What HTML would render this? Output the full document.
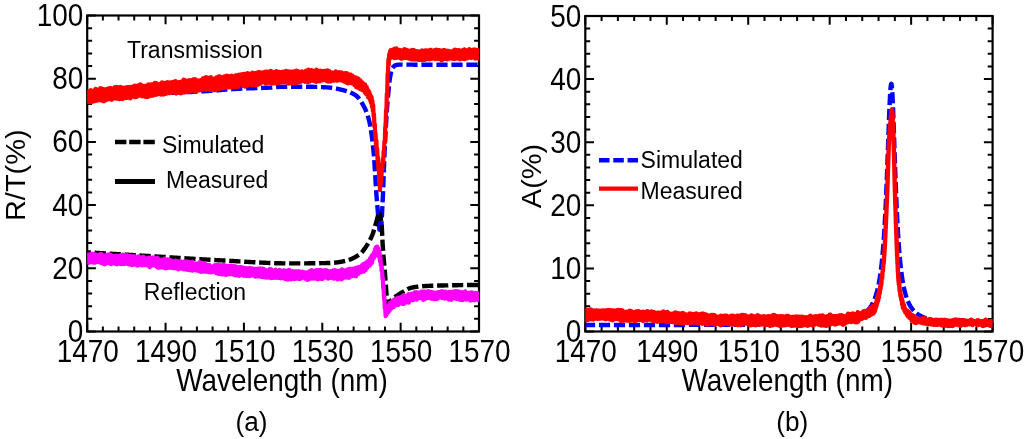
<!DOCTYPE html>
<html><head><meta charset="utf-8"><style>
html,body{margin:0;padding:0;background:#fff;}
svg{display:block;}
text{font-family:"Liberation Sans", sans-serif;fill:#000;}
</style></head><body>
<svg width="1024" height="439" viewBox="0 0 1024 439">
<rect width="1024" height="439" fill="#fff"/>
<defs><clipPath id="ca"><rect x="87.2" y="15.5" width="391.80" height="316.00"/></clipPath>
<clipPath id="cb"><rect x="585.3" y="16.0" width="407.30" height="315.50"/></clipPath></defs>
<g fill="none" stroke="#000" stroke-width="2">
<path d="M87.20,331.50v-8.7M87.20,15.50v8.7M102.87,331.50v-4.9M102.87,15.50v4.9M118.54,331.50v-4.9M118.54,15.50v4.9M134.22,331.50v-4.9M134.22,15.50v4.9M149.89,331.50v-4.9M149.89,15.50v4.9M165.56,331.50v-8.7M165.56,15.50v8.7M181.23,331.50v-4.9M181.23,15.50v4.9M196.90,331.50v-4.9M196.90,15.50v4.9M212.58,331.50v-4.9M212.58,15.50v4.9M228.25,331.50v-4.9M228.25,15.50v4.9M243.92,331.50v-8.7M243.92,15.50v8.7M259.59,331.50v-4.9M259.59,15.50v4.9M275.26,331.50v-4.9M275.26,15.50v4.9M290.94,331.50v-4.9M290.94,15.50v4.9M306.61,331.50v-4.9M306.61,15.50v4.9M322.28,331.50v-8.7M322.28,15.50v8.7M337.95,331.50v-4.9M337.95,15.50v4.9M353.62,331.50v-4.9M353.62,15.50v4.9M369.30,331.50v-4.9M369.30,15.50v4.9M384.97,331.50v-4.9M384.97,15.50v4.9M400.64,331.50v-8.7M400.64,15.50v8.7M416.31,331.50v-4.9M416.31,15.50v4.9M431.98,331.50v-4.9M431.98,15.50v4.9M447.66,331.50v-4.9M447.66,15.50v4.9M463.33,331.50v-4.9M463.33,15.50v4.9M479.00,331.50v-8.7M479.00,15.50v8.7M87.20,331.50h8.7M479.00,331.50h-8.7M87.20,318.86h4.9M479.00,318.86h-4.9M87.20,306.22h4.9M479.00,306.22h-4.9M87.20,293.58h4.9M479.00,293.58h-4.9M87.20,280.94h4.9M479.00,280.94h-4.9M87.20,268.30h8.7M479.00,268.30h-8.7M87.20,255.66h4.9M479.00,255.66h-4.9M87.20,243.02h4.9M479.00,243.02h-4.9M87.20,230.38h4.9M479.00,230.38h-4.9M87.20,217.74h4.9M479.00,217.74h-4.9M87.20,205.10h8.7M479.00,205.10h-8.7M87.20,192.46h4.9M479.00,192.46h-4.9M87.20,179.82h4.9M479.00,179.82h-4.9M87.20,167.18h4.9M479.00,167.18h-4.9M87.20,154.54h4.9M479.00,154.54h-4.9M87.20,141.90h8.7M479.00,141.90h-8.7M87.20,129.26h4.9M479.00,129.26h-4.9M87.20,116.62h4.9M479.00,116.62h-4.9M87.20,103.98h4.9M479.00,103.98h-4.9M87.20,91.34h4.9M479.00,91.34h-4.9M87.20,78.70h8.7M479.00,78.70h-8.7M87.20,66.06h4.9M479.00,66.06h-4.9M87.20,53.42h4.9M479.00,53.42h-4.9M87.20,40.78h4.9M479.00,40.78h-4.9M87.20,28.14h4.9M479.00,28.14h-4.9M87.20,15.50h8.7M479.00,15.50h-8.7"/>
<path d="M585.30,331.50v-8.7M585.30,16.00v8.7M601.59,331.50v-4.9M601.59,16.00v4.9M617.88,331.50v-4.9M617.88,16.00v4.9M634.18,331.50v-4.9M634.18,16.00v4.9M650.47,331.50v-4.9M650.47,16.00v4.9M666.76,331.50v-8.7M666.76,16.00v8.7M683.05,331.50v-4.9M683.05,16.00v4.9M699.34,331.50v-4.9M699.34,16.00v4.9M715.64,331.50v-4.9M715.64,16.00v4.9M731.93,331.50v-4.9M731.93,16.00v4.9M748.22,331.50v-8.7M748.22,16.00v8.7M764.51,331.50v-4.9M764.51,16.00v4.9M780.80,331.50v-4.9M780.80,16.00v4.9M797.10,331.50v-4.9M797.10,16.00v4.9M813.39,331.50v-4.9M813.39,16.00v4.9M829.68,331.50v-8.7M829.68,16.00v8.7M845.97,331.50v-4.9M845.97,16.00v4.9M862.26,331.50v-4.9M862.26,16.00v4.9M878.56,331.50v-4.9M878.56,16.00v4.9M894.85,331.50v-4.9M894.85,16.00v4.9M911.14,331.50v-8.7M911.14,16.00v8.7M927.43,331.50v-4.9M927.43,16.00v4.9M943.72,331.50v-4.9M943.72,16.00v4.9M960.02,331.50v-4.9M960.02,16.00v4.9M976.31,331.50v-4.9M976.31,16.00v4.9M992.60,331.50v-8.7M992.60,16.00v8.7M585.30,331.50h8.7M992.60,331.50h-8.7M585.30,318.88h4.9M992.60,318.88h-4.9M585.30,306.26h4.9M992.60,306.26h-4.9M585.30,293.64h4.9M992.60,293.64h-4.9M585.30,281.02h4.9M992.60,281.02h-4.9M585.30,268.40h8.7M992.60,268.40h-8.7M585.30,255.78h4.9M992.60,255.78h-4.9M585.30,243.16h4.9M992.60,243.16h-4.9M585.30,230.54h4.9M992.60,230.54h-4.9M585.30,217.92h4.9M992.60,217.92h-4.9M585.30,205.30h8.7M992.60,205.30h-8.7M585.30,192.68h4.9M992.60,192.68h-4.9M585.30,180.06h4.9M992.60,180.06h-4.9M585.30,167.44h4.9M992.60,167.44h-4.9M585.30,154.82h4.9M992.60,154.82h-4.9M585.30,142.20h8.7M992.60,142.20h-8.7M585.30,129.58h4.9M992.60,129.58h-4.9M585.30,116.96h4.9M992.60,116.96h-4.9M585.30,104.34h4.9M992.60,104.34h-4.9M585.30,91.72h4.9M992.60,91.72h-4.9M585.30,79.10h8.7M992.60,79.10h-8.7M585.30,66.48h4.9M992.60,66.48h-4.9M585.30,53.86h4.9M992.60,53.86h-4.9M585.30,41.24h4.9M992.60,41.24h-4.9M585.30,28.62h4.9M992.60,28.62h-4.9M585.30,16.00h8.7M992.60,16.00h-8.7"/>
</g>
<g fill="none" stroke="#000" stroke-width="2.2">
<rect x="87.2" y="15.5" width="391.80" height="316.00"/>
<rect x="585.3" y="16.0" width="407.30" height="315.50"/>
</g>
<g fill="none" stroke-linejoin="round" stroke-linecap="butt" clip-path="url(#ca)">
<polyline points="87.20,96.50 87.30,96.50 87.40,96.49 87.50,96.49 87.60,96.48 87.70,96.48 87.80,96.47 87.90,96.47 88.00,96.47 88.10,96.46 88.20,96.46 88.30,96.45 88.40,96.45 88.50,96.45 88.60,96.44 88.70,96.44 88.80,96.43 88.90,96.43 89.00,96.42 89.10,96.42 89.20,96.42 89.30,96.41 89.40,96.41 89.50,96.40 89.60,96.40 89.70,96.39 89.80,96.39 89.90,96.39 90.00,96.38 90.10,96.38 90.20,96.37 90.30,96.37 90.40,96.36 90.50,96.36 90.60,96.36 90.70,96.35 90.80,96.35 90.90,96.34 91.00,96.34 91.10,96.34 91.20,96.33 91.30,96.33 91.40,96.32 91.50,96.32 91.60,96.31 91.70,96.31 91.80,96.31 91.90,96.30 92.00,96.30 92.10,96.29 92.20,96.29 92.30,96.28 92.40,96.28 92.50,96.28 92.60,96.27 92.70,96.27 92.80,96.26 92.90,96.26 93.00,96.25 93.10,96.25 93.20,96.25 93.30,96.24 93.40,96.24 93.50,96.23 93.60,96.23 93.70,96.23 93.80,96.22 93.90,96.22 94.00,96.21 94.10,96.21 94.20,96.20 94.30,96.20 94.40,96.20 94.50,96.19 94.60,96.19 94.70,96.18 94.80,96.18 94.90,96.17 95.00,96.17 95.10,96.17 95.20,96.16 95.30,96.16 95.40,96.15 95.50,96.15 95.60,96.14 95.70,96.14 95.80,96.14 95.90,96.13 96.00,96.13 96.10,96.12 96.20,96.12 96.30,96.11 96.40,96.11 96.50,96.11 96.60,96.10 96.70,96.10 96.80,96.09 96.90,96.09 97.00,96.09 97.10,96.08 97.20,96.08 97.30,96.07 97.40,96.07 97.50,96.06 97.60,96.06 97.70,96.06 97.80,96.05 97.90,96.05 98.00,96.04 98.10,96.04 98.20,96.03 98.30,96.03 98.40,96.03 98.50,96.02 98.60,96.02 98.70,96.01 98.80,96.01 98.90,96.00 99.00,96.00 99.10,96.00 99.20,95.99 99.30,95.99 99.40,95.98 99.50,95.98 99.60,95.97 99.70,95.97 99.80,95.97 99.90,95.96 100.00,95.96 100.10,95.95 100.20,95.95 100.30,95.94 100.40,95.94 100.50,95.94 100.60,95.93 100.70,95.93 100.80,95.92 100.90,95.92 101.00,95.91 101.10,95.91 101.20,95.91 101.30,95.90 101.40,95.90 101.50,95.89 101.60,95.89 101.70,95.88 101.80,95.88 101.90,95.88 102.00,95.87 102.10,95.87 102.20,95.86 102.30,95.86 102.40,95.86 102.50,95.85 102.60,95.85 102.70,95.84 102.80,95.84 102.90,95.83 103.00,95.83 103.10,95.83 103.20,95.82 103.30,95.82 103.40,95.81 103.50,95.81 103.60,95.80 103.70,95.80 103.80,95.80 103.90,95.79 104.00,95.79 104.10,95.78 104.20,95.78 104.30,95.77 104.40,95.77 104.50,95.77 104.60,95.76 104.70,95.76 104.80,95.75 104.90,95.75 105.00,95.74 105.10,95.74 105.20,95.74 105.30,95.73 105.40,95.73 105.50,95.72 105.60,95.72 105.70,95.71 105.80,95.71 105.90,95.71 106.00,95.70 106.10,95.70 106.20,95.69 106.30,95.69 106.40,95.68 106.50,95.68 106.60,95.68 106.70,95.67 106.80,95.67 106.90,95.66 107.00,95.66 107.10,95.65 107.20,95.65 107.30,95.65 107.40,95.64 107.50,95.64 107.60,95.63 107.70,95.63 107.80,95.62 107.90,95.62 108.00,95.62 108.10,95.61 108.20,95.61 108.30,95.60 108.40,95.60 108.50,95.59 108.60,95.59 108.70,95.59 108.80,95.58 108.90,95.58 109.00,95.57 109.10,95.57 109.20,95.56 109.30,95.56 109.40,95.55 109.50,95.55 109.60,95.55 109.70,95.54 109.80,95.54 109.90,95.53 110.00,95.53 110.10,95.52 110.20,95.52 110.30,95.52 110.40,95.51 110.50,95.51 110.60,95.50 110.70,95.50 110.80,95.49 110.90,95.49 111.00,95.49 111.10,95.48 111.20,95.48 111.30,95.47 111.40,95.47 111.50,95.46 111.60,95.46 111.70,95.46 111.80,95.45 111.90,95.45 112.00,95.44 112.10,95.44 112.20,95.43 112.30,95.43 112.40,95.43 112.50,95.42 112.60,95.42 112.70,95.41 112.80,95.41 112.90,95.40 113.00,95.40 113.10,95.40 113.20,95.39 113.30,95.39 113.40,95.38 113.50,95.38 113.60,95.37 113.70,95.37 113.80,95.37 113.90,95.36 114.00,95.36 114.10,95.35 114.20,95.35 114.30,95.34 114.40,95.34 114.50,95.34 114.60,95.33 114.70,95.33 114.80,95.32 114.90,95.32 115.00,95.31 115.10,95.31 115.20,95.30 115.30,95.30 115.40,95.30 115.50,95.29 115.60,95.29 115.70,95.28 115.80,95.28 115.90,95.27 116.00,95.27 116.10,95.27 116.20,95.26 116.30,95.26 116.40,95.25 116.50,95.25 116.60,95.24 116.70,95.24 116.80,95.24 116.90,95.23 117.00,95.23 117.10,95.22 117.20,95.22 117.30,95.21 117.40,95.21 117.50,95.21 117.60,95.20 117.70,95.20 117.80,95.19 117.90,95.19 118.00,95.18 118.10,95.18 118.20,95.18 118.30,95.17 118.40,95.17 118.50,95.16 118.60,95.16 118.70,95.15 118.80,95.15 118.90,95.14 119.00,95.14 119.10,95.14 119.20,95.13 119.30,95.13 119.40,95.12 119.50,95.12 119.60,95.11 119.70,95.11 119.80,95.11 119.90,95.10 120.00,95.10 120.10,95.09 120.20,95.09 120.30,95.08 120.40,95.08 120.50,95.08 120.60,95.07 120.70,95.07 120.80,95.06 120.90,95.06 121.00,95.05 121.10,95.05 121.20,95.04 121.30,95.04 121.40,95.04 121.50,95.03 121.60,95.03 121.70,95.02 121.80,95.02 121.90,95.01 122.00,95.01 122.10,95.01 122.20,95.00 122.30,95.00 122.40,94.99 122.50,94.99 122.60,94.98 122.70,94.98 122.80,94.98 122.90,94.97 123.00,94.97 123.10,94.96 123.20,94.96 123.30,94.95 123.40,94.95 123.50,94.94 123.60,94.94 123.70,94.94 123.80,94.93 123.90,94.93 124.00,94.92 124.10,94.92 124.20,94.91 124.30,94.91 124.40,94.91 124.50,94.90 124.60,94.90 124.70,94.89 124.80,94.89 124.90,94.88 125.00,94.88 125.10,94.88 125.20,94.87 125.30,94.87 125.40,94.86 125.50,94.86 125.60,94.85 125.70,94.85 125.80,94.84 125.90,94.84 126.00,94.84 126.10,94.83 126.20,94.83 126.30,94.82 126.40,94.82 126.50,94.81 126.60,94.81 126.70,94.81 126.80,94.80 126.90,94.80 127.00,94.79 127.10,94.79 127.20,94.78 127.30,94.78 127.40,94.77 127.50,94.77 127.60,94.77 127.70,94.76 127.80,94.76 127.90,94.75 128.00,94.75 128.10,94.74 128.20,94.74 128.30,94.74 128.40,94.73 128.50,94.73 128.60,94.72 128.70,94.72 128.80,94.71 128.90,94.71 129.00,94.70 129.10,94.70 129.20,94.70 129.30,94.69 129.40,94.69 129.50,94.68 129.60,94.68 129.70,94.67 129.80,94.67 129.90,94.67 130.00,94.66 130.10,94.66 130.20,94.65 130.30,94.65 130.40,94.64 130.50,94.64 130.60,94.63 130.70,94.63 130.80,94.63 130.90,94.62 131.00,94.62 131.10,94.61 131.20,94.61 131.30,94.60 131.40,94.60 131.50,94.60 131.60,94.59 131.70,94.59 131.80,94.58 131.90,94.58 132.00,94.57 132.10,94.57 132.20,94.56 132.30,94.56 132.40,94.56 132.50,94.55 132.60,94.55 132.70,94.54 132.80,94.54 132.90,94.53 133.00,94.53 133.10,94.53 133.20,94.52 133.30,94.52 133.40,94.51 133.50,94.51 133.60,94.50 133.70,94.50 133.80,94.49 133.90,94.49 134.00,94.49 134.10,94.48 134.20,94.48 134.30,94.47 134.40,94.47 134.50,94.46 134.60,94.46 134.70,94.45 134.80,94.45 134.90,94.45 135.00,94.44 135.10,94.44 135.20,94.43 135.30,94.43 135.40,94.42 135.50,94.42 135.60,94.42 135.70,94.41 135.80,94.41 135.90,94.40 136.00,94.40 136.10,94.39 136.20,94.39 136.30,94.38 136.40,94.38 136.50,94.38 136.60,94.37 136.70,94.37 136.80,94.36 136.90,94.36 137.00,94.35 137.10,94.35 137.20,94.34 137.30,94.34 137.40,94.34 137.50,94.33 137.60,94.33 137.70,94.32 137.80,94.32 137.90,94.31 138.00,94.31 138.10,94.31 138.20,94.30 138.30,94.30 138.40,94.29 138.50,94.29 138.60,94.28 138.70,94.28 138.80,94.27 138.90,94.27 139.00,94.27 139.10,94.26 139.20,94.26 139.30,94.25 139.40,94.25 139.50,94.24 139.60,94.24 139.70,94.23 139.80,94.23 139.90,94.23 140.00,94.22 140.10,94.22 140.20,94.21 140.30,94.21 140.40,94.20 140.50,94.20 140.60,94.19 140.70,94.19 140.80,94.19 140.90,94.18 141.00,94.18 141.10,94.17 141.20,94.17 141.30,94.16 141.40,94.16 141.50,94.15 141.60,94.15 141.70,94.15 141.80,94.14 141.90,94.14 142.00,94.13 142.10,94.13 142.20,94.12 142.30,94.12 142.40,94.12 142.50,94.11 142.60,94.11 142.70,94.10 142.80,94.10 142.90,94.09 143.00,94.09 143.10,94.08 143.20,94.08 143.30,94.08 143.40,94.07 143.50,94.07 143.60,94.06 143.70,94.06 143.80,94.05 143.90,94.05 144.00,94.04 144.10,94.04 144.20,94.04 144.30,94.03 144.40,94.03 144.50,94.02 144.60,94.02 144.70,94.01 144.80,94.01 144.90,94.00 145.00,94.00 145.10,94.00 145.20,93.99 145.30,93.99 145.40,93.98 145.50,93.98 145.60,93.97 145.70,93.97 145.80,93.96 145.90,93.96 146.00,93.96 146.10,93.95 146.20,93.95 146.30,93.94 146.40,93.94 146.50,93.93 146.60,93.93 146.70,93.93 146.80,93.92 146.90,93.92 147.00,93.91 147.10,93.91 147.20,93.90 147.30,93.90 147.40,93.89 147.50,93.89 147.60,93.89 147.70,93.88 147.80,93.88 147.90,93.87 148.00,93.87 148.10,93.86 148.20,93.86 148.30,93.86 148.40,93.85 148.50,93.85 148.60,93.84 148.70,93.84 148.80,93.83 148.90,93.83 149.00,93.82 149.10,93.82 149.20,93.82 149.30,93.81 149.40,93.81 149.50,93.80 149.60,93.80 149.70,93.79 149.80,93.79 149.90,93.79 150.00,93.78 150.10,93.78 150.20,93.77 150.30,93.77 150.40,93.76 150.50,93.76 150.60,93.76 150.70,93.75 150.80,93.75 150.90,93.74 151.00,93.74 151.10,93.73 151.20,93.73 151.30,93.73 151.40,93.72 151.50,93.72 151.60,93.71 151.70,93.71 151.80,93.70 151.90,93.70 152.00,93.70 152.10,93.69 152.20,93.69 152.30,93.68 152.40,93.68 152.50,93.67 152.60,93.67 152.70,93.67 152.80,93.66 152.90,93.66 153.00,93.65 153.10,93.65 153.20,93.64 153.30,93.64 153.40,93.64 153.50,93.63 153.60,93.63 153.70,93.62 153.80,93.62 153.90,93.61 154.00,93.61 154.10,93.61 154.20,93.60 154.30,93.60 154.40,93.59 154.50,93.59 154.60,93.59 154.70,93.58 154.80,93.58 154.90,93.57 155.00,93.57 155.10,93.56 155.20,93.56 155.30,93.56 155.40,93.55 155.50,93.55 155.60,93.54 155.70,93.54 155.80,93.53 155.90,93.53 156.00,93.53 156.10,93.52 156.20,93.52 156.30,93.51 156.40,93.51 156.50,93.50 156.60,93.50 156.70,93.50 156.80,93.49 156.90,93.49 157.00,93.48 157.10,93.48 157.20,93.48 157.30,93.47 157.40,93.47 157.50,93.46 157.60,93.46 157.70,93.45 157.80,93.45 157.90,93.45 158.00,93.44 158.10,93.44 158.20,93.43 158.30,93.43 158.40,93.42 158.50,93.42 158.60,93.42 158.70,93.41 158.80,93.41 158.90,93.40 159.00,93.40 159.10,93.40 159.20,93.39 159.30,93.39 159.40,93.38 159.50,93.38 159.60,93.37 159.70,93.37 159.80,93.37 159.90,93.36 160.00,93.36 160.10,93.35 160.20,93.35 160.30,93.35 160.40,93.34 160.50,93.34 160.60,93.33 160.70,93.33 160.80,93.32 160.90,93.32 161.00,93.32 161.10,93.31 161.20,93.31 161.30,93.30 161.40,93.30 161.50,93.29 161.60,93.29 161.70,93.29 161.80,93.28 161.90,93.28 162.00,93.27 162.10,93.27 162.20,93.27 162.30,93.26 162.40,93.26 162.50,93.25 162.60,93.25 162.70,93.24 162.80,93.24 162.90,93.24 163.00,93.23 163.10,93.23 163.20,93.22 163.30,93.22 163.40,93.21 163.50,93.21 163.60,93.21 163.70,93.20 163.80,93.20 163.90,93.19 164.00,93.19 164.10,93.19 164.20,93.18 164.30,93.18 164.40,93.17 164.50,93.17 164.60,93.16 164.70,93.16 164.80,93.16 164.90,93.15 165.00,93.15 165.10,93.14 165.20,93.14 165.30,93.13 165.40,93.13 165.50,93.13 165.60,93.12 165.70,93.12 165.80,93.11 165.90,93.11 166.00,93.11 166.10,93.10 166.20,93.10 166.30,93.09 166.40,93.09 166.50,93.08 166.60,93.08 166.70,93.08 166.80,93.07 166.90,93.07 167.00,93.06 167.10,93.06 167.20,93.05 167.30,93.05 167.40,93.05 167.50,93.04 167.60,93.04 167.70,93.03 167.80,93.03 167.90,93.03 168.00,93.02 168.10,93.02 168.20,93.01 168.30,93.01 168.40,93.00 168.50,93.00 168.60,93.00 168.70,92.99 168.80,92.99 168.90,92.98 169.00,92.98 169.10,92.97 169.20,92.97 169.30,92.97 169.40,92.96 169.50,92.96 169.60,92.95 169.70,92.95 169.80,92.94 169.90,92.94 170.00,92.94 170.10,92.93 170.20,92.93 170.30,92.92 170.40,92.92 170.50,92.91 170.60,92.91 170.70,92.91 170.80,92.90 170.90,92.90 171.00,92.89 171.10,92.89 171.20,92.88 171.30,92.88 171.40,92.88 171.50,92.87 171.60,92.87 171.70,92.86 171.80,92.86 171.90,92.85 172.00,92.85 172.10,92.85 172.20,92.84 172.30,92.84 172.40,92.83 172.50,92.83 172.60,92.82 172.70,92.82 172.80,92.82 172.90,92.81 173.00,92.81 173.10,92.80 173.20,92.80 173.30,92.79 173.40,92.79 173.50,92.79 173.60,92.78 173.70,92.78 173.80,92.77 173.90,92.77 174.00,92.76 174.10,92.76 174.20,92.75 174.30,92.75 174.40,92.75 174.50,92.74 174.60,92.74 174.70,92.73 174.80,92.73 174.90,92.72 175.00,92.72 175.10,92.72 175.20,92.71 175.30,92.71 175.40,92.70 175.50,92.70 175.60,92.69 175.70,92.69 175.80,92.68 175.90,92.68 176.00,92.68 176.10,92.67 176.20,92.67 176.30,92.66 176.40,92.66 176.50,92.65 176.60,92.65 176.70,92.65 176.80,92.64 176.90,92.64 177.00,92.63 177.10,92.63 177.20,92.62 177.30,92.62 177.40,92.61 177.50,92.61 177.60,92.61 177.70,92.60 177.80,92.60 177.90,92.59 178.00,92.59 178.10,92.58 178.20,92.58 178.30,92.57 178.40,92.57 178.50,92.57 178.60,92.56 178.70,92.56 178.80,92.55 178.90,92.55 179.00,92.54 179.10,92.54 179.20,92.53 179.30,92.53 179.40,92.52 179.50,92.52 179.60,92.52 179.70,92.51 179.80,92.51 179.90,92.50 180.00,92.50 180.10,92.49 180.20,92.49 180.30,92.48 180.40,92.48 180.50,92.47 180.60,92.47 180.70,92.47 180.80,92.46 180.90,92.46 181.00,92.45 181.10,92.45 181.20,92.44 181.30,92.44 181.40,92.43 181.50,92.43 181.60,92.42 181.70,92.42 181.80,92.42 181.90,92.41 182.00,92.41 182.10,92.40 182.20,92.40 182.30,92.39 182.40,92.39 182.50,92.38 182.60,92.38 182.70,92.37 182.80,92.37 182.90,92.36 183.00,92.36 183.10,92.36 183.20,92.35 183.30,92.35 183.40,92.34 183.50,92.34 183.60,92.33 183.70,92.33 183.80,92.32 183.90,92.32 184.00,92.31 184.10,92.31 184.20,92.30 184.30,92.30 184.40,92.29 184.50,92.29 184.60,92.29 184.70,92.28 184.80,92.28 184.90,92.27 185.00,92.27 185.10,92.26 185.20,92.26 185.30,92.25 185.40,92.25 185.50,92.24 185.60,92.24 185.70,92.23 185.80,92.23 185.90,92.22 186.00,92.22 186.10,92.21 186.20,92.21 186.30,92.21 186.40,92.20 186.50,92.20 186.60,92.19 186.70,92.19 186.80,92.18 186.90,92.18 187.00,92.17 187.10,92.17 187.20,92.16 187.30,92.16 187.40,92.15 187.50,92.15 187.60,92.14 187.70,92.14 187.80,92.13 187.90,92.13 188.00,92.12 188.10,92.12 188.20,92.11 188.30,92.11 188.40,92.10 188.50,92.10 188.60,92.09 188.70,92.09 188.80,92.08 188.90,92.08 189.00,92.07 189.10,92.07 189.20,92.06 189.30,92.06 189.40,92.05 189.50,92.05 189.60,92.04 189.70,92.04 189.80,92.03 189.90,92.03 190.00,92.03 190.10,92.02 190.20,92.02 190.30,92.01 190.40,92.01 190.50,92.00 190.60,92.00 190.70,91.99 190.80,91.99 190.90,91.98 191.00,91.98 191.10,91.97 191.20,91.97 191.30,91.96 191.40,91.96 191.50,91.95 191.60,91.95 191.70,91.94 191.80,91.93 191.90,91.93 192.00,91.92 192.10,91.92 192.20,91.91 192.30,91.91 192.40,91.90 192.50,91.90 192.60,91.89 192.70,91.89 192.80,91.88 192.90,91.88 193.00,91.87 193.10,91.87 193.20,91.86 193.30,91.86 193.40,91.85 193.50,91.85 193.60,91.84 193.70,91.84 193.80,91.83 193.90,91.83 194.00,91.82 194.10,91.82 194.20,91.81 194.30,91.81 194.40,91.80 194.50,91.80 194.60,91.79 194.70,91.79 194.80,91.78 194.90,91.78 195.00,91.77 195.10,91.76 195.20,91.76 195.30,91.75 195.40,91.75 195.50,91.74 195.60,91.74 195.70,91.73 195.80,91.73 195.90,91.72 196.00,91.72 196.10,91.71 196.20,91.71 196.30,91.70 196.40,91.70 196.50,91.69 196.60,91.69 196.70,91.68 196.80,91.67 196.90,91.67 197.00,91.66 197.10,91.66 197.20,91.65 197.30,91.65 197.40,91.64 197.50,91.64 197.60,91.63 197.70,91.63 197.80,91.62 197.90,91.62 198.00,91.61 198.10,91.60 198.20,91.60 198.30,91.59 198.40,91.59 198.50,91.58 198.60,91.58 198.70,91.57 198.80,91.57 198.90,91.56 199.00,91.56 199.10,91.55 199.20,91.54 199.30,91.54 199.40,91.53 199.50,91.53 199.60,91.52 199.70,91.52 199.80,91.51 199.90,91.51 200.00,91.50 200.10,91.49 200.20,91.49 200.30,91.48 200.40,91.48 200.50,91.47 200.60,91.47 200.70,91.46 200.80,91.45 200.90,91.45 201.00,91.44 201.10,91.44 201.20,91.43 201.30,91.43 201.40,91.42 201.50,91.41 201.60,91.41 201.70,91.40 201.80,91.40 201.90,91.39 202.00,91.38 202.10,91.38 202.20,91.37 202.30,91.37 202.40,91.36 202.50,91.35 202.60,91.35 202.70,91.34 202.80,91.33 202.90,91.33 203.00,91.32 203.10,91.32 203.20,91.31 203.30,91.30 203.40,91.30 203.50,91.29 203.60,91.28 203.70,91.28 203.80,91.27 203.90,91.26 204.00,91.26 204.10,91.25 204.20,91.25 204.30,91.24 204.40,91.23 204.50,91.23 204.60,91.22 204.70,91.21 204.80,91.21 204.90,91.20 205.00,91.19 205.10,91.19 205.20,91.18 205.30,91.17 205.40,91.17 205.50,91.16 205.60,91.15 205.70,91.15 205.80,91.14 205.90,91.13 206.00,91.12 206.10,91.12 206.20,91.11 206.30,91.10 206.40,91.10 206.50,91.09 206.60,91.08 206.70,91.08 206.80,91.07 206.90,91.06 207.00,91.06 207.10,91.05 207.20,91.04 207.30,91.03 207.40,91.03 207.50,91.02 207.60,91.01 207.70,91.01 207.80,91.00 207.90,90.99 208.00,90.98 208.10,90.98 208.20,90.97 208.30,90.96 208.40,90.96 208.50,90.95 208.60,90.94 208.70,90.93 208.80,90.93 208.90,90.92 209.00,90.91 209.10,90.90 209.20,90.90 209.30,90.89 209.40,90.88 209.50,90.87 209.60,90.87 209.70,90.86 209.80,90.85 209.90,90.85 210.00,90.84 210.10,90.83 210.20,90.82 210.30,90.82 210.40,90.81 210.50,90.80 210.60,90.79 210.70,90.79 210.80,90.78 210.90,90.77 211.00,90.76 211.10,90.76 211.20,90.75 211.30,90.74 211.40,90.73 211.50,90.73 211.60,90.72 211.70,90.71 211.80,90.70 211.90,90.69 212.00,90.69 212.10,90.68 212.20,90.67 212.30,90.66 212.40,90.66 212.50,90.65 212.60,90.64 212.70,90.63 212.80,90.63 212.90,90.62 213.00,90.61 213.10,90.60 213.20,90.59 213.30,90.59 213.40,90.58 213.50,90.57 213.60,90.56 213.70,90.56 213.80,90.55 213.90,90.54 214.00,90.53 214.10,90.52 214.20,90.52 214.30,90.51 214.40,90.50 214.50,90.49 214.60,90.49 214.70,90.48 214.80,90.47 214.90,90.46 215.00,90.45 215.10,90.45 215.20,90.44 215.30,90.43 215.40,90.42 215.50,90.41 215.60,90.41 215.70,90.40 215.80,90.39 215.90,90.38 216.00,90.38 216.10,90.37 216.20,90.36 216.30,90.35 216.40,90.34 216.50,90.34 216.60,90.33 216.70,90.32 216.80,90.31 216.90,90.30 217.00,90.30 217.10,90.29 217.20,90.28 217.30,90.27 217.40,90.26 217.50,90.26 217.60,90.25 217.70,90.24 217.80,90.23 217.90,90.22 218.00,90.22 218.10,90.21 218.20,90.20 218.30,90.19 218.40,90.19 218.50,90.18 218.60,90.17 218.70,90.16 218.80,90.15 218.90,90.15 219.00,90.14 219.10,90.13 219.20,90.12 219.30,90.11 219.40,90.11 219.50,90.10 219.60,90.09 219.70,90.08 219.80,90.07 219.90,90.07 220.00,90.06 220.10,90.05 220.20,90.04 220.30,90.03 220.40,90.03 220.50,90.02 220.60,90.01 220.70,90.00 220.80,90.00 220.90,89.99 221.00,89.98 221.10,89.97 221.20,89.96 221.30,89.96 221.40,89.95 221.50,89.94 221.60,89.93 221.70,89.92 221.80,89.92 221.90,89.91 222.00,89.90 222.10,89.89 222.20,89.88 222.30,89.88 222.40,89.87 222.50,89.86 222.60,89.85 222.70,89.85 222.80,89.84 222.90,89.83 223.00,89.82 223.10,89.81 223.20,89.81 223.30,89.80 223.40,89.79 223.50,89.78 223.60,89.78 223.70,89.77 223.80,89.76 223.90,89.75 224.00,89.74 224.10,89.74 224.20,89.73 224.30,89.72 224.40,89.71 224.50,89.71 224.60,89.70 224.70,89.69 224.80,89.68 224.90,89.68 225.00,89.67 225.10,89.66 225.20,89.65 225.30,89.64 225.40,89.64 225.50,89.63 225.60,89.62 225.70,89.61 225.80,89.61 225.90,89.60 226.00,89.59 226.10,89.58 226.20,89.58 226.30,89.57 226.40,89.56 226.50,89.55 226.60,89.55 226.70,89.54 226.80,89.53 226.90,89.52 227.00,89.52 227.10,89.51 227.20,89.50 227.30,89.49 227.40,89.49 227.50,89.48 227.60,89.47 227.70,89.47 227.80,89.46 227.90,89.45 228.00,89.44 228.10,89.44 228.20,89.43 228.30,89.42 228.40,89.41 228.50,89.41 228.60,89.40 228.70,89.39 228.80,89.39 228.90,89.38 229.00,89.37 229.10,89.36 229.20,89.36 229.30,89.35 229.40,89.34 229.50,89.34 229.60,89.33 229.70,89.32 229.80,89.31 229.90,89.31 230.00,89.30 230.10,89.29 230.20,89.29 230.30,89.28 230.40,89.27 230.50,89.26 230.60,89.26 230.70,89.25 230.80,89.24 230.90,89.24 231.00,89.23 231.10,89.22 231.20,89.22 231.30,89.21 231.40,89.20 231.50,89.20 231.60,89.19 231.70,89.18 231.80,89.18 231.90,89.17 232.00,89.16 232.10,89.16 232.20,89.15 232.30,89.14 232.40,89.14 232.50,89.13 232.60,89.12 232.70,89.12 232.80,89.11 232.90,89.10 233.00,89.10 233.10,89.09 233.20,89.08 233.30,89.08 233.40,89.07 233.50,89.06 233.60,89.06 233.70,89.05 233.80,89.05 233.90,89.04 234.00,89.03 234.10,89.03 234.20,89.02 234.30,89.01 234.40,89.01 234.50,89.00 234.60,89.00 234.70,88.99 234.80,88.98 234.90,88.98 235.00,88.97 235.10,88.97 235.20,88.96 235.30,88.95 235.40,88.95 235.50,88.94 235.60,88.94 235.70,88.93 235.80,88.92 235.90,88.92 236.00,88.91 236.10,88.91 236.20,88.90 236.30,88.89 236.40,88.89 236.50,88.88 236.60,88.88 236.70,88.87 236.80,88.87 236.90,88.86 237.00,88.86 237.10,88.85 237.20,88.84 237.30,88.84 237.40,88.83 237.50,88.83 237.60,88.82 237.70,88.82 237.80,88.81 237.90,88.81 238.00,88.80 238.10,88.80 238.20,88.79 238.30,88.78 238.40,88.78 238.50,88.77 238.60,88.77 238.70,88.76 238.80,88.76 238.90,88.75 239.00,88.75 239.10,88.74 239.20,88.74 239.30,88.73 239.40,88.73 239.50,88.72 239.60,88.72 239.70,88.71 239.80,88.71 239.90,88.70 240.00,88.70 240.10,88.70 240.20,88.69 240.30,88.69 240.40,88.68 240.50,88.68 240.60,88.67 240.70,88.67 240.80,88.66 240.90,88.66 241.00,88.65 241.10,88.65 241.20,88.64 241.30,88.64 241.40,88.64 241.50,88.63 241.60,88.63 241.70,88.62 241.80,88.62 241.90,88.61 242.00,88.61 242.10,88.61 242.20,88.60 242.30,88.60 242.40,88.59 242.50,88.59 242.60,88.58 242.70,88.58 242.80,88.58 242.90,88.57 243.00,88.57 243.10,88.56 243.20,88.56 243.30,88.55 243.40,88.55 243.50,88.55 243.60,88.54 243.70,88.54 243.80,88.53 243.90,88.53 244.00,88.53 244.10,88.52 244.20,88.52 244.30,88.52 244.40,88.51 244.50,88.51 244.60,88.50 244.70,88.50 244.80,88.50 244.90,88.49 245.00,88.49 245.10,88.48 245.20,88.48 245.30,88.48 245.40,88.47 245.50,88.47 245.60,88.47 245.70,88.46 245.80,88.46 245.90,88.45 246.00,88.45 246.10,88.45 246.20,88.44 246.30,88.44 246.40,88.44 246.50,88.43 246.60,88.43 246.70,88.43 246.80,88.42 246.90,88.42 247.00,88.41 247.10,88.41 247.20,88.41 247.30,88.40 247.40,88.40 247.50,88.40 247.60,88.39 247.70,88.39 247.80,88.39 247.90,88.38 248.00,88.38 248.10,88.38 248.20,88.37 248.30,88.37 248.40,88.37 248.50,88.36 248.60,88.36 248.70,88.36 248.80,88.35 248.90,88.35 249.00,88.35 249.10,88.34 249.20,88.34 249.30,88.34 249.40,88.33 249.50,88.33 249.60,88.33 249.70,88.32 249.80,88.32 249.90,88.32 250.00,88.31 250.10,88.31 250.20,88.31 250.30,88.30 250.40,88.30 250.50,88.30 250.60,88.29 250.70,88.29 250.80,88.29 250.90,88.28 251.00,88.28 251.10,88.28 251.20,88.28 251.30,88.27 251.40,88.27 251.50,88.27 251.60,88.26 251.70,88.26 251.80,88.26 251.90,88.25 252.00,88.25 252.10,88.25 252.20,88.24 252.30,88.24 252.40,88.24 252.50,88.23 252.60,88.23 252.70,88.23 252.80,88.23 252.90,88.22 253.00,88.22 253.10,88.22 253.20,88.21 253.30,88.21 253.40,88.21 253.50,88.20 253.60,88.20 253.70,88.20 253.80,88.19 253.90,88.19 254.00,88.19 254.10,88.18 254.20,88.18 254.30,88.18 254.40,88.18 254.50,88.17 254.60,88.17 254.70,88.17 254.80,88.16 254.90,88.16 255.00,88.16 255.10,88.15 255.20,88.15 255.30,88.15 255.40,88.14 255.50,88.14 255.60,88.14 255.70,88.14 255.80,88.13 255.90,88.13 256.00,88.13 256.10,88.12 256.20,88.12 256.30,88.12 256.40,88.11 256.50,88.11 256.60,88.11 256.70,88.10 256.80,88.10 256.90,88.10 257.00,88.10 257.10,88.09 257.20,88.09 257.30,88.09 257.40,88.08 257.50,88.08 257.60,88.08 257.70,88.07 257.80,88.07 257.90,88.07 258.00,88.06 258.10,88.06 258.20,88.06 258.30,88.05 258.40,88.05 258.50,88.05 258.60,88.04 258.70,88.04 258.80,88.04 258.90,88.04 259.00,88.03 259.10,88.03 259.20,88.03 259.30,88.02 259.40,88.02 259.50,88.02 259.60,88.01 259.70,88.01 259.80,88.01 259.90,88.00 260.00,88.00 260.10,88.00 260.20,87.99 260.30,87.99 260.40,87.99 260.50,87.98 260.60,87.98 260.70,87.98 260.80,87.97 260.90,87.97 261.00,87.97 261.10,87.96 261.20,87.96 261.30,87.96 261.40,87.95 261.50,87.95 261.60,87.95 261.70,87.94 261.80,87.94 261.90,87.93 262.00,87.93 262.10,87.93 262.20,87.92 262.30,87.92 262.40,87.92 262.50,87.91 262.60,87.91 262.70,87.91 262.80,87.90 262.90,87.90 263.00,87.90 263.10,87.89 263.20,87.89 263.30,87.88 263.40,87.88 263.50,87.88 263.60,87.87 263.70,87.87 263.80,87.87 263.90,87.86 264.00,87.86 264.10,87.85 264.20,87.85 264.30,87.85 264.40,87.84 264.50,87.84 264.60,87.84 264.70,87.83 264.80,87.83 264.90,87.82 265.00,87.82 265.10,87.82 265.20,87.81 265.30,87.81 265.40,87.80 265.50,87.80 265.60,87.80 265.70,87.79 265.80,87.79 265.90,87.78 266.00,87.78 266.10,87.78 266.20,87.77 266.30,87.77 266.40,87.76 266.50,87.76 266.60,87.75 266.70,87.75 266.80,87.75 266.90,87.74 267.00,87.74 267.10,87.73 267.20,87.73 267.30,87.73 267.40,87.72 267.50,87.72 267.60,87.71 267.70,87.71 267.80,87.70 267.90,87.70 268.00,87.69 268.10,87.69 268.20,87.69 268.30,87.68 268.40,87.68 268.50,87.67 268.60,87.67 268.70,87.66 268.80,87.66 268.90,87.65 269.00,87.65 269.10,87.64 269.20,87.64 269.30,87.63 269.40,87.63 269.50,87.62 269.60,87.62 269.70,87.61 269.80,87.61 269.90,87.60 270.00,87.60 270.10,87.59 270.20,87.59 270.30,87.58 270.40,87.58 270.50,87.57 270.60,87.57 270.70,87.56 270.80,87.56 270.90,87.55 271.00,87.54 271.10,87.54 271.20,87.53 271.30,87.52 271.40,87.52 271.50,87.51 271.60,87.50 271.70,87.49 271.80,87.49 271.90,87.48 272.00,87.47 272.10,87.46 272.20,87.46 272.30,87.45 272.40,87.44 272.50,87.43 272.60,87.42 272.70,87.42 272.80,87.41 272.90,87.40 273.00,87.39 273.10,87.38 273.20,87.37 273.30,87.37 273.40,87.36 273.50,87.35 273.60,87.34 273.70,87.33 273.80,87.32 273.90,87.31 274.00,87.30 274.10,87.30 274.20,87.29 274.30,87.28 274.40,87.27 274.50,87.26 274.60,87.25 274.70,87.24 274.80,87.23 274.90,87.22 275.00,87.22 275.10,87.21 275.20,87.20 275.30,87.19 275.40,87.18 275.50,87.17 275.60,87.16 275.70,87.15 275.80,87.14 275.90,87.13 276.00,87.13 276.10,87.12 276.20,87.11 276.30,87.10 276.40,87.09 276.50,87.08 276.60,87.07 276.70,87.07 276.80,87.06 276.90,87.05 277.00,87.04 277.10,87.03 277.20,87.02 277.30,87.02 277.40,87.01 277.50,87.00 277.60,86.99 277.70,86.99 277.80,86.98 277.90,86.97 278.00,86.96 278.10,86.96 278.20,86.95 278.30,86.94 278.40,86.94 278.50,86.93 278.60,86.92 278.70,86.92 278.80,86.91 278.90,86.90 279.00,86.90 279.10,86.89 279.20,86.89 279.30,86.88 279.40,86.87 279.50,86.87 279.60,86.86 279.70,86.86 279.80,86.85 279.90,86.85 280.00,86.85 280.10,86.84 280.20,86.84 280.30,86.83 280.40,86.83 280.50,86.83 280.60,86.82 280.70,86.82 280.80,86.82 280.90,86.81 281.00,86.81 281.10,86.81 281.20,86.81 281.30,86.81 281.40,86.80 281.50,86.80 281.60,86.80 281.70,86.80 281.80,86.80 281.90,86.80 282.00,86.80 282.10,86.80 282.20,86.80 282.30,86.80 282.40,86.80 282.50,86.80 282.60,86.80 282.70,86.80 282.80,86.80 282.90,86.80 283.00,86.80 283.10,86.80 283.20,86.80 283.30,86.80 283.40,86.80 283.50,86.80 283.60,86.80 283.70,86.80 283.80,86.80 283.90,86.80 284.00,86.80 284.10,86.80 284.20,86.80 284.30,86.80 284.40,86.80 284.50,86.80 284.60,86.80 284.70,86.80 284.80,86.80 284.90,86.80 285.00,86.80 285.10,86.80 285.20,86.80 285.30,86.80 285.40,86.80 285.50,86.80 285.60,86.80 285.70,86.80 285.80,86.80 285.90,86.80 286.00,86.80 286.10,86.80 286.20,86.80 286.30,86.80 286.40,86.80 286.50,86.80 286.60,86.80 286.70,86.80 286.80,86.80 286.90,86.80 287.00,86.80 287.10,86.80 287.20,86.80 287.30,86.80 287.40,86.80 287.50,86.80 287.60,86.80 287.70,86.80 287.80,86.80 287.90,86.80 288.00,86.80 288.10,86.80 288.20,86.80 288.30,86.80 288.40,86.80 288.50,86.80 288.60,86.80 288.70,86.80 288.80,86.80 288.90,86.80 289.00,86.80 289.10,86.80 289.20,86.80 289.30,86.80 289.40,86.80 289.50,86.80 289.60,86.80 289.70,86.80 289.80,86.80 289.90,86.80 290.00,86.80 290.10,86.80 290.20,86.80 290.30,86.80 290.40,86.80 290.50,86.80 290.60,86.80 290.70,86.80 290.80,86.80 290.90,86.80 291.00,86.80 291.10,86.80 291.20,86.80 291.30,86.80 291.40,86.80 291.50,86.80 291.60,86.80 291.70,86.80 291.80,86.80 291.90,86.80 292.00,86.80 292.10,86.80 292.20,86.80 292.30,86.80 292.40,86.80 292.50,86.80 292.60,86.80 292.70,86.80 292.80,86.80 292.90,86.80 293.00,86.80 293.10,86.80 293.20,86.80 293.30,86.80 293.40,86.80 293.50,86.80 293.60,86.80 293.70,86.80 293.80,86.80 293.90,86.80 294.00,86.80 294.10,86.80 294.20,86.80 294.30,86.80 294.40,86.80 294.50,86.80 294.60,86.80 294.70,86.80 294.80,86.80 294.90,86.80 295.00,86.80 295.10,86.80 295.20,86.80 295.30,86.80 295.40,86.80 295.50,86.80 295.60,86.80 295.70,86.80 295.80,86.80 295.90,86.80 296.00,86.80 296.10,86.80 296.20,86.80 296.30,86.80 296.40,86.80 296.50,86.80 296.60,86.80 296.70,86.80 296.80,86.80 296.90,86.80 297.00,86.80 297.10,86.80 297.20,86.80 297.30,86.80 297.40,86.80 297.50,86.80 297.60,86.80 297.70,86.80 297.80,86.80 297.90,86.80 298.00,86.80 298.10,86.80 298.20,86.80 298.30,86.80 298.40,86.80 298.50,86.80 298.60,86.80 298.70,86.80 298.80,86.80 298.90,86.80 299.00,86.80 299.10,86.80 299.20,86.80 299.30,86.80 299.40,86.80 299.50,86.80 299.60,86.80 299.70,86.80 299.80,86.80 299.90,86.80 300.00,86.80 300.10,86.80 300.20,86.80 300.30,86.80 300.40,86.80 300.50,86.80 300.60,86.80 300.70,86.80 300.80,86.80 300.90,86.80 301.00,86.80 301.10,86.80 301.20,86.80 301.30,86.80 301.40,86.80 301.50,86.80 301.60,86.80 301.70,86.80 301.80,86.80 301.90,86.80 302.00,86.80 302.10,86.80 302.20,86.80 302.30,86.80 302.40,86.80 302.50,86.80 302.60,86.80 302.70,86.80 302.80,86.80 302.90,86.80 303.00,86.80 303.10,86.80 303.20,86.80 303.30,86.80 303.40,86.80 303.50,86.80 303.60,86.80 303.70,86.80 303.80,86.80 303.90,86.80 304.00,86.80 304.10,86.80 304.20,86.80 304.30,86.80 304.40,86.80 304.50,86.80 304.60,86.80 304.70,86.80 304.80,86.80 304.90,86.80 305.00,86.80 305.10,86.80 305.20,86.80 305.30,86.80 305.40,86.80 305.50,86.80 305.60,86.80 305.70,86.80 305.80,86.80 305.90,86.80 306.00,86.80 306.10,86.80 306.20,86.80 306.30,86.80 306.40,86.80 306.50,86.80 306.60,86.80 306.70,86.80 306.80,86.80 306.90,86.80 307.00,86.80 307.10,86.80 307.20,86.80 307.30,86.80 307.40,86.80 307.50,86.80 307.60,86.80 307.70,86.80 307.80,86.80 307.90,86.80 308.00,86.80 308.10,86.80 308.20,86.80 308.30,86.80 308.40,86.80 308.50,86.80 308.60,86.80 308.70,86.80 308.80,86.80 308.90,86.80 309.00,86.80 309.10,86.80 309.20,86.80 309.30,86.80 309.40,86.80 309.50,86.80 309.60,86.80 309.70,86.80 309.80,86.80 309.90,86.80 310.00,86.80 310.10,86.80 310.20,86.80 310.30,86.80 310.40,86.80 310.50,86.80 310.60,86.80 310.70,86.80 310.80,86.80 310.90,86.80 311.00,86.80 311.10,86.80 311.20,86.80 311.30,86.80 311.40,86.80 311.50,86.81 311.60,86.81 311.70,86.81 311.80,86.81 311.90,86.81 312.00,86.81 312.10,86.81 312.20,86.81 312.30,86.81 312.40,86.81 312.50,86.82 312.60,86.82 312.70,86.82 312.80,86.82 312.90,86.82 313.00,86.82 313.10,86.82 313.20,86.82 313.30,86.83 313.40,86.83 313.50,86.83 313.60,86.83 313.70,86.83 313.80,86.83 313.90,86.84 314.00,86.84 314.10,86.84 314.20,86.84 314.30,86.84 314.40,86.85 314.50,86.85 314.60,86.85 314.70,86.85 314.80,86.85 314.90,86.86 315.00,86.86 315.10,86.86 315.20,86.86 315.30,86.87 315.40,86.87 315.50,86.87 315.60,86.87 315.70,86.88 315.80,86.88 315.90,86.88 316.00,86.88 316.10,86.89 316.20,86.89 316.30,86.89 316.40,86.90 316.50,86.90 316.60,86.90 316.70,86.90 316.80,86.91 316.90,86.91 317.00,86.91 317.10,86.92 317.20,86.92 317.30,86.92 317.40,86.93 317.50,86.93 317.60,86.93 317.70,86.94 317.80,86.94 317.90,86.94 318.00,86.95 318.10,86.95 318.20,86.95 318.30,86.96 318.40,86.96 318.50,86.96 318.60,86.97 318.70,86.97 318.80,86.98 318.90,86.98 319.00,86.98 319.10,86.99 319.20,86.99 319.30,87.00 319.40,87.00 319.50,87.00 319.60,87.01 319.70,87.01 319.80,87.02 319.90,87.02 320.00,87.02 320.10,87.03 320.20,87.03 320.30,87.04 320.40,87.04 320.50,87.05 320.60,87.05 320.70,87.05 320.80,87.06 320.90,87.06 321.00,87.07 321.10,87.07 321.20,87.08 321.30,87.08 321.40,87.09 321.50,87.09 321.60,87.10 321.70,87.10 321.80,87.11 321.90,87.11 322.00,87.12 322.10,87.12 322.20,87.13 322.30,87.13 322.40,87.14 322.50,87.14 322.60,87.15 322.70,87.15 322.80,87.16 322.90,87.16 323.00,87.17 323.10,87.17 323.20,87.18 323.30,87.18 323.40,87.19 323.50,87.19 323.60,87.20 323.70,87.20 323.80,87.21 323.90,87.21 324.00,87.22 324.10,87.23 324.20,87.23 324.30,87.24 324.40,87.24 324.50,87.25 324.60,87.25 324.70,87.26 324.80,87.27 324.90,87.27 325.00,87.28 325.10,87.28 325.20,87.29 325.30,87.29 325.40,87.30 325.50,87.31 325.60,87.31 325.70,87.32 325.80,87.32 325.90,87.33 326.00,87.34 326.10,87.34 326.20,87.35 326.30,87.35 326.40,87.36 326.50,87.37 326.60,87.37 326.70,87.38 326.80,87.39 326.90,87.39 327.00,87.40 327.10,87.41 327.20,87.41 327.30,87.42 327.40,87.42 327.50,87.43 327.60,87.44 327.70,87.44 327.80,87.45 327.90,87.46 328.00,87.46 328.10,87.47 328.20,87.48 328.30,87.48 328.40,87.49 328.50,87.50 328.60,87.50 328.70,87.51 328.80,87.52 328.90,87.52 329.00,87.53 329.10,87.54 329.20,87.54 329.30,87.55 329.40,87.56 329.50,87.57 329.60,87.57 329.70,87.58 329.80,87.59 329.90,87.59 330.00,87.60 330.10,87.61 330.20,87.61 330.30,87.62 330.40,87.63 330.50,87.64 330.60,87.65 330.70,87.66 330.80,87.67 330.90,87.68 331.00,87.69 331.10,87.70 331.20,87.71 331.30,87.72 331.40,87.73 331.50,87.74 331.60,87.75 331.70,87.76 331.80,87.78 331.90,87.79 332.00,87.80 332.10,87.82 332.20,87.83 332.30,87.84 332.40,87.86 332.50,87.87 332.60,87.88 332.70,87.90 332.80,87.91 332.90,87.93 333.00,87.94 333.10,87.96 333.20,87.98 333.30,87.99 333.40,88.01 333.50,88.02 333.60,88.04 333.70,88.06 333.80,88.07 333.90,88.09 334.00,88.11 334.10,88.13 334.20,88.15 334.30,88.16 334.40,88.18 334.50,88.20 334.60,88.22 334.70,88.24 334.80,88.26 334.90,88.28 335.00,88.29 335.10,88.31 335.20,88.33 335.30,88.35 335.40,88.37 335.50,88.39 335.60,88.41 335.70,88.43 335.80,88.45 335.90,88.48 336.00,88.50 336.10,88.52 336.20,88.54 336.30,88.56 336.40,88.58 336.50,88.60 336.60,88.62 336.70,88.64 336.80,88.67 336.90,88.69 337.00,88.71 337.10,88.73 337.20,88.75 337.30,88.78 337.40,88.80 337.50,88.82 337.60,88.84 337.70,88.87 337.80,88.89 337.90,88.91 338.00,88.93 338.10,88.96 338.20,88.98 338.30,89.00 338.40,89.03 338.50,89.05 338.60,89.07 338.70,89.10 338.80,89.12 338.90,89.14 339.00,89.17 339.10,89.19 339.20,89.21 339.30,89.24 339.40,89.26 339.50,89.28 339.60,89.31 339.70,89.33 339.80,89.35 339.90,89.38 340.00,89.40 340.10,89.42 340.20,89.45 340.30,89.47 340.40,89.49 340.50,89.52 340.60,89.54 340.70,89.57 340.80,89.59 340.90,89.61 341.00,89.64 341.10,89.66 341.20,89.68 341.30,89.71 341.40,89.73 341.50,89.76 341.60,89.78 341.70,89.80 341.80,89.83 341.90,89.85 342.00,89.88 342.10,89.90 342.20,89.93 342.30,89.95 342.40,89.98 342.50,90.00 342.60,90.03 342.70,90.05 342.80,90.08 342.90,90.10 343.00,90.13 343.10,90.15 343.20,90.18 343.30,90.20 343.40,90.23 343.50,90.26 343.60,90.28 343.70,90.31 343.80,90.33 343.90,90.36 344.00,90.39 344.10,90.41 344.20,90.44 344.30,90.47 344.40,90.50 344.50,90.52 344.60,90.55 344.70,90.58 344.80,90.61 344.90,90.63 345.00,90.66 345.10,90.69 345.20,90.72 345.30,90.75 345.40,90.78 345.50,90.81 345.60,90.83 345.70,90.86 345.80,90.89 345.90,90.92 346.00,90.95 346.10,90.98 346.20,91.01 346.30,91.04 346.40,91.08 346.50,91.11 346.60,91.14 346.70,91.17 346.80,91.20 346.90,91.23 347.00,91.26 347.10,91.30 347.20,91.33 347.30,91.36 347.40,91.39 347.50,91.43 347.60,91.46 347.70,91.49 347.80,91.53 347.90,91.56 348.00,91.60 348.10,91.63 348.20,91.67 348.30,91.70 348.40,91.74 348.50,91.77 348.60,91.81 348.70,91.85 348.80,91.88 348.90,91.92 349.00,91.96 349.10,91.99 349.20,92.03 349.30,92.07 349.40,92.11 349.50,92.15 349.60,92.18 349.70,92.22 349.80,92.26 349.90,92.30 350.00,92.34 350.10,92.38 350.20,92.42 350.30,92.46 350.40,92.51 350.50,92.55 350.60,92.59 350.70,92.63 350.80,92.67 350.90,92.72 351.00,92.76 351.10,92.80 351.20,92.85 351.30,92.89 351.40,92.94 351.50,92.98 351.60,93.03 351.70,93.07 351.80,93.12 351.90,93.16 352.00,93.21 352.10,93.26 352.20,93.31 352.30,93.35 352.40,93.40 352.50,93.45 352.60,93.50 352.70,93.55 352.80,93.60 352.90,93.65 353.00,93.70 353.10,93.75 353.20,93.80 353.30,93.85 353.40,93.91 353.50,93.96 353.60,94.01 353.70,94.07 353.80,94.12 353.90,94.17 354.00,94.23 354.10,94.28 354.20,94.34 354.30,94.40 354.40,94.45 354.50,94.51 354.60,94.57 354.70,94.62 354.80,94.68 354.90,94.74 355.00,94.80 355.10,94.86 355.20,94.92 355.30,94.99 355.40,95.05 355.50,95.12 355.60,95.19 355.70,95.26 355.80,95.34 355.90,95.41 356.00,95.49 356.10,95.57 356.20,95.65 356.30,95.74 356.40,95.82 356.50,95.91 356.60,96.00 356.70,96.09 356.80,96.18 356.90,96.27 357.00,96.37 357.10,96.47 357.20,96.57 357.30,96.67 357.40,96.77 357.50,96.88 357.60,96.98 357.70,97.09 357.80,97.20 357.90,97.31 358.00,97.42 358.10,97.54 358.20,97.65 358.30,97.77 358.40,97.89 358.50,98.01 358.60,98.13 358.70,98.25 358.80,98.38 358.90,98.51 359.00,98.63 359.10,98.76 359.20,98.89 359.30,99.03 359.40,99.16 359.50,99.30 359.60,99.43 359.70,99.57 359.80,99.71 359.90,99.85 360.00,99.99 360.10,100.14 360.20,100.28 360.30,100.43 360.40,100.58 360.50,100.72 360.60,100.87 360.70,101.02 360.80,101.18 360.90,101.33 361.00,101.49 361.10,101.64 361.20,101.80 361.30,101.96 361.40,102.12 361.50,102.28 361.60,102.44 361.70,102.60 361.80,102.77 361.90,102.93 362.00,103.10 362.10,103.27 362.20,103.43 362.30,103.60 362.40,103.77 362.50,103.94 362.60,104.12 362.70,104.29 362.80,104.46 362.90,104.64 363.00,104.82 363.10,104.99 363.20,105.17 363.30,105.35 363.40,105.53 363.50,105.71 363.60,105.89 363.70,106.08 363.80,106.26 363.90,106.44 364.00,106.63 364.10,106.81 364.20,107.00 364.30,107.19 364.40,107.38 364.50,107.57 364.60,107.77 364.70,107.97 364.80,108.17 364.90,108.37 365.00,108.58 365.10,108.79 365.20,109.01 365.30,109.23 365.40,109.45 365.50,109.67 365.60,109.90 365.70,110.13 365.80,110.36 365.90,110.60 366.00,110.85 366.10,111.09 366.20,111.34 366.30,111.60 366.40,111.85 366.50,112.12 366.60,112.38 366.70,112.65 366.80,112.93 366.90,113.21 367.00,113.49 367.10,113.78 367.20,114.07 367.30,114.37 367.40,114.67 367.50,114.98 367.60,115.29 367.70,115.60 367.80,115.93 367.90,116.25 368.00,116.59 368.10,116.92 368.20,117.26 368.30,117.61 368.40,117.97 368.50,118.32 368.60,118.69 368.70,119.06 368.80,119.43 368.90,119.82 369.00,120.20 369.10,120.60 369.20,120.99 369.30,121.40 369.40,121.82 369.50,122.25 369.60,122.70 369.70,123.16 369.80,123.64 369.90,124.13 370.00,124.64 370.10,125.17 370.20,125.71 370.30,126.26 370.40,126.83 370.50,127.41 370.60,128.01 370.70,128.63 370.80,129.25 370.90,129.89 371.00,130.55 371.10,131.21 371.20,131.89 371.30,132.59 371.40,133.30 371.50,134.02 371.60,134.75 371.70,135.50 371.80,136.26 371.90,137.03 372.00,137.81 372.10,138.61 372.20,139.41 372.30,140.23 372.40,141.07 372.50,141.91 372.60,142.76 372.70,143.63 372.80,144.51 372.90,145.40 373.00,146.30 373.10,147.21 373.20,148.13 373.30,149.06 373.40,150.00 373.50,150.98 373.60,152.03 373.70,153.15 373.80,154.33 373.90,155.57 374.00,156.86 374.10,158.20 374.20,159.58 374.30,161.01 374.40,162.48 374.50,163.98 374.60,165.52 374.70,167.08 374.80,168.66 374.90,170.27 375.00,171.89 375.10,173.52 375.20,175.16 375.30,176.81 375.40,178.46 375.50,180.10 375.60,181.74 375.70,183.36 375.80,184.97 375.90,186.57 376.00,188.14 376.10,189.68 376.20,191.20 376.30,192.68 376.40,194.12 376.50,195.53 376.60,196.89 376.70,198.20 376.80,199.46 376.90,200.66 377.00,201.80 377.10,202.92 377.20,204.07 377.30,205.24 377.40,206.43 377.50,207.64 377.60,208.85 377.70,210.07 377.80,211.30 377.90,212.53 378.00,213.75 378.10,214.97 378.20,216.18 378.30,217.38 378.40,218.56 378.50,219.72 378.60,220.85 378.70,221.96 378.80,223.04 378.90,224.09 379.00,225.10 379.10,226.07 379.20,227.00 379.30,227.88 379.40,228.71 379.50,229.48 379.60,230.20 379.70,230.86 379.80,231.45 379.90,231.97 380.00,232.42 380.10,232.80 380.20,233.10 380.30,233.32 380.40,233.45 380.50,233.50" stroke="#0000ff" stroke-width="4.4" stroke-dasharray="11.2 3.8" stroke-dashoffset="5.68"/>
<polyline points="380.50,233.50 380.60,233.38 380.70,233.03 380.80,232.47 380.90,231.71 381.00,230.76 381.10,229.65 381.20,228.37 381.30,226.95 381.40,225.40 381.50,223.74 381.60,221.97 381.70,220.13 381.80,218.20 381.90,216.22 382.00,214.20 382.10,212.15 382.20,210.08 382.30,208.01 382.40,205.95 382.50,203.92 382.60,201.93 382.70,200.00 382.80,198.02 382.90,195.89 383.00,193.62 383.10,191.23 383.20,188.74 383.30,186.17 383.40,183.52 383.50,180.82 383.60,178.08 383.70,175.32 383.80,172.55 383.90,169.79 384.00,167.06 384.10,164.37 384.20,161.73 384.30,159.17 384.40,156.70 384.50,154.34 384.60,152.10 384.70,150.00 384.80,147.98 384.90,145.98 385.00,143.99 385.10,142.02 385.20,140.06 385.30,138.13 385.40,136.21 385.50,134.32 385.60,132.45 385.70,130.60 385.80,128.78 385.90,126.98 386.00,125.21 386.10,123.46 386.20,121.74 386.30,120.06 386.40,118.40 386.50,116.77 386.60,115.17 386.70,113.61 386.80,112.08 386.90,110.58 387.00,109.13 387.10,107.70 387.20,106.32 387.30,104.97 387.40,103.67 387.50,102.40 387.60,101.18 387.70,100.00 387.80,98.85 387.90,97.70 388.00,96.57 388.10,95.45 388.20,94.34 388.30,93.25 388.40,92.18 388.50,91.12 388.60,90.07 388.70,89.05 388.80,88.05 388.90,87.06 389.00,86.10 389.10,85.16 389.20,84.25 389.30,83.36 389.40,82.49 389.50,81.66 389.60,80.85 389.70,80.07 389.80,79.32 389.90,78.60 390.00,77.91 390.10,77.26 390.20,76.64 390.30,76.06 390.40,75.51 390.50,75.00 390.60,74.51 390.70,74.03 390.80,73.57 390.90,73.11 391.00,72.66 391.10,72.23 391.20,71.81 391.30,71.40 391.40,71.01 391.50,70.63 391.60,70.28 391.70,69.94 391.80,69.62 391.90,69.32 392.00,69.04 392.10,68.78 392.20,68.55 392.30,68.34 392.40,68.16 392.50,68.00 392.60,67.86 392.70,67.72 392.80,67.58 392.90,67.45 393.00,67.32 393.10,67.19 393.20,67.07 393.30,66.95 393.40,66.83 393.50,66.72 393.60,66.61 393.70,66.50 393.80,66.40 393.90,66.30 394.00,66.21 394.10,66.12 394.20,66.03 394.30,65.94 394.40,65.86 394.50,65.79 394.60,65.71 394.70,65.64 394.80,65.58 394.90,65.51 395.00,65.45 395.10,65.40 395.20,65.35 395.30,65.30 395.40,65.26 395.50,65.22 395.60,65.18 395.70,65.15 395.80,65.12 395.90,65.10 396.00,65.08 396.10,65.06 396.20,65.04 396.30,65.02 396.40,65.00 396.50,64.98 396.60,64.96 396.70,64.94 396.80,64.92 396.90,64.90 397.00,64.88 397.10,64.87 397.20,64.85 397.30,64.83 397.40,64.82 397.50,64.80 397.60,64.79 397.70,64.77 397.80,64.76 397.90,64.74 398.00,64.73 398.10,64.72 398.20,64.71 398.30,64.70 398.40,64.69 398.50,64.68 398.60,64.67 398.70,64.66 398.80,64.65 398.90,64.64 399.00,64.63 399.10,64.63 399.20,64.62 399.30,64.62 399.40,64.61 399.50,64.61 399.60,64.61 399.70,64.60 399.80,64.60 399.90,64.60 400.00,64.60 400.10,64.60 400.20,64.60 400.30,64.60 400.40,64.60 400.50,64.60 400.60,64.60 400.70,64.60 400.80,64.60 400.90,64.60 401.00,64.60 401.10,64.60 401.20,64.60 401.30,64.60 401.40,64.60 401.50,64.60 401.60,64.60 401.70,64.60 401.80,64.60 401.90,64.60 402.00,64.60 402.10,64.60 402.20,64.60 402.30,64.60 402.40,64.60 402.50,64.60 402.60,64.60 402.70,64.60 402.80,64.61 402.90,64.61 403.00,64.61 403.10,64.61 403.20,64.61 403.30,64.61 403.40,64.61 403.50,64.61 403.60,64.61 403.70,64.61 403.80,64.61 403.90,64.61 404.00,64.61 404.10,64.61 404.20,64.61 404.30,64.61 404.40,64.61 404.50,64.61 404.60,64.61 404.70,64.61 404.80,64.61 404.90,64.62 405.00,64.62 405.10,64.62 405.20,64.62 405.30,64.62 405.40,64.62 405.50,64.62 405.60,64.62 405.70,64.62 405.80,64.62 405.90,64.62 406.00,64.62 406.10,64.62 406.20,64.62 406.30,64.62 406.40,64.62 406.50,64.62 406.60,64.63 406.70,64.63 406.80,64.63 406.90,64.63 407.00,64.63 407.10,64.63 407.20,64.63 407.30,64.63 407.40,64.63 407.50,64.63 407.60,64.63 407.70,64.63 407.80,64.63 407.90,64.63 408.00,64.64 408.10,64.64 408.20,64.64 408.30,64.64 408.40,64.64 408.50,64.64 408.60,64.64 408.70,64.64 408.80,64.64 408.90,64.64 409.00,64.64 409.10,64.64 409.20,64.64 409.30,64.64 409.40,64.65 409.50,64.65 409.60,64.65 409.70,64.65 409.80,64.65 409.90,64.65 410.00,64.65 410.10,64.65 410.20,64.65 410.30,64.65 410.40,64.65 410.50,64.65 410.60,64.65 410.70,64.66 410.80,64.66 410.90,64.66 411.00,64.66 411.10,64.66 411.20,64.66 411.30,64.66 411.40,64.66 411.50,64.66 411.60,64.66 411.70,64.66 411.80,64.66 411.90,64.66 412.00,64.66 412.10,64.67 412.20,64.67 412.30,64.67 412.40,64.67 412.50,64.67 412.60,64.67 412.70,64.67 412.80,64.67 412.90,64.67 413.00,64.67 413.10,64.67 413.20,64.67 413.30,64.67 413.40,64.67 413.50,64.68 413.60,64.68 413.70,64.68 413.80,64.68 413.90,64.68 414.00,64.68 414.10,64.68 414.20,64.68 414.30,64.68 414.40,64.68 414.50,64.68 414.60,64.68 414.70,64.68 414.80,64.68 414.90,64.68 415.00,64.68 415.10,64.68 415.20,64.69 415.30,64.69 415.40,64.69 415.50,64.69 415.60,64.69 415.70,64.69 415.80,64.69 415.90,64.69 416.00,64.69 416.10,64.69 416.20,64.69 416.30,64.69 416.40,64.69 416.50,64.69 416.60,64.69 416.70,64.69 416.80,64.69 416.90,64.69 417.00,64.69 417.10,64.69 417.20,64.69 417.30,64.70 417.40,64.70 417.50,64.70 417.60,64.70 417.70,64.70 417.80,64.70 417.90,64.70 418.00,64.70 418.10,64.70 418.20,64.70 418.30,64.70 418.40,64.70 418.50,64.70 418.60,64.70 418.70,64.70 418.80,64.70 418.90,64.70 419.00,64.70 419.10,64.70 419.20,64.70 419.30,64.70 419.40,64.70 419.50,64.70 419.60,64.70 419.70,64.70 419.80,64.70 419.90,64.70 420.00,64.70 420.10,64.70 420.20,64.70 420.30,64.70 420.40,64.70 420.50,64.70 420.60,64.70 420.70,64.70 420.80,64.70 420.90,64.70 421.00,64.70 421.10,64.70 421.20,64.70 421.30,64.70 421.40,64.70 421.50,64.70 421.60,64.70 421.70,64.70 421.80,64.70 421.90,64.70 422.00,64.70 422.10,64.70 422.20,64.70 422.30,64.70 422.40,64.70 422.50,64.70 422.60,64.70 422.70,64.70 422.80,64.70 422.90,64.70 423.00,64.70 423.10,64.70 423.20,64.70 423.30,64.70 423.40,64.70 423.50,64.70 423.60,64.70 423.70,64.70 423.80,64.70 423.90,64.70 424.00,64.70 424.10,64.70 424.20,64.70 424.30,64.70 424.40,64.70 424.50,64.70 424.60,64.70 424.70,64.70 424.80,64.70 424.90,64.70 425.00,64.70 425.10,64.70 425.20,64.70 425.30,64.70 425.40,64.70 425.50,64.70 425.60,64.70 425.70,64.70 425.80,64.70 425.90,64.70 426.00,64.70 426.10,64.70 426.20,64.70 426.30,64.70 426.40,64.70 426.50,64.70 426.60,64.70 426.70,64.70 426.80,64.70 426.90,64.70 427.00,64.70 427.10,64.70 427.20,64.70 427.30,64.70 427.40,64.70 427.50,64.70 427.60,64.70 427.70,64.70 427.80,64.70 427.90,64.70 428.00,64.70 428.10,64.70 428.20,64.70 428.30,64.70 428.40,64.70 428.50,64.70 428.60,64.70 428.70,64.70 428.80,64.70 428.90,64.70 429.00,64.70 429.10,64.70 429.20,64.70 429.30,64.70 429.40,64.70 429.50,64.70 429.60,64.70 429.70,64.70 429.80,64.70 429.90,64.70 430.00,64.70 430.10,64.70 430.20,64.70 430.30,64.70 430.40,64.70 430.50,64.70 430.60,64.70 430.70,64.70 430.80,64.70 430.90,64.70 431.00,64.70 431.10,64.70 431.20,64.70 431.30,64.70 431.40,64.70 431.50,64.70 431.60,64.70 431.70,64.70 431.80,64.70 431.90,64.70 432.00,64.70 432.10,64.70 432.20,64.70 432.30,64.70 432.40,64.70 432.50,64.70 432.60,64.70 432.70,64.70 432.80,64.70 432.90,64.70 433.00,64.70 433.10,64.70 433.20,64.70 433.30,64.70 433.40,64.70 433.50,64.70 433.60,64.70 433.70,64.70 433.80,64.70 433.90,64.70 434.00,64.70 434.10,64.70 434.20,64.70 434.30,64.70 434.40,64.70 434.50,64.70 434.60,64.70 434.70,64.70 434.80,64.70 434.90,64.70 435.00,64.70 435.10,64.70 435.20,64.70 435.30,64.70 435.40,64.70 435.50,64.70 435.60,64.70 435.70,64.70 435.80,64.70 435.90,64.70 436.00,64.70 436.10,64.70 436.20,64.70 436.30,64.70 436.40,64.70 436.50,64.70 436.60,64.70 436.70,64.70 436.80,64.70 436.90,64.70 437.00,64.70 437.10,64.70 437.20,64.70 437.30,64.70 437.40,64.70 437.50,64.70 437.60,64.70 437.70,64.70 437.80,64.70 437.90,64.70 438.00,64.70 438.10,64.70 438.20,64.70 438.30,64.70 438.40,64.70 438.50,64.70 438.60,64.70 438.70,64.70 438.80,64.70 438.90,64.70 439.00,64.70 439.10,64.70 439.20,64.70 439.30,64.70 439.40,64.70 439.50,64.70 439.60,64.70 439.70,64.70 439.80,64.70 439.90,64.70 440.00,64.70 440.10,64.70 440.20,64.70 440.30,64.70 440.40,64.70 440.50,64.70 440.60,64.70 440.70,64.70 440.80,64.70 440.90,64.70 441.00,64.70 441.10,64.70 441.20,64.70 441.30,64.70 441.40,64.70 441.50,64.70 441.60,64.70 441.70,64.70 441.80,64.70 441.90,64.70 442.00,64.70 442.10,64.70 442.20,64.70 442.30,64.70 442.40,64.70 442.50,64.70 442.60,64.70 442.70,64.70 442.80,64.70 442.90,64.70 443.00,64.70 443.10,64.70 443.20,64.70 443.30,64.70 443.40,64.70 443.50,64.70 443.60,64.70 443.70,64.70 443.80,64.70 443.90,64.70 444.00,64.70 444.10,64.70 444.20,64.70 444.30,64.70 444.40,64.70 444.50,64.70 444.60,64.70 444.70,64.70 444.80,64.70 444.90,64.70 445.00,64.70 445.10,64.70 445.20,64.70 445.30,64.70 445.40,64.70 445.50,64.70 445.60,64.70 445.70,64.70 445.80,64.70 445.90,64.70 446.00,64.70 446.10,64.70 446.20,64.70 446.30,64.70 446.40,64.70 446.50,64.70 446.60,64.70 446.70,64.70 446.80,64.70 446.90,64.70 447.00,64.70 447.10,64.70 447.20,64.70 447.30,64.70 447.40,64.70 447.50,64.70 447.60,64.70 447.70,64.70 447.80,64.70 447.90,64.70 448.00,64.70 448.10,64.70 448.20,64.70 448.30,64.70 448.40,64.70 448.50,64.70 448.60,64.70 448.70,64.70 448.80,64.70 448.90,64.70 449.00,64.70 449.10,64.70 449.20,64.70 449.30,64.70 449.40,64.70 449.50,64.70 449.60,64.70 449.70,64.70 449.80,64.70 449.90,64.70 450.00,64.70 450.10,64.70 450.20,64.70 450.30,64.70 450.40,64.70 450.50,64.70 450.60,64.70 450.70,64.70 450.80,64.70 450.90,64.70 451.00,64.70 451.10,64.70 451.20,64.70 451.30,64.70 451.40,64.70 451.50,64.70 451.60,64.70 451.70,64.70 451.80,64.70 451.90,64.70 452.00,64.70 452.10,64.70 452.20,64.70 452.30,64.70 452.40,64.70 452.50,64.70 452.60,64.70 452.70,64.70 452.80,64.70 452.90,64.70 453.00,64.70 453.10,64.70 453.20,64.70 453.30,64.70 453.40,64.70 453.50,64.70 453.60,64.70 453.70,64.70 453.80,64.70 453.90,64.70 454.00,64.70 454.10,64.70 454.20,64.70 454.30,64.70 454.40,64.70 454.50,64.70 454.60,64.70 454.70,64.70 454.80,64.70 454.90,64.70 455.00,64.70 455.10,64.70 455.20,64.70 455.30,64.70 455.40,64.70 455.50,64.70 455.60,64.70 455.70,64.70 455.80,64.70 455.90,64.70 456.00,64.70 456.10,64.70 456.20,64.70 456.30,64.70 456.40,64.70 456.50,64.70 456.60,64.70 456.70,64.70 456.80,64.70 456.90,64.70 457.00,64.70 457.10,64.70 457.20,64.70 457.30,64.70 457.40,64.70 457.50,64.70 457.60,64.70 457.70,64.70 457.80,64.70 457.90,64.70 458.00,64.70 458.10,64.70 458.20,64.70 458.30,64.70 458.40,64.70 458.50,64.70 458.60,64.70 458.70,64.70 458.80,64.70 458.90,64.70 459.00,64.70 459.10,64.70 459.20,64.70 459.30,64.70 459.40,64.70 459.50,64.70 459.60,64.70 459.70,64.70 459.80,64.70 459.90,64.70 460.00,64.70 460.10,64.70 460.20,64.70 460.30,64.70 460.40,64.70 460.50,64.70 460.60,64.70 460.70,64.70 460.80,64.70 460.90,64.70 461.00,64.70 461.10,64.70 461.20,64.70 461.30,64.70 461.40,64.70 461.50,64.70 461.60,64.70 461.70,64.70 461.80,64.70 461.90,64.70 462.00,64.70 462.10,64.70 462.20,64.70 462.30,64.70 462.40,64.70 462.50,64.70 462.60,64.70 462.70,64.70 462.80,64.70 462.90,64.70 463.00,64.70 463.10,64.70 463.20,64.70 463.30,64.70 463.40,64.70 463.50,64.70 463.60,64.70 463.70,64.70 463.80,64.70 463.90,64.70 464.00,64.70 464.10,64.70 464.20,64.70 464.30,64.70 464.40,64.70 464.50,64.70 464.60,64.70 464.70,64.70 464.80,64.70 464.90,64.70 465.00,64.70 465.10,64.70 465.20,64.70 465.30,64.70 465.40,64.70 465.50,64.70 465.60,64.70 465.70,64.70 465.80,64.70 465.90,64.70 466.00,64.70 466.10,64.70 466.20,64.70 466.30,64.70 466.40,64.70 466.50,64.70 466.60,64.70 466.70,64.70 466.80,64.70 466.90,64.70 467.00,64.70 467.10,64.70 467.20,64.70 467.30,64.70 467.40,64.70 467.50,64.70 467.60,64.70 467.70,64.70 467.80,64.70 467.90,64.70 468.00,64.70 468.10,64.70 468.20,64.70 468.30,64.70 468.40,64.70 468.50,64.70 468.60,64.70 468.70,64.70 468.80,64.70 468.90,64.70 469.00,64.70 469.10,64.70 469.20,64.70 469.30,64.70 469.40,64.70 469.50,64.70 469.60,64.70 469.70,64.70 469.80,64.70 469.90,64.70 470.00,64.70 470.10,64.70 470.20,64.70 470.30,64.70 470.40,64.70 470.50,64.70 470.60,64.70 470.70,64.70 470.80,64.70 470.90,64.70 471.00,64.70 471.10,64.70 471.20,64.70 471.30,64.70 471.40,64.70 471.50,64.70 471.60,64.70 471.70,64.70 471.80,64.70 471.90,64.70 472.00,64.70 472.10,64.70 472.20,64.70 472.30,64.70 472.40,64.70 472.50,64.70 472.60,64.70 472.70,64.70 472.80,64.70 472.90,64.70 473.00,64.70 473.10,64.70 473.20,64.70 473.30,64.70 473.40,64.70 473.50,64.70 473.60,64.70 473.70,64.70 473.80,64.70 473.90,64.70 474.00,64.70 474.10,64.70 474.20,64.70 474.30,64.70 474.40,64.70 474.50,64.70 474.60,64.70 474.70,64.70 474.80,64.70 474.90,64.70 475.00,64.70 475.10,64.70 475.20,64.70 475.30,64.70 475.40,64.70 475.50,64.70 475.60,64.70 475.70,64.70 475.80,64.70 475.90,64.70 476.00,64.70 476.10,64.70 476.20,64.70 476.30,64.70 476.40,64.70 476.50,64.70 476.60,64.70 476.70,64.70 476.80,64.70 476.90,64.70 477.00,64.70 477.10,64.70 477.20,64.70 477.30,64.70 477.40,64.70 477.50,64.70 477.60,64.70 477.70,64.70 477.80,64.70 477.90,64.70 478.00,64.70 478.10,64.70 478.20,64.70 478.30,64.70 478.40,64.70 478.50,64.70 478.60,64.70 478.70,64.70 478.80,64.70 478.90,64.70 479.00,64.70" stroke="#0000ff" stroke-width="4.4" stroke-dasharray="11.2 3.8" stroke-dashoffset="13.67"/>
<polyline points="87.20,102.10 87.60,91.57 88.00,101.45 88.40,91.59 88.80,102.07 89.20,92.12 89.60,101.05 90.00,90.54 90.40,102.52 90.80,90.09 91.20,100.51 91.60,91.60 92.00,101.87 92.40,91.85 92.80,101.49 93.20,91.01 93.60,100.41 94.00,91.88 94.40,101.29 94.80,89.92 95.20,100.04 95.60,88.73 96.00,100.81 96.40,89.24 96.80,99.69 97.20,89.80 97.60,100.11 98.00,89.72 98.40,100.44 98.80,89.83 99.20,99.86 99.60,89.50 100.00,100.05 100.40,88.16 100.80,98.96 101.20,88.24 101.60,99.06 102.00,89.26 102.40,100.81 102.80,90.04 103.20,101.24 103.60,89.04 104.00,101.29 104.40,89.95 104.80,100.14 105.20,89.49 105.60,100.49 106.00,89.37 106.40,99.27 106.80,88.91 107.20,98.47 107.60,88.55 108.00,99.46 108.40,89.29 108.80,98.35 109.20,88.67 109.60,98.58 110.00,87.97 110.40,98.75 110.80,88.78 111.20,99.72 111.60,88.44 112.00,99.74 112.40,89.23 112.80,98.65 113.20,88.31 113.60,98.01 114.00,88.52 114.40,98.03 114.80,87.20 115.20,98.45 115.60,87.89 116.00,97.66 116.40,86.85 116.80,98.68 117.20,88.41 117.60,98.43 118.00,87.44 118.40,98.29 118.80,87.26 119.20,99.12 119.60,88.19 120.00,99.07 120.40,86.91 120.80,98.00 121.20,87.57 121.60,98.65 122.00,87.90 122.40,99.05 122.80,87.71 123.20,98.06 123.60,88.17 124.00,98.24 124.40,87.91 124.80,98.22 125.20,87.71 125.60,97.62 126.00,87.34 126.40,98.04 126.80,87.82 127.20,97.95 127.60,87.00 128.00,97.40 128.40,87.19 128.80,97.52 129.20,88.11 129.60,98.00 130.00,87.77 130.40,98.32 130.80,86.88 131.20,95.92 131.60,87.15 132.00,96.47 132.40,87.23 132.80,96.09 133.20,86.94 133.60,96.62 134.00,85.76 134.40,97.12 134.80,85.65 135.20,97.04 135.60,86.85 136.00,97.09 136.40,85.80 136.80,96.60 137.20,86.27 137.60,94.88 138.00,86.97 138.40,95.96 138.80,85.17 139.20,94.75 139.60,85.23 140.00,95.11 140.40,84.30 140.80,94.94 141.20,85.25 141.60,95.99 142.00,85.41 142.40,96.30 142.80,86.92 143.20,95.30 143.60,86.16 144.00,95.32 144.40,86.15 144.80,96.23 145.20,86.19 145.60,96.83 146.00,85.53 146.40,95.93 146.80,86.27 147.20,97.21 147.60,85.57 148.00,95.27 148.40,84.33 148.80,96.66 149.20,84.60 149.60,96.10 150.00,84.62 150.40,95.65 150.80,84.71 151.20,95.77 151.60,84.31 152.00,95.09 152.40,84.55 152.80,95.70 153.20,85.18 153.60,95.34 154.00,83.52 154.40,95.16 154.80,82.77 155.20,94.55 155.60,84.22 156.00,93.68 156.40,83.20 156.80,94.70 157.20,83.73 157.60,93.07 158.00,84.23 158.40,92.76 158.80,84.63 159.20,93.46 159.60,84.90 160.00,93.26 160.40,83.67 160.80,94.58 161.20,83.47 161.60,94.31 162.00,82.41 162.40,94.34 162.80,83.78 163.20,94.60 163.60,82.95 164.00,94.11 164.40,83.44 164.80,92.29 165.20,82.74 165.60,94.02 166.00,82.92 166.40,93.41 166.80,82.26 167.20,93.12 167.60,82.06 168.00,93.21 168.40,82.92 168.80,93.26 169.20,82.64 169.60,93.23 170.00,82.53 170.40,92.78 170.80,82.30 171.20,92.50 171.60,83.90 172.00,92.54 172.40,82.03 172.80,92.02 173.20,83.09 173.60,91.63 174.00,81.71 174.40,91.22 174.80,82.65 175.20,93.05 175.60,81.20 176.00,93.55 176.40,82.49 176.80,91.92 177.20,83.00 177.60,92.74 178.00,82.29 178.40,92.26 178.80,82.04 179.20,91.33 179.60,82.07 180.00,92.59 180.40,81.76 180.80,93.42 181.20,82.12 181.60,92.07 182.00,81.26 182.40,91.59 182.80,81.57 183.20,92.50 183.60,79.66 184.00,92.73 184.40,79.82 184.80,92.33 185.20,80.69 185.60,90.94 186.00,80.60 186.40,90.86 186.80,81.47 187.20,90.45 187.60,80.76 188.00,91.81 188.40,81.49 188.80,91.13 189.20,80.12 189.60,90.12 190.00,81.35 190.40,91.62 190.80,80.43 191.20,89.99 191.60,80.34 192.00,90.41 192.40,79.93 192.80,90.05 193.20,79.66 193.60,90.87 194.00,79.08 194.40,90.95 194.80,80.47 195.20,91.98 195.60,79.24 196.00,90.07 196.40,80.15 196.80,90.65 197.20,80.37 197.60,90.16 198.00,80.90 198.40,90.59 198.80,80.68 199.20,89.91 199.60,80.64 200.00,90.17 200.40,80.54 200.80,89.04 201.20,79.73 201.60,90.08 202.00,80.69 202.40,88.71 202.80,78.46 203.20,88.80 203.60,78.06 204.00,89.45 204.40,79.08 204.80,89.38 205.20,77.65 205.60,89.57 206.00,77.02 206.40,89.60 206.80,77.78 207.20,89.51 207.60,77.66 208.00,88.68 208.40,78.16 208.80,88.30 209.20,79.36 209.60,89.68 210.00,78.23 210.40,89.53 210.80,77.04 211.20,90.01 211.60,78.98 212.00,88.88 212.40,78.96 212.80,89.58 213.20,78.67 213.60,88.14 214.00,79.45 214.40,90.35 214.80,78.87 215.20,89.55 215.60,78.96 216.00,89.87 216.40,77.43 216.80,87.92 217.20,77.51 217.60,88.58 218.00,78.46 218.40,88.81 218.80,76.27 219.20,88.58 219.60,76.47 220.00,89.21 220.40,77.45 220.80,87.24 221.20,77.54 221.60,87.86 222.00,77.04 222.40,87.98 222.80,78.04 223.20,87.89 223.60,78.21 224.00,87.74 224.40,76.45 224.80,87.25 225.20,76.66 225.60,87.75 226.00,76.64 226.40,86.29 226.80,75.68 227.20,87.00 227.60,77.11 228.00,87.43 228.40,76.03 228.80,87.28 229.20,76.39 229.60,86.38 230.00,76.19 230.40,87.50 230.80,76.90 231.20,85.73 231.60,75.59 232.00,87.23 232.40,76.01 232.80,85.77 233.20,77.65 233.60,87.25 234.00,76.40 234.40,86.63 234.80,76.62 235.20,85.31 235.60,75.35 236.00,87.43 236.40,75.88 236.80,87.12 237.20,76.20 237.60,86.71 238.00,74.77 238.40,86.30 238.80,76.51 239.20,85.03 239.60,74.59 240.00,85.09 240.40,75.02 240.80,85.34 241.20,74.37 241.60,85.06 242.00,74.39 242.40,85.62 242.80,75.17 243.20,85.15 243.60,73.82 244.00,86.08 244.40,73.99 244.80,86.53 245.20,73.76 245.60,86.62 246.00,74.24 246.40,85.88 246.80,74.45 247.20,85.79 247.60,73.19 248.00,85.38 248.40,74.74 248.80,85.09 249.20,73.95 249.60,83.54 250.00,73.94 250.40,83.20 250.80,74.72 251.20,84.83 251.60,73.97 252.00,85.32 252.40,72.48 252.80,84.98 253.20,73.85 253.60,83.85 254.00,73.19 254.40,84.30 254.80,73.98 255.20,85.46 255.60,74.87 256.00,84.10 256.40,72.81 256.80,83.47 257.20,72.51 257.60,84.95 258.00,72.74 258.40,82.78 258.80,71.82 259.20,82.50 259.60,72.87 260.00,84.01 260.40,72.56 260.80,82.80 261.20,72.48 261.60,82.06 262.00,73.12 262.40,81.45 262.80,72.36 263.20,81.82 263.60,72.88 264.00,82.31 264.40,73.47 264.80,82.27 265.20,71.63 265.60,83.71 266.00,72.97 266.40,82.33 266.80,71.67 267.20,82.05 267.60,71.71 268.00,83.01 268.40,72.45 268.80,82.53 269.20,71.75 269.60,82.44 270.00,71.68 270.40,83.25 270.80,70.82 271.20,82.34 271.60,71.88 272.00,82.96 272.40,72.64 272.80,83.75 273.20,71.92 273.60,83.47 274.00,72.60 274.40,82.27 274.80,72.57 275.20,83.17 275.60,72.72 276.00,83.41 276.40,71.13 276.80,82.19 277.20,72.58 277.60,82.93 278.00,72.33 278.40,83.37 278.80,71.92 279.20,82.14 279.60,71.93 280.00,82.66 280.40,73.05 280.80,82.14 281.20,72.14 281.60,81.76 282.00,71.84 282.40,81.06 282.80,71.96 283.20,82.51 283.60,71.70 284.00,80.74 284.40,71.60 284.80,81.44 285.20,72.86 285.60,80.88 286.00,70.92 286.40,82.36 286.80,72.31 287.20,82.49 287.60,71.91 288.00,83.24 288.40,71.46 288.80,83.59 289.20,72.94 289.60,83.22 290.00,72.14 290.40,82.68 290.80,71.50 291.20,83.37 291.60,73.02 292.00,82.45 292.40,71.48 292.80,81.66 293.20,71.23 293.60,82.49 294.00,73.51 294.40,81.07 294.80,72.34 295.20,83.07 295.60,71.19 296.00,83.43 296.40,70.72 296.80,83.09 297.20,70.87 297.60,81.22 298.00,71.17 298.40,81.73 298.80,73.09 299.20,81.49 299.60,71.81 300.00,82.20 300.40,72.80 300.80,80.93 301.20,72.24 301.60,80.75 302.00,71.24 302.40,81.22 302.80,72.28 303.20,79.54 303.60,72.65 304.00,80.20 304.40,71.85 304.80,81.55 305.20,72.50 305.60,81.79 306.00,70.58 306.40,80.88 306.80,71.84 307.20,81.16 307.60,70.81 308.00,82.22 308.40,69.66 308.80,80.47 309.20,71.50 309.60,81.55 310.00,71.41 310.40,80.99 310.80,70.46 311.20,80.56 311.60,70.08 312.00,80.61 312.40,70.65 312.80,80.04 313.20,71.47 313.60,79.72 314.00,72.36 314.40,81.10 314.80,70.65 315.20,79.93 315.60,70.79 316.00,82.00 316.40,69.64 316.80,79.67 317.20,70.88 317.60,81.37 318.00,70.81 318.40,80.15 318.80,70.81 319.20,79.32 319.60,72.14 320.00,81.29 320.40,70.59 320.80,80.77 321.20,72.26 321.60,80.34 322.00,72.20 322.40,80.50 322.80,71.21 323.20,79.82 323.60,70.91 324.00,79.86 324.40,71.43 324.80,80.14 325.20,72.98 325.60,80.10 326.00,70.49 326.40,80.44 326.80,71.34 327.20,81.38 327.60,70.38 328.00,81.62 328.40,71.09 328.80,80.98 329.20,71.08 329.60,81.30 330.00,71.85 330.40,81.66 330.80,72.84 331.20,80.02 331.60,72.24 332.00,80.77 332.40,72.99 332.80,80.66 333.20,72.80 333.60,80.17 334.00,72.64 334.40,80.59 334.80,72.47 335.20,79.81 335.60,71.37 336.00,80.32 336.40,72.64 336.80,80.67 337.20,72.45 337.60,80.77 338.00,72.49 338.40,79.52 338.80,72.16 339.20,79.93 339.60,74.10 340.00,79.78 340.40,73.97 340.80,80.38 341.20,72.47 341.60,80.16 342.00,72.62 342.40,80.58 342.80,74.26 343.20,80.86 343.60,73.66 344.00,81.56 344.40,73.86 344.80,81.31 345.20,73.07 345.60,82.09 346.00,74.58 346.40,80.78 346.80,73.17 347.20,83.25 347.60,73.88 348.00,83.49 348.40,74.15 348.80,83.00 349.20,74.99 349.60,83.27 350.00,74.51 350.40,82.50 350.80,74.71 351.20,82.85 351.60,75.46 352.00,82.45 352.40,75.70 352.80,83.58 353.20,76.58 353.60,83.86 354.00,77.23 354.40,85.18 354.80,78.69 355.20,85.29 355.60,77.38 356.00,86.82 356.40,79.76 356.80,87.28 357.20,78.67 357.60,85.48 358.00,78.46 358.40,87.76 358.80,79.22 359.20,88.56 359.60,80.16 360.00,88.12 360.40,80.28 360.80,89.45 361.20,81.94 361.60,88.24 362.00,82.02 362.40,90.18 362.80,82.77 363.20,89.95 363.60,83.48 364.00,90.41 364.40,84.47 364.80,92.32 365.20,84.72 365.60,93.46 366.00,87.06 366.40,94.37 366.80,87.05 367.20,94.89 367.60,89.73 368.00,97.14 368.40,90.72 368.80,97.42 369.20,91.61 369.60,99.19 370.00,94.07 370.40,101.17 370.80,95.95 371.20,103.39 371.60,97.11 372.00,106.69 372.40,100.91 372.80,110.63 373.20,104.96 373.60,116.55 374.00,114.29 374.40,126.45 374.80,124.06 375.20,135.97 375.60,133.41 376.00,145.05 376.40,140.48 376.80,152.66 377.20,148.94 377.60,160.77 378.00,157.39 378.40,169.69 378.80,167.27 379.20,178.68 379.60,180.41 380.00,190.20 380.40,179.99 380.80,184.09 381.20,171.40 381.60,175.23 382.00,164.68 382.40,169.04 382.80,159.12 383.20,162.52 383.60,151.15 384.00,153.06 384.40,141.43 384.80,142.97 385.20,127.46 385.60,127.56 386.00,110.51 386.40,111.38 386.80,93.83 387.20,92.95 387.60,73.72 388.00,72.31 388.40,59.19 388.80,64.96 389.20,54.14 389.60,59.18 390.00,51.41 390.40,57.82 390.80,50.11 391.20,57.25 391.60,50.93 392.00,57.11 392.40,51.22 392.80,57.14 393.20,49.37 393.60,57.28 394.00,48.99 394.40,58.07 394.80,48.66 395.20,57.24 395.60,49.24 396.00,56.39 396.40,48.27 396.80,57.94 397.20,49.44 397.60,56.50 398.00,50.05 398.40,57.12 398.80,50.64 399.20,56.76 399.60,49.73 400.00,58.17 400.40,50.24 400.80,56.78 401.20,50.66 401.60,58.96 402.00,50.29 402.40,58.14 402.80,50.16 403.20,57.47 403.60,50.54 404.00,57.81 404.40,49.18 404.80,57.65 405.20,50.32 405.60,57.89 406.00,49.50 406.40,57.88 406.80,50.09 407.20,57.11 407.60,50.34 408.00,58.50 408.40,52.24 408.80,58.07 409.20,51.80 409.60,57.70 410.00,50.56 410.40,59.16 410.80,50.82 411.20,59.37 411.60,51.32 412.00,57.71 412.40,49.97 412.80,59.49 413.20,51.46 413.60,59.06 414.00,50.11 414.40,59.36 414.80,50.70 415.20,59.72 415.60,51.62 416.00,58.19 416.40,51.94 416.80,59.44 417.20,51.19 417.60,58.70 418.00,52.54 418.40,59.98 418.80,51.71 419.20,58.54 419.60,51.54 420.00,60.01 420.40,51.52 420.80,59.80 421.20,51.96 421.60,60.23 422.00,50.43 422.40,60.26 422.80,52.01 423.20,59.82 423.60,52.90 424.00,58.50 424.40,52.75 424.80,59.84 425.20,50.23 425.60,59.49 426.00,51.88 426.40,58.74 426.80,50.25 427.20,59.09 427.60,52.49 428.00,58.72 428.40,52.20 428.80,58.69 429.20,52.01 429.60,59.37 430.00,49.91 430.40,58.13 430.80,49.88 431.20,58.92 431.60,52.03 432.00,58.57 432.40,51.24 432.80,57.70 433.20,50.56 433.60,57.45 434.00,51.64 434.40,58.71 434.80,50.05 435.20,59.11 435.60,51.52 436.00,58.87 436.40,49.70 436.80,57.21 437.20,51.12 437.60,57.73 438.00,51.41 438.40,59.21 438.80,49.98 439.20,58.30 439.60,50.01 440.00,58.73 440.40,51.78 440.80,58.84 441.20,51.77 441.60,60.51 442.00,50.85 442.40,58.57 442.80,50.41 443.20,59.30 443.60,50.06 444.00,58.13 444.40,50.05 444.80,58.80 445.20,50.59 445.60,57.62 446.00,51.39 446.40,57.68 446.80,50.68 447.20,59.43 447.60,52.06 448.00,57.76 448.40,50.79 448.80,58.09 449.20,51.05 449.60,58.67 450.00,51.71 450.40,58.26 450.80,52.71 451.20,58.15 451.60,51.39 452.00,58.14 452.40,51.54 452.80,58.83 453.20,50.85 453.60,58.67 454.00,50.20 454.40,59.24 454.80,49.57 455.20,58.61 455.60,49.96 456.00,57.48 456.40,51.25 456.80,58.30 457.20,50.71 457.60,57.48 458.00,50.00 458.40,58.64 458.80,50.05 459.20,58.65 459.60,51.08 460.00,59.42 460.40,51.00 460.80,57.91 461.20,50.54 461.60,57.84 462.00,50.61 462.40,58.60 462.80,50.17 463.20,58.81 463.60,49.73 464.00,57.90 464.40,49.34 464.80,59.24 465.20,50.91 465.60,57.57 466.00,50.64 466.40,58.32 466.80,50.35 467.20,58.52 467.60,50.08 468.00,57.17 468.40,49.91 468.80,57.34 469.20,49.06 469.60,56.62 470.00,49.59 470.40,56.62 470.80,49.78 471.20,58.26 471.60,50.59 472.00,57.29 472.40,51.67 472.80,56.90 473.20,49.49 473.60,57.36 474.00,49.67 474.40,57.72 474.80,49.67 475.20,58.55 475.60,49.69 476.00,58.09 476.40,49.91 476.80,57.84 477.20,50.03 477.60,58.31 478.00,50.32 478.40,58.31 478.80,50.45" stroke="#ff0000" stroke-width="4.2"/>
<polyline points="87.20,252.30 87.30,252.31 87.40,252.31 87.50,252.32 87.60,252.32 87.70,252.33 87.80,252.34 87.90,252.34 88.00,252.35 88.10,252.35 88.20,252.36 88.30,252.37 88.40,252.37 88.50,252.38 88.60,252.39 88.70,252.39 88.80,252.40 88.90,252.40 89.00,252.41 89.10,252.42 89.20,252.42 89.30,252.43 89.40,252.43 89.50,252.44 89.60,252.45 89.70,252.45 89.80,252.46 89.90,252.46 90.00,252.47 90.10,252.48 90.20,252.48 90.30,252.49 90.40,252.49 90.50,252.50 90.60,252.51 90.70,252.51 90.80,252.52 90.90,252.52 91.00,252.53 91.10,252.54 91.20,252.54 91.30,252.55 91.40,252.56 91.50,252.56 91.60,252.57 91.70,252.57 91.80,252.58 91.90,252.59 92.00,252.59 92.10,252.60 92.20,252.60 92.30,252.61 92.40,252.62 92.50,252.62 92.60,252.63 92.70,252.63 92.80,252.64 92.90,252.65 93.00,252.65 93.10,252.66 93.20,252.66 93.30,252.67 93.40,252.68 93.50,252.68 93.60,252.69 93.70,252.70 93.80,252.70 93.90,252.71 94.00,252.71 94.10,252.72 94.20,252.73 94.30,252.73 94.40,252.74 94.50,252.74 94.60,252.75 94.70,252.76 94.80,252.76 94.90,252.77 95.00,252.77 95.10,252.78 95.20,252.79 95.30,252.79 95.40,252.80 95.50,252.80 95.60,252.81 95.70,252.82 95.80,252.82 95.90,252.83 96.00,252.83 96.10,252.84 96.20,252.85 96.30,252.85 96.40,252.86 96.50,252.87 96.60,252.87 96.70,252.88 96.80,252.88 96.90,252.89 97.00,252.90 97.10,252.90 97.20,252.91 97.30,252.91 97.40,252.92 97.50,252.93 97.60,252.93 97.70,252.94 97.80,252.94 97.90,252.95 98.00,252.96 98.10,252.96 98.20,252.97 98.30,252.97 98.40,252.98 98.50,252.99 98.60,252.99 98.70,253.00 98.80,253.00 98.90,253.01 99.00,253.02 99.10,253.02 99.20,253.03 99.30,253.04 99.40,253.04 99.50,253.05 99.60,253.05 99.70,253.06 99.80,253.07 99.90,253.07 100.00,253.08 100.10,253.08 100.20,253.09 100.30,253.10 100.40,253.10 100.50,253.11 100.60,253.11 100.70,253.12 100.80,253.13 100.90,253.13 101.00,253.14 101.10,253.14 101.20,253.15 101.30,253.16 101.40,253.16 101.50,253.17 101.60,253.17 101.70,253.18 101.80,253.19 101.90,253.19 102.00,253.20 102.10,253.20 102.20,253.21 102.30,253.22 102.40,253.22 102.50,253.23 102.60,253.24 102.70,253.24 102.80,253.25 102.90,253.25 103.00,253.26 103.10,253.27 103.20,253.27 103.30,253.28 103.40,253.28 103.50,253.29 103.60,253.30 103.70,253.30 103.80,253.31 103.90,253.31 104.00,253.32 104.10,253.33 104.20,253.33 104.30,253.34 104.40,253.34 104.50,253.35 104.60,253.36 104.70,253.36 104.80,253.37 104.90,253.37 105.00,253.38 105.10,253.39 105.20,253.39 105.30,253.40 105.40,253.41 105.50,253.41 105.60,253.42 105.70,253.42 105.80,253.43 105.90,253.44 106.00,253.44 106.10,253.45 106.20,253.45 106.30,253.46 106.40,253.47 106.50,253.47 106.60,253.48 106.70,253.48 106.80,253.49 106.90,253.50 107.00,253.50 107.10,253.51 107.20,253.51 107.30,253.52 107.40,253.53 107.50,253.53 107.60,253.54 107.70,253.54 107.80,253.55 107.90,253.56 108.00,253.56 108.10,253.57 108.20,253.57 108.30,253.58 108.40,253.59 108.50,253.59 108.60,253.60 108.70,253.61 108.80,253.61 108.90,253.62 109.00,253.62 109.10,253.63 109.20,253.64 109.30,253.64 109.40,253.65 109.50,253.65 109.60,253.66 109.70,253.67 109.80,253.67 109.90,253.68 110.00,253.68 110.10,253.69 110.20,253.70 110.30,253.70 110.40,253.71 110.50,253.71 110.60,253.72 110.70,253.73 110.80,253.73 110.90,253.74 111.00,253.74 111.10,253.75 111.20,253.76 111.30,253.76 111.40,253.77 111.50,253.77 111.60,253.78 111.70,253.79 111.80,253.79 111.90,253.80 112.00,253.81 112.10,253.81 112.20,253.82 112.30,253.82 112.40,253.83 112.50,253.84 112.60,253.84 112.70,253.85 112.80,253.85 112.90,253.86 113.00,253.87 113.10,253.87 113.20,253.88 113.30,253.88 113.40,253.89 113.50,253.90 113.60,253.90 113.70,253.91 113.80,253.91 113.90,253.92 114.00,253.93 114.10,253.93 114.20,253.94 114.30,253.94 114.40,253.95 114.50,253.96 114.60,253.96 114.70,253.97 114.80,253.97 114.90,253.98 115.00,253.99 115.10,253.99 115.20,254.00 115.30,254.01 115.40,254.01 115.50,254.02 115.60,254.02 115.70,254.03 115.80,254.04 115.90,254.04 116.00,254.05 116.10,254.05 116.20,254.06 116.30,254.07 116.40,254.07 116.50,254.08 116.60,254.08 116.70,254.09 116.80,254.10 116.90,254.10 117.00,254.11 117.10,254.11 117.20,254.12 117.30,254.13 117.40,254.13 117.50,254.14 117.60,254.14 117.70,254.15 117.80,254.16 117.90,254.16 118.00,254.17 118.10,254.17 118.20,254.18 118.30,254.19 118.40,254.19 118.50,254.20 118.60,254.21 118.70,254.21 118.80,254.22 118.90,254.22 119.00,254.23 119.10,254.24 119.20,254.24 119.30,254.25 119.40,254.25 119.50,254.26 119.60,254.27 119.70,254.27 119.80,254.28 119.90,254.28 120.00,254.29 120.10,254.30 120.20,254.30 120.30,254.31 120.40,254.31 120.50,254.32 120.60,254.33 120.70,254.33 120.80,254.34 120.90,254.34 121.00,254.35 121.10,254.36 121.20,254.36 121.30,254.37 121.40,254.37 121.50,254.38 121.60,254.39 121.70,254.39 121.80,254.40 121.90,254.40 122.00,254.41 122.10,254.42 122.20,254.42 122.30,254.43 122.40,254.44 122.50,254.44 122.60,254.45 122.70,254.45 122.80,254.46 122.90,254.47 123.00,254.47 123.10,254.48 123.20,254.48 123.30,254.49 123.40,254.50 123.50,254.50 123.60,254.51 123.70,254.51 123.80,254.52 123.90,254.53 124.00,254.53 124.10,254.54 124.20,254.54 124.30,254.55 124.40,254.56 124.50,254.56 124.60,254.57 124.70,254.57 124.80,254.58 124.90,254.59 125.00,254.59 125.10,254.60 125.20,254.60 125.30,254.61 125.40,254.62 125.50,254.62 125.60,254.63 125.70,254.63 125.80,254.64 125.90,254.65 126.00,254.65 126.10,254.66 126.20,254.66 126.30,254.67 126.40,254.68 126.50,254.68 126.60,254.69 126.70,254.70 126.80,254.70 126.90,254.71 127.00,254.71 127.10,254.72 127.20,254.73 127.30,254.73 127.40,254.74 127.50,254.74 127.60,254.75 127.70,254.76 127.80,254.76 127.90,254.77 128.00,254.77 128.10,254.78 128.20,254.79 128.30,254.79 128.40,254.80 128.50,254.80 128.60,254.81 128.70,254.82 128.80,254.82 128.90,254.83 129.00,254.83 129.10,254.84 129.20,254.85 129.30,254.85 129.40,254.86 129.50,254.86 129.60,254.87 129.70,254.88 129.80,254.88 129.90,254.89 130.00,254.89 130.10,254.90 130.20,254.91 130.30,254.91 130.40,254.92 130.50,254.92 130.60,254.93 130.70,254.94 130.80,254.94 130.90,254.95 131.00,254.96 131.10,254.96 131.20,254.97 131.30,254.97 131.40,254.98 131.50,254.99 131.60,254.99 131.70,255.00 131.80,255.00 131.90,255.01 132.00,255.02 132.10,255.02 132.20,255.03 132.30,255.03 132.40,255.04 132.50,255.05 132.60,255.05 132.70,255.06 132.80,255.06 132.90,255.07 133.00,255.08 133.10,255.08 133.20,255.09 133.30,255.09 133.40,255.10 133.50,255.11 133.60,255.11 133.70,255.12 133.80,255.12 133.90,255.13 134.00,255.14 134.10,255.14 134.20,255.15 134.30,255.15 134.40,255.16 134.50,255.17 134.60,255.17 134.70,255.18 134.80,255.18 134.90,255.19 135.00,255.20 135.10,255.20 135.20,255.21 135.30,255.21 135.40,255.22 135.50,255.23 135.60,255.23 135.70,255.24 135.80,255.24 135.90,255.25 136.00,255.26 136.10,255.26 136.20,255.27 136.30,255.28 136.40,255.28 136.50,255.29 136.60,255.29 136.70,255.30 136.80,255.31 136.90,255.31 137.00,255.32 137.10,255.32 137.20,255.33 137.30,255.34 137.40,255.34 137.50,255.35 137.60,255.35 137.70,255.36 137.80,255.37 137.90,255.37 138.00,255.38 138.10,255.38 138.20,255.39 138.30,255.40 138.40,255.40 138.50,255.41 138.60,255.41 138.70,255.42 138.80,255.43 138.90,255.43 139.00,255.44 139.10,255.44 139.20,255.45 139.30,255.46 139.40,255.46 139.50,255.47 139.60,255.47 139.70,255.48 139.80,255.49 139.90,255.49 140.00,255.50 140.10,255.50 140.20,255.51 140.30,255.52 140.40,255.52 140.50,255.53 140.60,255.53 140.70,255.54 140.80,255.55 140.90,255.55 141.00,255.56 141.10,255.56 141.20,255.57 141.30,255.58 141.40,255.58 141.50,255.59 141.60,255.59 141.70,255.60 141.80,255.61 141.90,255.61 142.00,255.62 142.10,255.63 142.20,255.63 142.30,255.64 142.40,255.64 142.50,255.65 142.60,255.66 142.70,255.66 142.80,255.67 142.90,255.67 143.00,255.68 143.10,255.69 143.20,255.69 143.30,255.70 143.40,255.70 143.50,255.71 143.60,255.72 143.70,255.72 143.80,255.73 143.90,255.73 144.00,255.74 144.10,255.75 144.20,255.75 144.30,255.76 144.40,255.76 144.50,255.77 144.60,255.78 144.70,255.78 144.80,255.79 144.90,255.79 145.00,255.80 145.10,255.81 145.20,255.81 145.30,255.82 145.40,255.82 145.50,255.83 145.60,255.84 145.70,255.84 145.80,255.85 145.90,255.85 146.00,255.86 146.10,255.87 146.20,255.87 146.30,255.88 146.40,255.88 146.50,255.89 146.60,255.90 146.70,255.90 146.80,255.91 146.90,255.91 147.00,255.92 147.10,255.93 147.20,255.93 147.30,255.94 147.40,255.95 147.50,255.95 147.60,255.96 147.70,255.96 147.80,255.97 147.90,255.98 148.00,255.98 148.10,255.99 148.20,255.99 148.30,256.00 148.40,256.01 148.50,256.01 148.60,256.02 148.70,256.02 148.80,256.03 148.90,256.04 149.00,256.04 149.10,256.05 149.20,256.06 149.30,256.06 149.40,256.07 149.50,256.07 149.60,256.08 149.70,256.09 149.80,256.09 149.90,256.10 150.00,256.10 150.10,256.11 150.20,256.12 150.30,256.12 150.40,256.13 150.50,256.13 150.60,256.14 150.70,256.15 150.80,256.15 150.90,256.16 151.00,256.17 151.10,256.17 151.20,256.18 151.30,256.18 151.40,256.19 151.50,256.20 151.60,256.20 151.70,256.21 151.80,256.21 151.90,256.22 152.00,256.23 152.10,256.23 152.20,256.24 152.30,256.25 152.40,256.25 152.50,256.26 152.60,256.26 152.70,256.27 152.80,256.28 152.90,256.28 153.00,256.29 153.10,256.29 153.20,256.30 153.30,256.31 153.40,256.31 153.50,256.32 153.60,256.33 153.70,256.33 153.80,256.34 153.90,256.34 154.00,256.35 154.10,256.36 154.20,256.36 154.30,256.37 154.40,256.38 154.50,256.38 154.60,256.39 154.70,256.39 154.80,256.40 154.90,256.41 155.00,256.41 155.10,256.42 155.20,256.43 155.30,256.43 155.40,256.44 155.50,256.44 155.60,256.45 155.70,256.46 155.80,256.46 155.90,256.47 156.00,256.47 156.10,256.48 156.20,256.49 156.30,256.49 156.40,256.50 156.50,256.51 156.60,256.51 156.70,256.52 156.80,256.52 156.90,256.53 157.00,256.54 157.10,256.54 157.20,256.55 157.30,256.56 157.40,256.56 157.50,256.57 157.60,256.57 157.70,256.58 157.80,256.59 157.90,256.59 158.00,256.60 158.10,256.61 158.20,256.61 158.30,256.62 158.40,256.62 158.50,256.63 158.60,256.64 158.70,256.64 158.80,256.65 158.90,256.66 159.00,256.66 159.10,256.67 159.20,256.67 159.30,256.68 159.40,256.69 159.50,256.69 159.60,256.70 159.70,256.71 159.80,256.71 159.90,256.72 160.00,256.72 160.10,256.73 160.20,256.74 160.30,256.74 160.40,256.75 160.50,256.76 160.60,256.76 160.70,256.77 160.80,256.77 160.90,256.78 161.00,256.79 161.10,256.79 161.20,256.80 161.30,256.81 161.40,256.81 161.50,256.82 161.60,256.83 161.70,256.83 161.80,256.84 161.90,256.84 162.00,256.85 162.10,256.86 162.20,256.86 162.30,256.87 162.40,256.88 162.50,256.88 162.60,256.89 162.70,256.89 162.80,256.90 162.90,256.91 163.00,256.91 163.10,256.92 163.20,256.93 163.30,256.93 163.40,256.94 163.50,256.94 163.60,256.95 163.70,256.96 163.80,256.96 163.90,256.97 164.00,256.98 164.10,256.98 164.20,256.99 164.30,256.99 164.40,257.00 164.50,257.01 164.60,257.01 164.70,257.02 164.80,257.03 164.90,257.03 165.00,257.04 165.10,257.05 165.20,257.05 165.30,257.06 165.40,257.06 165.50,257.07 165.60,257.08 165.70,257.08 165.80,257.09 165.90,257.10 166.00,257.10 166.10,257.11 166.20,257.11 166.30,257.12 166.40,257.13 166.50,257.13 166.60,257.14 166.70,257.15 166.80,257.15 166.90,257.16 167.00,257.16 167.10,257.17 167.20,257.18 167.30,257.18 167.40,257.19 167.50,257.20 167.60,257.20 167.70,257.21 167.80,257.22 167.90,257.22 168.00,257.23 168.10,257.23 168.20,257.24 168.30,257.25 168.40,257.25 168.50,257.26 168.60,257.27 168.70,257.27 168.80,257.28 168.90,257.28 169.00,257.29 169.10,257.30 169.20,257.30 169.30,257.31 169.40,257.32 169.50,257.32 169.60,257.33 169.70,257.33 169.80,257.34 169.90,257.35 170.00,257.35 170.10,257.36 170.20,257.37 170.30,257.37 170.40,257.38 170.50,257.39 170.60,257.39 170.70,257.40 170.80,257.40 170.90,257.41 171.00,257.42 171.10,257.42 171.20,257.43 171.30,257.44 171.40,257.44 171.50,257.45 171.60,257.45 171.70,257.46 171.80,257.47 171.90,257.47 172.00,257.48 172.10,257.49 172.20,257.49 172.30,257.50 172.40,257.51 172.50,257.51 172.60,257.52 172.70,257.52 172.80,257.53 172.90,257.54 173.00,257.54 173.10,257.55 173.20,257.56 173.30,257.56 173.40,257.57 173.50,257.57 173.60,257.58 173.70,257.59 173.80,257.59 173.90,257.60 174.00,257.61 174.10,257.61 174.20,257.62 174.30,257.62 174.40,257.63 174.50,257.64 174.60,257.64 174.70,257.65 174.80,257.66 174.90,257.66 175.00,257.67 175.10,257.68 175.20,257.68 175.30,257.69 175.40,257.69 175.50,257.70 175.60,257.71 175.70,257.71 175.80,257.72 175.90,257.73 176.00,257.73 176.10,257.74 176.20,257.74 176.30,257.75 176.40,257.76 176.50,257.76 176.60,257.77 176.70,257.78 176.80,257.78 176.90,257.79 177.00,257.79 177.10,257.80 177.20,257.81 177.30,257.81 177.40,257.82 177.50,257.83 177.60,257.83 177.70,257.84 177.80,257.84 177.90,257.85 178.00,257.86 178.10,257.86 178.20,257.87 178.30,257.88 178.40,257.88 178.50,257.89 178.60,257.89 178.70,257.90 178.80,257.91 178.90,257.91 179.00,257.92 179.10,257.93 179.20,257.93 179.30,257.94 179.40,257.94 179.50,257.95 179.60,257.96 179.70,257.96 179.80,257.97 179.90,257.98 180.00,257.98 180.10,257.99 180.20,257.99 180.30,258.00 180.40,258.01 180.50,258.01 180.60,258.02 180.70,258.03 180.80,258.03 180.90,258.04 181.00,258.04 181.10,258.05 181.20,258.06 181.30,258.06 181.40,258.07 181.50,258.08 181.60,258.08 181.70,258.09 181.80,258.09 181.90,258.10 182.00,258.11 182.10,258.11 182.20,258.12 182.30,258.13 182.40,258.13 182.50,258.14 182.60,258.14 182.70,258.15 182.80,258.16 182.90,258.16 183.00,258.17 183.10,258.18 183.20,258.18 183.30,258.19 183.40,258.19 183.50,258.20 183.60,258.21 183.70,258.21 183.80,258.22 183.90,258.23 184.00,258.23 184.10,258.24 184.20,258.24 184.30,258.25 184.40,258.26 184.50,258.26 184.60,258.27 184.70,258.27 184.80,258.28 184.90,258.29 185.00,258.29 185.10,258.30 185.20,258.31 185.30,258.31 185.40,258.32 185.50,258.32 185.60,258.33 185.70,258.34 185.80,258.34 185.90,258.35 186.00,258.36 186.10,258.36 186.20,258.37 186.30,258.37 186.40,258.38 186.50,258.39 186.60,258.39 186.70,258.40 186.80,258.40 186.90,258.41 187.00,258.42 187.10,258.42 187.20,258.43 187.30,258.44 187.40,258.44 187.50,258.45 187.60,258.45 187.70,258.46 187.80,258.47 187.90,258.47 188.00,258.48 188.10,258.48 188.20,258.49 188.30,258.50 188.40,258.50 188.50,258.51 188.60,258.52 188.70,258.52 188.80,258.53 188.90,258.53 189.00,258.54 189.10,258.55 189.20,258.55 189.30,258.56 189.40,258.56 189.50,258.57 189.60,258.58 189.70,258.58 189.80,258.59 189.90,258.59 190.00,258.60 190.10,258.61 190.20,258.61 190.30,258.62 190.40,258.63 190.50,258.63 190.60,258.64 190.70,258.64 190.80,258.65 190.90,258.66 191.00,258.66 191.10,258.67 191.20,258.67 191.30,258.68 191.40,258.69 191.50,258.69 191.60,258.70 191.70,258.70 191.80,258.71 191.90,258.72 192.00,258.72 192.10,258.73 192.20,258.73 192.30,258.74 192.40,258.75 192.50,258.75 192.60,258.76 192.70,258.76 192.80,258.77 192.90,258.78 193.00,258.78 193.10,258.79 193.20,258.79 193.30,258.80 193.40,258.81 193.50,258.81 193.60,258.82 193.70,258.82 193.80,258.83 193.90,258.84 194.00,258.84 194.10,258.85 194.20,258.86 194.30,258.86 194.40,258.87 194.50,258.87 194.60,258.88 194.70,258.89 194.80,258.89 194.90,258.90 195.00,258.90 195.10,258.91 195.20,258.92 195.30,258.92 195.40,258.93 195.50,258.93 195.60,258.94 195.70,258.94 195.80,258.95 195.90,258.96 196.00,258.96 196.10,258.97 196.20,258.97 196.30,258.98 196.40,258.99 196.50,258.99 196.60,259.00 196.70,259.00 196.80,259.01 196.90,259.02 197.00,259.02 197.10,259.03 197.20,259.03 197.30,259.04 197.40,259.05 197.50,259.05 197.60,259.06 197.70,259.06 197.80,259.07 197.90,259.08 198.00,259.08 198.10,259.09 198.20,259.09 198.30,259.10 198.40,259.11 198.50,259.11 198.60,259.12 198.70,259.12 198.80,259.13 198.90,259.13 199.00,259.14 199.10,259.15 199.20,259.15 199.30,259.16 199.40,259.16 199.50,259.17 199.60,259.18 199.70,259.18 199.80,259.19 199.90,259.19 200.00,259.20 200.10,259.21 200.20,259.21 200.30,259.22 200.40,259.22 200.50,259.23 200.60,259.23 200.70,259.24 200.80,259.25 200.90,259.25 201.00,259.26 201.10,259.26 201.20,259.27 201.30,259.28 201.40,259.28 201.50,259.29 201.60,259.29 201.70,259.30 201.80,259.30 201.90,259.31 202.00,259.32 202.10,259.32 202.20,259.33 202.30,259.33 202.40,259.34 202.50,259.34 202.60,259.35 202.70,259.36 202.80,259.36 202.90,259.37 203.00,259.37 203.10,259.38 203.20,259.39 203.30,259.39 203.40,259.40 203.50,259.40 203.60,259.41 203.70,259.41 203.80,259.42 203.90,259.43 204.00,259.43 204.10,259.44 204.20,259.44 204.30,259.45 204.40,259.45 204.50,259.46 204.60,259.47 204.70,259.47 204.80,259.48 204.90,259.48 205.00,259.49 205.10,259.49 205.20,259.50 205.30,259.51 205.40,259.51 205.50,259.52 205.60,259.52 205.70,259.53 205.80,259.53 205.90,259.54 206.00,259.55 206.10,259.55 206.20,259.56 206.30,259.56 206.40,259.57 206.50,259.57 206.60,259.58 206.70,259.58 206.80,259.59 206.90,259.60 207.00,259.60 207.10,259.61 207.20,259.61 207.30,259.62 207.40,259.62 207.50,259.63 207.60,259.64 207.70,259.64 207.80,259.65 207.90,259.65 208.00,259.66 208.10,259.66 208.20,259.67 208.30,259.67 208.40,259.68 208.50,259.69 208.60,259.69 208.70,259.70 208.80,259.70 208.90,259.71 209.00,259.71 209.10,259.72 209.20,259.72 209.30,259.73 209.40,259.74 209.50,259.74 209.60,259.75 209.70,259.75 209.80,259.76 209.90,259.76 210.00,259.77 210.10,259.77 210.20,259.78 210.30,259.79 210.40,259.79 210.50,259.80 210.60,259.80 210.70,259.81 210.80,259.81 210.90,259.82 211.00,259.82 211.10,259.83 211.20,259.83 211.30,259.84 211.40,259.85 211.50,259.85 211.60,259.86 211.70,259.86 211.80,259.87 211.90,259.87 212.00,259.88 212.10,259.88 212.20,259.89 212.30,259.89 212.40,259.90 212.50,259.91 212.60,259.91 212.70,259.92 212.80,259.92 212.90,259.93 213.00,259.93 213.10,259.94 213.20,259.94 213.30,259.95 213.40,259.95 213.50,259.96 213.60,259.97 213.70,259.97 213.80,259.98 213.90,259.98 214.00,259.99 214.10,259.99 214.20,260.00 214.30,260.00 214.40,260.01 214.50,260.01 214.60,260.02 214.70,260.02 214.80,260.03 214.90,260.03 215.00,260.04 215.10,260.05 215.20,260.05 215.30,260.06 215.40,260.06 215.50,260.07 215.60,260.07 215.70,260.08 215.80,260.08 215.90,260.09 216.00,260.09 216.10,260.10 216.20,260.10 216.30,260.11 216.40,260.11 216.50,260.12 216.60,260.12 216.70,260.13 216.80,260.13 216.90,260.14 217.00,260.15 217.10,260.15 217.20,260.16 217.30,260.16 217.40,260.17 217.50,260.17 217.60,260.18 217.70,260.18 217.80,260.19 217.90,260.19 218.00,260.20 218.10,260.20 218.20,260.21 218.30,260.21 218.40,260.22 218.50,260.22 218.60,260.23 218.70,260.23 218.80,260.24 218.90,260.24 219.00,260.25 219.10,260.25 219.20,260.26 219.30,260.26 219.40,260.27 219.50,260.27 219.60,260.28 219.70,260.28 219.80,260.29 219.90,260.29 220.00,260.30 220.10,260.31 220.20,260.31 220.30,260.32 220.40,260.32 220.50,260.33 220.60,260.33 220.70,260.34 220.80,260.34 220.90,260.35 221.00,260.35 221.10,260.36 221.20,260.36 221.30,260.37 221.40,260.37 221.50,260.38 221.60,260.38 221.70,260.39 221.80,260.39 221.90,260.40 222.00,260.40 222.10,260.41 222.20,260.41 222.30,260.42 222.40,260.42 222.50,260.43 222.60,260.44 222.70,260.44 222.80,260.45 222.90,260.45 223.00,260.46 223.10,260.46 223.20,260.47 223.30,260.47 223.40,260.48 223.50,260.48 223.60,260.49 223.70,260.49 223.80,260.50 223.90,260.50 224.00,260.51 224.10,260.52 224.20,260.52 224.30,260.53 224.40,260.53 224.50,260.54 224.60,260.54 224.70,260.55 224.80,260.55 224.90,260.56 225.00,260.56 225.10,260.57 225.20,260.58 225.30,260.58 225.40,260.59 225.50,260.59 225.60,260.60 225.70,260.60 225.80,260.61 225.90,260.61 226.00,260.62 226.10,260.63 226.20,260.63 226.30,260.64 226.40,260.64 226.50,260.65 226.60,260.65 226.70,260.66 226.80,260.66 226.90,260.67 227.00,260.68 227.10,260.68 227.20,260.69 227.30,260.69 227.40,260.70 227.50,260.70 227.60,260.71 227.70,260.71 227.80,260.72 227.90,260.73 228.00,260.73 228.10,260.74 228.20,260.74 228.30,260.75 228.40,260.75 228.50,260.76 228.60,260.77 228.70,260.77 228.80,260.78 228.90,260.78 229.00,260.79 229.10,260.79 229.20,260.80 229.30,260.81 229.40,260.81 229.50,260.82 229.60,260.82 229.70,260.83 229.80,260.83 229.90,260.84 230.00,260.85 230.10,260.85 230.20,260.86 230.30,260.86 230.40,260.87 230.50,260.87 230.60,260.88 230.70,260.89 230.80,260.89 230.90,260.90 231.00,260.90 231.10,260.91 231.20,260.91 231.30,260.92 231.40,260.93 231.50,260.93 231.60,260.94 231.70,260.94 231.80,260.95 231.90,260.96 232.00,260.96 232.10,260.97 232.20,260.97 232.30,260.98 232.40,260.98 232.50,260.99 232.60,261.00 232.70,261.00 232.80,261.01 232.90,261.01 233.00,261.02 233.10,261.03 233.20,261.03 233.30,261.04 233.40,261.04 233.50,261.05 233.60,261.05 233.70,261.06 233.80,261.07 233.90,261.07 234.00,261.08 234.10,261.08 234.20,261.09 234.30,261.10 234.40,261.10 234.50,261.11 234.60,261.11 234.70,261.12 234.80,261.13 234.90,261.13 235.00,261.14 235.10,261.14 235.20,261.15 235.30,261.15 235.40,261.16 235.50,261.17 235.60,261.17 235.70,261.18 235.80,261.18 235.90,261.19 236.00,261.20 236.10,261.20 236.20,261.21 236.30,261.21 236.40,261.22 236.50,261.23 236.60,261.23 236.70,261.24 236.80,261.24 236.90,261.25 237.00,261.26 237.10,261.26 237.20,261.27 237.30,261.27 237.40,261.28 237.50,261.29 237.60,261.29 237.70,261.30 237.80,261.30 237.90,261.31 238.00,261.31 238.10,261.32 238.20,261.33 238.30,261.33 238.40,261.34 238.50,261.34 238.60,261.35 238.70,261.36 238.80,261.36 238.90,261.37 239.00,261.37 239.10,261.38 239.20,261.39 239.30,261.39 239.40,261.40 239.50,261.40 239.60,261.41 239.70,261.42 239.80,261.42 239.90,261.43 240.00,261.43 240.10,261.44 240.20,261.45 240.30,261.45 240.40,261.46 240.50,261.46 240.60,261.47 240.70,261.48 240.80,261.48 240.90,261.49 241.00,261.49 241.10,261.50 241.20,261.50 241.30,261.51 241.40,261.52 241.50,261.52 241.60,261.53 241.70,261.53 241.80,261.54 241.90,261.55 242.00,261.55 242.10,261.56 242.20,261.56 242.30,261.57 242.40,261.58 242.50,261.58 242.60,261.59 242.70,261.59 242.80,261.60 242.90,261.61 243.00,261.61 243.10,261.62 243.20,261.62 243.30,261.63 243.40,261.64 243.50,261.64 243.60,261.65 243.70,261.65 243.80,261.66 243.90,261.66 244.00,261.67 244.10,261.68 244.20,261.68 244.30,261.69 244.40,261.69 244.50,261.70 244.60,261.71 244.70,261.71 244.80,261.72 244.90,261.72 245.00,261.73 245.10,261.74 245.20,261.74 245.30,261.75 245.40,261.75 245.50,261.76 245.60,261.76 245.70,261.77 245.80,261.78 245.90,261.78 246.00,261.79 246.10,261.79 246.20,261.80 246.30,261.81 246.40,261.81 246.50,261.82 246.60,261.82 246.70,261.83 246.80,261.83 246.90,261.84 247.00,261.85 247.10,261.85 247.20,261.86 247.30,261.86 247.40,261.87 247.50,261.88 247.60,261.88 247.70,261.89 247.80,261.89 247.90,261.90 248.00,261.90 248.10,261.91 248.20,261.92 248.30,261.92 248.40,261.93 248.50,261.93 248.60,261.94 248.70,261.94 248.80,261.95 248.90,261.96 249.00,261.96 249.10,261.97 249.20,261.97 249.30,261.98 249.40,261.98 249.50,261.99 249.60,262.00 249.70,262.00 249.80,262.01 249.90,262.01 250.00,262.02 250.10,262.02 250.20,262.03 250.30,262.04 250.40,262.04 250.50,262.05 250.60,262.05 250.70,262.06 250.80,262.06 250.90,262.07 251.00,262.07 251.10,262.08 251.20,262.09 251.30,262.09 251.40,262.10 251.50,262.10 251.60,262.11 251.70,262.11 251.80,262.12 251.90,262.13 252.00,262.13 252.10,262.14 252.20,262.14 252.30,262.15 252.40,262.15 252.50,262.16 252.60,262.16 252.70,262.17 252.80,262.18 252.90,262.18 253.00,262.19 253.10,262.19 253.20,262.20 253.30,262.20 253.40,262.21 253.50,262.21 253.60,262.22 253.70,262.22 253.80,262.23 253.90,262.24 254.00,262.24 254.10,262.25 254.20,262.25 254.30,262.26 254.40,262.26 254.50,262.27 254.60,262.27 254.70,262.28 254.80,262.28 254.90,262.29 255.00,262.30 255.10,262.30 255.20,262.31 255.30,262.31 255.40,262.32 255.50,262.32 255.60,262.33 255.70,262.33 255.80,262.34 255.90,262.34 256.00,262.35 256.10,262.35 256.20,262.36 256.30,262.36 256.40,262.37 256.50,262.37 256.60,262.38 256.70,262.39 256.80,262.39 256.90,262.40 257.00,262.40 257.10,262.41 257.20,262.41 257.30,262.42 257.40,262.42 257.50,262.43 257.60,262.43 257.70,262.44 257.80,262.44 257.90,262.45 258.00,262.45 258.10,262.46 258.20,262.46 258.30,262.47 258.40,262.47 258.50,262.48 258.60,262.48 258.70,262.49 258.80,262.49 258.90,262.50 259.00,262.50 259.10,262.51 259.20,262.51 259.30,262.52 259.40,262.52 259.50,262.53 259.60,262.53 259.70,262.54 259.80,262.54 259.90,262.55 260.00,262.55 260.10,262.56 260.20,262.56 260.30,262.57 260.40,262.57 260.50,262.58 260.60,262.58 260.70,262.59 260.80,262.59 260.90,262.60 261.00,262.60 261.10,262.61 261.20,262.61 261.30,262.62 261.40,262.62 261.50,262.63 261.60,262.63 261.70,262.64 261.80,262.64 261.90,262.65 262.00,262.65 262.10,262.66 262.20,262.66 262.30,262.66 262.40,262.67 262.50,262.67 262.60,262.68 262.70,262.68 262.80,262.69 262.90,262.69 263.00,262.70 263.10,262.70 263.20,262.71 263.30,262.71 263.40,262.72 263.50,262.72 263.60,262.73 263.70,262.73 263.80,262.73 263.90,262.74 264.00,262.74 264.10,262.75 264.20,262.75 264.30,262.76 264.40,262.76 264.50,262.77 264.60,262.77 264.70,262.77 264.80,262.78 264.90,262.78 265.00,262.79 265.10,262.79 265.20,262.80 265.30,262.80 265.40,262.81 265.50,262.81 265.60,262.81 265.70,262.82 265.80,262.82 265.90,262.83 266.00,262.83 266.10,262.84 266.20,262.84 266.30,262.84 266.40,262.85 266.50,262.85 266.60,262.86 266.70,262.86 266.80,262.87 266.90,262.87 267.00,262.87 267.10,262.88 267.20,262.88 267.30,262.89 267.40,262.89 267.50,262.89 267.60,262.90 267.70,262.90 267.80,262.91 267.90,262.91 268.00,262.92 268.10,262.92 268.20,262.92 268.30,262.93 268.40,262.93 268.50,262.94 268.60,262.94 268.70,262.94 268.80,262.95 268.90,262.95 269.00,262.95 269.10,262.96 269.20,262.96 269.30,262.97 269.40,262.97 269.50,262.97 269.60,262.98 269.70,262.98 269.80,262.99 269.90,262.99 270.00,262.99 270.10,263.00 270.20,263.00 270.30,263.00 270.40,263.01 270.50,263.01 270.60,263.02 270.70,263.02 270.80,263.02 270.90,263.03 271.00,263.03 271.10,263.03 271.20,263.04 271.30,263.04 271.40,263.04 271.50,263.05 271.60,263.05 271.70,263.05 271.80,263.06 271.90,263.06 272.00,263.07 272.10,263.07 272.20,263.07 272.30,263.08 272.40,263.08 272.50,263.08 272.60,263.09 272.70,263.09 272.80,263.09 272.90,263.10 273.00,263.10 273.10,263.10 273.20,263.11 273.30,263.11 273.40,263.11 273.50,263.12 273.60,263.12 273.70,263.12 273.80,263.13 273.90,263.13 274.00,263.13 274.10,263.13 274.20,263.14 274.30,263.14 274.40,263.14 274.50,263.15 274.60,263.15 274.70,263.15 274.80,263.16 274.90,263.16 275.00,263.16 275.10,263.17 275.20,263.17 275.30,263.17 275.40,263.17 275.50,263.18 275.60,263.18 275.70,263.18 275.80,263.19 275.90,263.19 276.00,263.19 276.10,263.19 276.20,263.20 276.30,263.20 276.40,263.20 276.50,263.21 276.60,263.21 276.70,263.21 276.80,263.21 276.90,263.22 277.00,263.22 277.10,263.22 277.20,263.22 277.30,263.23 277.40,263.23 277.50,263.23 277.60,263.23 277.70,263.24 277.80,263.24 277.90,263.24 278.00,263.24 278.10,263.25 278.20,263.25 278.30,263.25 278.40,263.25 278.50,263.26 278.60,263.26 278.70,263.26 278.80,263.26 278.90,263.27 279.00,263.27 279.10,263.27 279.20,263.27 279.30,263.28 279.40,263.28 279.50,263.28 279.60,263.28 279.70,263.28 279.80,263.29 279.90,263.29 280.00,263.29 280.10,263.29 280.20,263.29 280.30,263.30 280.40,263.30 280.50,263.30 280.60,263.30 280.70,263.30 280.80,263.31 280.90,263.31 281.00,263.31 281.10,263.31 281.20,263.31 281.30,263.32 281.40,263.32 281.50,263.32 281.60,263.32 281.70,263.32 281.80,263.33 281.90,263.33 282.00,263.33 282.10,263.33 282.20,263.33 282.30,263.33 282.40,263.34 282.50,263.34 282.60,263.34 282.70,263.34 282.80,263.34 282.90,263.34 283.00,263.35 283.10,263.35 283.20,263.35 283.30,263.35 283.40,263.35 283.50,263.35 283.60,263.35 283.70,263.36 283.80,263.36 283.90,263.36 284.00,263.36 284.10,263.36 284.20,263.36 284.30,263.36 284.40,263.36 284.50,263.37 284.60,263.37 284.70,263.37 284.80,263.37 284.90,263.37 285.00,263.37 285.10,263.37 285.20,263.37 285.30,263.37 285.40,263.38 285.50,263.38 285.60,263.38 285.70,263.38 285.80,263.38 285.90,263.38 286.00,263.38 286.10,263.38 286.20,263.38 286.30,263.38 286.40,263.39 286.50,263.39 286.60,263.39 286.70,263.39 286.80,263.39 286.90,263.39 287.00,263.39 287.10,263.39 287.20,263.39 287.30,263.39 287.40,263.39 287.50,263.39 287.60,263.39 287.70,263.39 287.80,263.39 287.90,263.39 288.00,263.40 288.10,263.40 288.20,263.40 288.30,263.40 288.40,263.40 288.50,263.40 288.60,263.40 288.70,263.40 288.80,263.40 288.90,263.40 289.00,263.40 289.10,263.40 289.20,263.40 289.30,263.40 289.40,263.40 289.50,263.40 289.60,263.40 289.70,263.40 289.80,263.40 289.90,263.40 290.00,263.40 290.10,263.40 290.20,263.40 290.30,263.40 290.40,263.40 290.50,263.40 290.60,263.40 290.70,263.40 290.80,263.40 290.90,263.40 291.00,263.40 291.10,263.40 291.20,263.40 291.30,263.40 291.40,263.40 291.50,263.40 291.60,263.40 291.70,263.40 291.80,263.40 291.90,263.40 292.00,263.40 292.10,263.40 292.20,263.40 292.30,263.40 292.40,263.40 292.50,263.40 292.60,263.40 292.70,263.40 292.80,263.40 292.90,263.40 293.00,263.40 293.10,263.40 293.20,263.40 293.30,263.40 293.40,263.40 293.50,263.40 293.60,263.40 293.70,263.40 293.80,263.40 293.90,263.40 294.00,263.40 294.10,263.40 294.20,263.40 294.30,263.40 294.40,263.40 294.50,263.40 294.60,263.40 294.70,263.40 294.80,263.39 294.90,263.39 295.00,263.39 295.10,263.39 295.20,263.39 295.30,263.39 295.40,263.39 295.50,263.39 295.60,263.39 295.70,263.39 295.80,263.39 295.90,263.39 296.00,263.39 296.10,263.39 296.20,263.39 296.30,263.39 296.40,263.39 296.50,263.39 296.60,263.39 296.70,263.39 296.80,263.39 296.90,263.39 297.00,263.39 297.10,263.39 297.20,263.39 297.30,263.39 297.40,263.39 297.50,263.39 297.60,263.39 297.70,263.39 297.80,263.39 297.90,263.39 298.00,263.39 298.10,263.39 298.20,263.39 298.30,263.38 298.40,263.38 298.50,263.38 298.60,263.38 298.70,263.38 298.80,263.38 298.90,263.38 299.00,263.38 299.10,263.38 299.20,263.38 299.30,263.38 299.40,263.38 299.50,263.38 299.60,263.38 299.70,263.38 299.80,263.38 299.90,263.38 300.00,263.38 300.10,263.38 300.20,263.38 300.30,263.38 300.40,263.38 300.50,263.38 300.60,263.37 300.70,263.37 300.80,263.37 300.90,263.37 301.00,263.37 301.10,263.37 301.20,263.37 301.30,263.37 301.40,263.37 301.50,263.37 301.60,263.37 301.70,263.37 301.80,263.37 301.90,263.37 302.00,263.37 302.10,263.37 302.20,263.37 302.30,263.37 302.40,263.37 302.50,263.36 302.60,263.36 302.70,263.36 302.80,263.36 302.90,263.36 303.00,263.36 303.10,263.36 303.20,263.36 303.30,263.36 303.40,263.36 303.50,263.36 303.60,263.36 303.70,263.36 303.80,263.36 303.90,263.36 304.00,263.36 304.10,263.35 304.20,263.35 304.30,263.35 304.40,263.35 304.50,263.35 304.60,263.35 304.70,263.35 304.80,263.35 304.90,263.35 305.00,263.35 305.10,263.35 305.20,263.35 305.30,263.35 305.40,263.35 305.50,263.35 305.60,263.34 305.70,263.34 305.80,263.34 305.90,263.34 306.00,263.34 306.10,263.34 306.20,263.34 306.30,263.34 306.40,263.34 306.50,263.34 306.60,263.34 306.70,263.34 306.80,263.34 306.90,263.33 307.00,263.33 307.10,263.33 307.20,263.33 307.30,263.33 307.40,263.33 307.50,263.33 307.60,263.33 307.70,263.33 307.80,263.33 307.90,263.33 308.00,263.33 308.10,263.32 308.20,263.32 308.30,263.32 308.40,263.32 308.50,263.32 308.60,263.32 308.70,263.32 308.80,263.32 308.90,263.32 309.00,263.32 309.10,263.32 309.20,263.31 309.30,263.31 309.40,263.31 309.50,263.31 309.60,263.31 309.70,263.31 309.80,263.31 309.90,263.31 310.00,263.31 310.10,263.31 310.20,263.31 310.30,263.30 310.40,263.30 310.50,263.30 310.60,263.30 310.70,263.30 310.80,263.30 310.90,263.30 311.00,263.30 311.10,263.30 311.20,263.30 311.30,263.29 311.40,263.29 311.50,263.29 311.60,263.29 311.70,263.29 311.80,263.29 311.90,263.29 312.00,263.29 312.10,263.29 312.20,263.28 312.30,263.28 312.40,263.28 312.50,263.28 312.60,263.28 312.70,263.28 312.80,263.28 312.90,263.28 313.00,263.28 313.10,263.27 313.20,263.27 313.30,263.27 313.40,263.27 313.50,263.27 313.60,263.27 313.70,263.27 313.80,263.27 313.90,263.27 314.00,263.26 314.10,263.26 314.20,263.26 314.30,263.26 314.40,263.26 314.50,263.26 314.60,263.26 314.70,263.26 314.80,263.25 314.90,263.25 315.00,263.25 315.10,263.25 315.20,263.25 315.30,263.25 315.40,263.25 315.50,263.25 315.60,263.24 315.70,263.24 315.80,263.24 315.90,263.24 316.00,263.24 316.10,263.24 316.20,263.24 316.30,263.24 316.40,263.23 316.50,263.23 316.60,263.23 316.70,263.23 316.80,263.23 316.90,263.23 317.00,263.23 317.10,263.22 317.20,263.22 317.30,263.22 317.40,263.22 317.50,263.22 317.60,263.22 317.70,263.22 317.80,263.22 317.90,263.21 318.00,263.21 318.10,263.21 318.20,263.21 318.30,263.21 318.40,263.21 318.50,263.21 318.60,263.20 318.70,263.20 318.80,263.20 318.90,263.20 319.00,263.20 319.10,263.20 319.20,263.19 319.30,263.19 319.40,263.19 319.50,263.19 319.60,263.19 319.70,263.19 319.80,263.19 319.90,263.18 320.00,263.18 320.10,263.18 320.20,263.18 320.30,263.18 320.40,263.18 320.50,263.18 320.60,263.17 320.70,263.17 320.80,263.17 320.90,263.17 321.00,263.17 321.10,263.17 321.20,263.16 321.30,263.16 321.40,263.16 321.50,263.16 321.60,263.16 321.70,263.16 321.80,263.15 321.90,263.15 322.00,263.15 322.10,263.15 322.20,263.15 322.30,263.15 322.40,263.14 322.50,263.14 322.60,263.14 322.70,263.14 322.80,263.14 322.90,263.14 323.00,263.13 323.10,263.13 323.20,263.13 323.30,263.13 323.40,263.13 323.50,263.13 323.60,263.12 323.70,263.12 323.80,263.12 323.90,263.12 324.00,263.12 324.10,263.12 324.20,263.11 324.30,263.11 324.40,263.11 324.50,263.11 324.60,263.11 324.70,263.10 324.80,263.10 324.90,263.10 325.00,263.10 325.10,263.10 325.20,263.10 325.30,263.09 325.40,263.09 325.50,263.09 325.60,263.09 325.70,263.09 325.80,263.08 325.90,263.08 326.00,263.08 326.10,263.08 326.20,263.08 326.30,263.07 326.40,263.07 326.50,263.07 326.60,263.07 326.70,263.07 326.80,263.07 326.90,263.06 327.00,263.06 327.10,263.06 327.20,263.06 327.30,263.06 327.40,263.05 327.50,263.05 327.60,263.05 327.70,263.05 327.80,263.05 327.90,263.04 328.00,263.04 328.10,263.04 328.20,263.04 328.30,263.04 328.40,263.03 328.50,263.03 328.60,263.03 328.70,263.03 328.80,263.03 328.90,263.02 329.00,263.02 329.10,263.02 329.20,263.02 329.30,263.01 329.40,263.01 329.50,263.01 329.60,263.01 329.70,263.01 329.80,263.00 329.90,263.00 330.00,263.00 330.10,263.00 330.20,263.00 330.30,262.99 330.40,262.99 330.50,262.99 330.60,262.98 330.70,262.98 330.80,262.98 330.90,262.97 331.00,262.97 331.10,262.96 331.20,262.96 331.30,262.96 331.40,262.95 331.50,262.95 331.60,262.94 331.70,262.94 331.80,262.93 331.90,262.92 332.00,262.92 332.10,262.91 332.20,262.91 332.30,262.90 332.40,262.89 332.50,262.89 332.60,262.88 332.70,262.87 332.80,262.87 332.90,262.86 333.00,262.85 333.10,262.84 333.20,262.83 333.30,262.83 333.40,262.82 333.50,262.81 333.60,262.80 333.70,262.79 333.80,262.78 333.90,262.77 334.00,262.77 334.10,262.76 334.20,262.75 334.30,262.74 334.40,262.73 334.50,262.72 334.60,262.71 334.70,262.70 334.80,262.69 334.90,262.68 335.00,262.66 335.10,262.65 335.20,262.64 335.30,262.63 335.40,262.62 335.50,262.61 335.60,262.60 335.70,262.58 335.80,262.57 335.90,262.56 336.00,262.55 336.10,262.54 336.20,262.52 336.30,262.51 336.40,262.50 336.50,262.49 336.60,262.47 336.70,262.46 336.80,262.45 336.90,262.43 337.00,262.42 337.10,262.40 337.20,262.39 337.30,262.38 337.40,262.36 337.50,262.35 337.60,262.33 337.70,262.32 337.80,262.31 337.90,262.29 338.00,262.28 338.10,262.26 338.20,262.25 338.30,262.23 338.40,262.22 338.50,262.20 338.60,262.18 338.70,262.17 338.80,262.15 338.90,262.14 339.00,262.12 339.10,262.11 339.20,262.09 339.30,262.07 339.40,262.06 339.50,262.04 339.60,262.02 339.70,262.01 339.80,261.99 339.90,261.97 340.00,261.96 340.10,261.94 340.20,261.92 340.30,261.90 340.40,261.89 340.50,261.87 340.60,261.85 340.70,261.83 340.80,261.82 340.90,261.80 341.00,261.78 341.10,261.76 341.20,261.74 341.30,261.73 341.40,261.71 341.50,261.69 341.60,261.67 341.70,261.65 341.80,261.63 341.90,261.61 342.00,261.60 342.10,261.58 342.20,261.56 342.30,261.54 342.40,261.52 342.50,261.50 342.60,261.48 342.70,261.46 342.80,261.44 342.90,261.42 343.00,261.40 343.10,261.38 343.20,261.36 343.30,261.34 343.40,261.32 343.50,261.31 343.60,261.29 343.70,261.27 343.80,261.25 343.90,261.23 344.00,261.20 344.10,261.18 344.20,261.16 344.30,261.14 344.40,261.12 344.50,261.10 344.60,261.08 344.70,261.06 344.80,261.04 344.90,261.02 345.00,261.00 345.10,260.98 345.20,260.96 345.30,260.94 345.40,260.91 345.50,260.89 345.60,260.87 345.70,260.85 345.80,260.82 345.90,260.80 346.00,260.78 346.10,260.75 346.20,260.73 346.30,260.70 346.40,260.68 346.50,260.65 346.60,260.62 346.70,260.60 346.80,260.57 346.90,260.54 347.00,260.52 347.10,260.49 347.20,260.46 347.30,260.43 347.40,260.40 347.50,260.37 347.60,260.34 347.70,260.31 347.80,260.28 347.90,260.25 348.00,260.22 348.10,260.19 348.20,260.16 348.30,260.13 348.40,260.09 348.50,260.06 348.60,260.03 348.70,259.99 348.80,259.96 348.90,259.93 349.00,259.89 349.10,259.86 349.20,259.82 349.30,259.79 349.40,259.75 349.50,259.71 349.60,259.68 349.70,259.64 349.80,259.60 349.90,259.57 350.00,259.53 350.10,259.49 350.20,259.45 350.30,259.41 350.40,259.37 350.50,259.33 350.60,259.29 350.70,259.25 350.80,259.21 350.90,259.17 351.00,259.13 351.10,259.09 351.20,259.05 351.30,259.00 351.40,258.96 351.50,258.92 351.60,258.87 351.70,258.83 351.80,258.79 351.90,258.74 352.00,258.70 352.10,258.65 352.20,258.61 352.30,258.56 352.40,258.51 352.50,258.47 352.60,258.42 352.70,258.37 352.80,258.33 352.90,258.28 353.00,258.23 353.10,258.18 353.20,258.13 353.30,258.08 353.40,258.03 353.50,257.98 353.60,257.93 353.70,257.88 353.80,257.83 353.90,257.78 354.00,257.73 354.10,257.68 354.20,257.62 354.30,257.57 354.40,257.52 354.50,257.46 354.60,257.41 354.70,257.36 354.80,257.30 354.90,257.25 355.00,257.19 355.10,257.14 355.20,257.08 355.30,257.02 355.40,256.97 355.50,256.91 355.60,256.85 355.70,256.80 355.80,256.74 355.90,256.68 356.00,256.62 356.10,256.56 356.20,256.50 356.30,256.44 356.40,256.38 356.50,256.32 356.60,256.26 356.70,256.20 356.80,256.14 356.90,256.08 357.00,256.02 357.10,255.96 357.20,255.89 357.30,255.83 357.40,255.77 357.50,255.70 357.60,255.64 357.70,255.57 357.80,255.51 357.90,255.44 358.00,255.38 358.10,255.31 358.20,255.25 358.30,255.18 358.40,255.11 358.50,255.05 358.60,254.98 358.70,254.91 358.80,254.84 358.90,254.78 359.00,254.71 359.10,254.64 359.20,254.57 359.30,254.50 359.40,254.43 359.50,254.36 359.60,254.29 359.70,254.22 359.80,254.14 359.90,254.07 360.00,254.00 360.10,253.93 360.20,253.85 360.30,253.77 360.40,253.69 360.50,253.61 360.60,253.53 360.70,253.44 360.80,253.35 360.90,253.26 361.00,253.17 361.10,253.08 361.20,252.98 361.30,252.88 361.40,252.79 361.50,252.68 361.60,252.58 361.70,252.48 361.80,252.37 361.90,252.26 362.00,252.15 362.10,252.04 362.20,251.93 362.30,251.81 362.40,251.70 362.50,251.58 362.60,251.46 362.70,251.34 362.80,251.22 362.90,251.09 363.00,250.97 363.10,250.84 363.20,250.71 363.30,250.58 363.40,250.45 363.50,250.32 363.60,250.19 363.70,250.05 363.80,249.92 363.90,249.78 364.00,249.64 364.10,249.50 364.20,249.36 364.30,249.22 364.40,249.08 364.50,248.94 364.60,248.79 364.70,248.65 364.80,248.50 364.90,248.36 365.00,248.21 365.10,248.06 365.20,247.91 365.30,247.76 365.40,247.61 365.50,247.46 365.60,247.30 365.70,247.15 365.80,247.00 365.90,246.84 366.00,246.69 366.10,246.53 366.20,246.38 366.30,246.22 366.40,246.06 366.50,245.90 366.60,245.75 366.70,245.59 366.80,245.43 366.90,245.27 367.00,245.11 367.10,244.95 367.20,244.79 367.30,244.63 367.40,244.47 367.50,244.31 367.60,244.15 367.70,243.98 367.80,243.82 367.90,243.66 368.00,243.50 368.10,243.34 368.20,243.17 368.30,243.01 368.40,242.84 368.50,242.68 368.60,242.51 368.70,242.34 368.80,242.17 368.90,241.99 369.00,241.82 369.10,241.65 369.20,241.47 369.30,241.29 369.40,241.11 369.50,240.93 369.60,240.74 369.70,240.56 369.80,240.37 369.90,240.18 370.00,239.99 370.10,239.80 370.20,239.60 370.30,239.41 370.40,239.21 370.50,239.01 370.60,238.80 370.70,238.60 370.80,238.39 370.90,238.18 371.00,237.97 371.10,237.76 371.20,237.54 371.30,237.32 371.40,237.10 371.50,236.88 371.60,236.65 371.70,236.42 371.80,236.19 371.90,235.96 372.00,235.72 372.10,235.48 372.20,235.24 372.30,235.00 372.40,234.75 372.50,234.50 372.60,234.24 372.70,233.98 372.80,233.70 372.90,233.42 373.00,233.13 373.10,232.83 373.20,232.52 373.30,232.21 373.40,231.89 373.50,231.56 373.60,231.23 373.70,230.90 373.80,230.56 373.90,230.22 374.00,229.87 374.10,229.52 374.20,229.17 374.30,228.82 374.40,228.46 374.50,228.11 374.60,227.75 374.70,227.39 374.80,227.04 374.90,226.68 375.00,226.33 375.10,225.98 375.20,225.63 375.30,225.29 375.40,224.95 375.50,224.61 375.60,224.28 375.70,223.95 375.80,223.63 375.90,223.31 376.00,223.00 376.10,222.69 376.20,222.36 376.30,222.02 376.40,221.67 376.50,221.31 376.60,220.94 376.70,220.57 376.80,220.19 376.90,219.81 377.00,219.42 377.10,219.04 377.20,218.65 377.30,218.27 377.40,217.90 377.50,217.53 377.60,217.16 377.70,216.81 377.80,216.46 377.90,216.13 378.00,215.81 378.10,215.50 378.20,215.21 378.30,214.94 378.40,214.69 378.50,214.45 378.60,214.24 378.70,214.05 378.80,213.89 378.90,213.75 379.00,213.65 379.10,213.57 379.20,213.52 379.30,213.50" stroke="#000" stroke-width="4.4" stroke-dasharray="11.2 3.8" stroke-dashoffset="7.52"/>
<polyline points="379.30,213.50 379.40,213.53 379.50,213.61 379.60,213.73 379.70,213.91 379.80,214.14 379.90,214.41 380.00,214.72 380.10,215.08 380.20,215.48 380.30,215.92 380.40,216.40 380.50,216.91 380.60,217.46 380.70,218.04 380.80,218.65 380.90,219.29 381.00,219.96 381.10,220.66 381.20,221.38 381.30,222.13 381.40,222.90 381.50,223.69 381.60,224.50 381.70,225.53 381.80,226.93 381.90,228.63 382.00,230.57 382.10,232.68 382.20,234.89 382.30,237.13 382.40,239.32 382.50,241.41 382.60,243.33 382.70,245.00 382.80,246.50 382.90,247.97 383.00,249.39 383.10,250.77 383.20,252.12 383.30,253.44 383.40,254.73 383.50,256.00 383.60,257.24 383.70,258.45 383.80,259.65 383.90,260.84 384.00,262.00 384.10,263.16 384.20,264.31 384.30,265.45 384.40,266.59 384.50,267.72 384.60,268.86 384.70,270.00 384.80,271.17 384.90,272.38 385.00,273.63 385.10,274.92 385.20,276.24 385.30,277.58 385.40,278.94 385.50,280.32 385.60,281.71 385.70,283.10 385.80,284.48 385.90,285.87 386.00,287.24 386.10,288.59 386.20,289.92 386.30,291.23 386.40,292.50 386.50,293.74 386.60,294.93 386.70,296.07 386.80,297.17 386.90,298.20 387.00,299.18 387.10,300.08 387.20,300.91 387.30,301.66 387.40,302.33 387.50,302.91 387.60,303.40 387.70,303.78 387.80,304.07 387.90,304.24 388.00,304.30 388.10,304.29 388.20,304.27 388.30,304.24 388.40,304.20 388.50,304.15 388.60,304.08 388.70,304.01 388.80,303.92 388.90,303.83 389.00,303.73 389.10,303.62 389.20,303.50 389.30,303.38 389.40,303.25 389.50,303.12 389.60,302.98 389.70,302.83 389.80,302.68 389.90,302.53 390.00,302.38 390.10,302.22 390.20,302.06 390.30,301.90 390.40,301.74 390.50,301.58 390.60,301.42 390.70,301.26 390.80,301.10 390.90,300.94 391.00,300.79 391.10,300.64 391.20,300.49 391.30,300.34 391.40,300.21 391.50,300.07 391.60,299.94 391.70,299.82 391.80,299.71 391.90,299.60 392.00,299.50 392.10,299.40 392.20,299.31 392.30,299.22 392.40,299.12 392.50,299.03 392.60,298.94 392.70,298.85 392.80,298.76 392.90,298.67 393.00,298.59 393.10,298.50 393.20,298.41 393.30,298.33 393.40,298.24 393.50,298.16 393.60,298.08 393.70,297.99 393.80,297.91 393.90,297.83 394.00,297.75 394.10,297.67 394.20,297.59 394.30,297.51 394.40,297.43 394.50,297.35 394.60,297.28 394.70,297.20 394.80,297.12 394.90,297.05 395.00,296.97 395.10,296.90 395.20,296.82 395.30,296.75 395.40,296.67 395.50,296.60 395.60,296.53 395.70,296.46 395.80,296.38 395.90,296.31 396.00,296.24 396.10,296.17 396.20,296.10 396.30,296.03 396.40,295.96 396.50,295.89 396.60,295.82 396.70,295.75 396.80,295.68 396.90,295.61 397.00,295.54 397.10,295.47 397.20,295.41 397.30,295.34 397.40,295.27 397.50,295.20 397.60,295.14 397.70,295.07 397.80,295.00 397.90,294.93 398.00,294.87 398.10,294.80 398.20,294.73 398.30,294.67 398.40,294.60 398.50,294.54 398.60,294.47 398.70,294.41 398.80,294.34 398.90,294.28 399.00,294.22 399.10,294.15 399.20,294.09 399.30,294.03 399.40,293.96 399.50,293.90 399.60,293.84 399.70,293.78 399.80,293.72 399.90,293.66 400.00,293.60 400.10,293.53 400.20,293.47 400.30,293.41 400.40,293.35 400.50,293.30 400.60,293.24 400.70,293.18 400.80,293.12 400.90,293.06 401.00,293.00 401.10,292.94 401.20,292.89 401.30,292.83 401.40,292.77 401.50,292.71 401.60,292.66 401.70,292.60 401.80,292.54 401.90,292.48 402.00,292.43 402.10,292.37 402.20,292.32 402.30,292.26 402.40,292.20 402.50,292.15 402.60,292.09 402.70,292.04 402.80,291.98 402.90,291.93 403.00,291.87 403.10,291.82 403.20,291.76 403.30,291.71 403.40,291.65 403.50,291.60 403.60,291.55 403.70,291.49 403.80,291.44 403.90,291.38 404.00,291.32 404.10,291.27 404.20,291.21 404.30,291.15 404.40,291.10 404.50,291.04 404.60,290.98 404.70,290.92 404.80,290.86 404.90,290.81 405.00,290.75 405.10,290.69 405.20,290.63 405.30,290.57 405.40,290.51 405.50,290.45 405.60,290.39 405.70,290.33 405.80,290.28 405.90,290.22 406.00,290.16 406.10,290.10 406.20,290.04 406.30,289.98 406.40,289.92 406.50,289.87 406.60,289.81 406.70,289.75 406.80,289.69 406.90,289.64 407.00,289.58 407.10,289.52 407.20,289.47 407.30,289.41 407.40,289.35 407.50,289.30 407.60,289.24 407.70,289.19 407.80,289.14 407.90,289.08 408.00,289.03 408.10,288.98 408.20,288.93 408.30,288.88 408.40,288.82 408.50,288.78 408.60,288.73 408.70,288.68 408.80,288.63 408.90,288.58 409.00,288.54 409.10,288.49 409.20,288.45 409.30,288.40 409.40,288.36 409.50,288.32 409.60,288.27 409.70,288.23 409.80,288.19 409.90,288.16 410.00,288.12 410.10,288.08 410.20,288.04 410.30,288.01 410.40,287.98 410.50,287.94 410.60,287.91 410.70,287.88 410.80,287.85 410.90,287.82 411.00,287.80 411.10,287.77 411.20,287.75 411.30,287.72 411.40,287.70 411.50,287.68 411.60,287.66 411.70,287.64 411.80,287.62 411.90,287.59 412.00,287.57 412.10,287.55 412.20,287.53 412.30,287.51 412.40,287.49 412.50,287.47 412.60,287.45 412.70,287.43 412.80,287.42 412.90,287.40 413.00,287.38 413.10,287.36 413.20,287.34 413.30,287.32 413.40,287.30 413.50,287.29 413.60,287.27 413.70,287.25 413.80,287.23 413.90,287.22 414.00,287.20 414.10,287.18 414.20,287.16 414.30,287.15 414.40,287.13 414.50,287.11 414.60,287.10 414.70,287.08 414.80,287.07 414.90,287.05 415.00,287.03 415.10,287.02 415.20,287.00 415.30,286.99 415.40,286.97 415.50,286.96 415.60,286.94 415.70,286.93 415.80,286.91 415.90,286.90 416.00,286.89 416.10,286.87 416.20,286.86 416.30,286.84 416.40,286.83 416.50,286.82 416.60,286.80 416.70,286.79 416.80,286.78 416.90,286.76 417.00,286.75 417.10,286.74 417.20,286.73 417.30,286.71 417.40,286.70 417.50,286.69 417.60,286.68 417.70,286.66 417.80,286.65 417.90,286.64 418.00,286.63 418.10,286.62 418.20,286.61 418.30,286.59 418.40,286.58 418.50,286.57 418.60,286.56 418.70,286.55 418.80,286.54 418.90,286.53 419.00,286.52 419.10,286.51 419.20,286.50 419.30,286.49 419.40,286.48 419.50,286.47 419.60,286.46 419.70,286.45 419.80,286.44 419.90,286.43 420.00,286.42 420.10,286.41 420.20,286.40 420.30,286.39 420.40,286.38 420.50,286.38 420.60,286.37 420.70,286.36 420.80,286.35 420.90,286.34 421.00,286.33 421.10,286.33 421.20,286.32 421.30,286.31 421.40,286.30 421.50,286.29 421.60,286.29 421.70,286.28 421.80,286.27 421.90,286.26 422.00,286.26 422.10,286.25 422.20,286.24 422.30,286.23 422.40,286.23 422.50,286.22 422.60,286.21 422.70,286.21 422.80,286.20 422.90,286.19 423.00,286.19 423.10,286.18 423.20,286.17 423.30,286.17 423.40,286.16 423.50,286.15 423.60,286.15 423.70,286.14 423.80,286.14 423.90,286.13 424.00,286.12 424.10,286.12 424.20,286.11 424.30,286.10 424.40,286.10 424.50,286.09 424.60,286.09 424.70,286.08 424.80,286.07 424.90,286.07 425.00,286.06 425.10,286.06 425.20,286.05 425.30,286.05 425.40,286.04 425.50,286.03 425.60,286.03 425.70,286.02 425.80,286.02 425.90,286.01 426.00,286.01 426.10,286.00 426.20,286.00 426.30,285.99 426.40,285.98 426.50,285.98 426.60,285.97 426.70,285.97 426.80,285.96 426.90,285.96 427.00,285.95 427.10,285.95 427.20,285.94 427.30,285.94 427.40,285.93 427.50,285.93 427.60,285.92 427.70,285.92 427.80,285.91 427.90,285.91 428.00,285.90 428.10,285.90 428.20,285.89 428.30,285.89 428.40,285.88 428.50,285.88 428.60,285.87 428.70,285.87 428.80,285.87 428.90,285.86 429.00,285.86 429.10,285.85 429.20,285.85 429.30,285.84 429.40,285.84 429.50,285.83 429.60,285.83 429.70,285.83 429.80,285.82 429.90,285.82 430.00,285.81 430.10,285.81 430.20,285.80 430.30,285.80 430.40,285.80 430.50,285.79 430.60,285.79 430.70,285.78 430.80,285.78 430.90,285.78 431.00,285.77 431.10,285.77 431.20,285.77 431.30,285.76 431.40,285.76 431.50,285.75 431.60,285.75 431.70,285.75 431.80,285.74 431.90,285.74 432.00,285.74 432.10,285.73 432.20,285.73 432.30,285.72 432.40,285.72 432.50,285.72 432.60,285.71 432.70,285.71 432.80,285.71 432.90,285.70 433.00,285.70 433.10,285.70 433.20,285.69 433.30,285.69 433.40,285.69 433.50,285.68 433.60,285.68 433.70,285.68 433.80,285.68 433.90,285.67 434.00,285.67 434.10,285.67 434.20,285.66 434.30,285.66 434.40,285.66 434.50,285.65 434.60,285.65 434.70,285.65 434.80,285.65 434.90,285.64 435.00,285.64 435.10,285.64 435.20,285.64 435.30,285.63 435.40,285.63 435.50,285.63 435.60,285.62 435.70,285.62 435.80,285.62 435.90,285.62 436.00,285.61 436.10,285.61 436.20,285.61 436.30,285.61 436.40,285.60 436.50,285.60 436.60,285.60 436.70,285.60 436.80,285.60 436.90,285.59 437.00,285.59 437.10,285.59 437.20,285.59 437.30,285.58 437.40,285.58 437.50,285.58 437.60,285.58 437.70,285.57 437.80,285.57 437.90,285.57 438.00,285.57 438.10,285.57 438.20,285.56 438.30,285.56 438.40,285.56 438.50,285.56 438.60,285.55 438.70,285.55 438.80,285.55 438.90,285.55 439.00,285.54 439.10,285.54 439.20,285.54 439.30,285.54 439.40,285.54 439.50,285.53 439.60,285.53 439.70,285.53 439.80,285.53 439.90,285.52 440.00,285.52 440.10,285.52 440.20,285.52 440.30,285.52 440.40,285.51 440.50,285.51 440.60,285.51 440.70,285.51 440.80,285.50 440.90,285.50 441.00,285.50 441.10,285.50 441.20,285.49 441.30,285.49 441.40,285.49 441.50,285.49 441.60,285.49 441.70,285.48 441.80,285.48 441.90,285.48 442.00,285.48 442.10,285.47 442.20,285.47 442.30,285.47 442.40,285.47 442.50,285.47 442.60,285.46 442.70,285.46 442.80,285.46 442.90,285.46 443.00,285.46 443.10,285.45 443.20,285.45 443.30,285.45 443.40,285.45 443.50,285.44 443.60,285.44 443.70,285.44 443.80,285.44 443.90,285.44 444.00,285.43 444.10,285.43 444.20,285.43 444.30,285.43 444.40,285.43 444.50,285.42 444.60,285.42 444.70,285.42 444.80,285.42 444.90,285.41 445.00,285.41 445.10,285.41 445.20,285.41 445.30,285.41 445.40,285.40 445.50,285.40 445.60,285.40 445.70,285.40 445.80,285.40 445.90,285.39 446.00,285.39 446.10,285.39 446.20,285.39 446.30,285.39 446.40,285.38 446.50,285.38 446.60,285.38 446.70,285.38 446.80,285.38 446.90,285.37 447.00,285.37 447.10,285.37 447.20,285.37 447.30,285.36 447.40,285.36 447.50,285.36 447.60,285.36 447.70,285.36 447.80,285.35 447.90,285.35 448.00,285.35 448.10,285.35 448.20,285.35 448.30,285.34 448.40,285.34 448.50,285.34 448.60,285.34 448.70,285.34 448.80,285.33 448.90,285.33 449.00,285.33 449.10,285.33 449.20,285.33 449.30,285.33 449.40,285.32 449.50,285.32 449.60,285.32 449.70,285.32 449.80,285.32 449.90,285.31 450.00,285.31 450.10,285.31 450.20,285.31 450.30,285.31 450.40,285.30 450.50,285.30 450.60,285.30 450.70,285.30 450.80,285.30 450.90,285.29 451.00,285.29 451.10,285.29 451.20,285.29 451.30,285.29 451.40,285.29 451.50,285.28 451.60,285.28 451.70,285.28 451.80,285.28 451.90,285.28 452.00,285.27 452.10,285.27 452.20,285.27 452.30,285.27 452.40,285.27 452.50,285.27 452.60,285.26 452.70,285.26 452.80,285.26 452.90,285.26 453.00,285.26 453.10,285.25 453.20,285.25 453.30,285.25 453.40,285.25 453.50,285.25 453.60,285.25 453.70,285.24 453.80,285.24 453.90,285.24 454.00,285.24 454.10,285.24 454.20,285.23 454.30,285.23 454.40,285.23 454.50,285.23 454.60,285.23 454.70,285.23 454.80,285.22 454.90,285.22 455.00,285.22 455.10,285.22 455.20,285.22 455.30,285.22 455.40,285.21 455.50,285.21 455.60,285.21 455.70,285.21 455.80,285.21 455.90,285.21 456.00,285.20 456.10,285.20 456.20,285.20 456.30,285.20 456.40,285.20 456.50,285.20 456.60,285.19 456.70,285.19 456.80,285.19 456.90,285.19 457.00,285.19 457.10,285.19 457.20,285.19 457.30,285.18 457.40,285.18 457.50,285.18 457.60,285.18 457.70,285.18 457.80,285.18 457.90,285.17 458.00,285.17 458.10,285.17 458.20,285.17 458.30,285.17 458.40,285.17 458.50,285.17 458.60,285.16 458.70,285.16 458.80,285.16 458.90,285.16 459.00,285.16 459.10,285.16 459.20,285.16 459.30,285.15 459.40,285.15 459.50,285.15 459.60,285.15 459.70,285.15 459.80,285.15 459.90,285.15 460.00,285.14 460.10,285.14 460.20,285.14 460.30,285.14 460.40,285.14 460.50,285.14 460.60,285.14 460.70,285.13 460.80,285.13 460.90,285.13 461.00,285.13 461.10,285.13 461.20,285.13 461.30,285.13 461.40,285.12 461.50,285.12 461.60,285.12 461.70,285.12 461.80,285.12 461.90,285.12 462.00,285.12 462.10,285.12 462.20,285.11 462.30,285.11 462.40,285.11 462.50,285.11 462.60,285.11 462.70,285.11 462.80,285.11 462.90,285.11 463.00,285.10 463.10,285.10 463.20,285.10 463.30,285.10 463.40,285.10 463.50,285.10 463.60,285.10 463.70,285.10 463.80,285.09 463.90,285.09 464.00,285.09 464.10,285.09 464.20,285.09 464.30,285.09 464.40,285.09 464.50,285.09 464.60,285.09 464.70,285.08 464.80,285.08 464.90,285.08 465.00,285.08 465.10,285.08 465.20,285.08 465.30,285.08 465.40,285.08 465.50,285.08 465.60,285.07 465.70,285.07 465.80,285.07 465.90,285.07 466.00,285.07 466.10,285.07 466.20,285.07 466.30,285.07 466.40,285.07 466.50,285.06 466.60,285.06 466.70,285.06 466.80,285.06 466.90,285.06 467.00,285.06 467.10,285.06 467.20,285.06 467.30,285.06 467.40,285.06 467.50,285.06 467.60,285.05 467.70,285.05 467.80,285.05 467.90,285.05 468.00,285.05 468.10,285.05 468.20,285.05 468.30,285.05 468.40,285.05 468.50,285.05 468.60,285.05 468.70,285.04 468.80,285.04 468.90,285.04 469.00,285.04 469.10,285.04 469.20,285.04 469.30,285.04 469.40,285.04 469.50,285.04 469.60,285.04 469.70,285.04 469.80,285.04 469.90,285.04 470.00,285.03 470.10,285.03 470.20,285.03 470.30,285.03 470.40,285.03 470.50,285.03 470.60,285.03 470.70,285.03 470.80,285.03 470.90,285.03 471.00,285.03 471.10,285.03 471.20,285.03 471.30,285.03 471.40,285.02 471.50,285.02 471.60,285.02 471.70,285.02 471.80,285.02 471.90,285.02 472.00,285.02 472.10,285.02 472.20,285.02 472.30,285.02 472.40,285.02 472.50,285.02 472.60,285.02 472.70,285.02 472.80,285.02 472.90,285.02 473.00,285.02 473.10,285.02 473.20,285.01 473.30,285.01 473.40,285.01 473.50,285.01 473.60,285.01 473.70,285.01 473.80,285.01 473.90,285.01 474.00,285.01 474.10,285.01 474.20,285.01 474.30,285.01 474.40,285.01 474.50,285.01 474.60,285.01 474.70,285.01 474.80,285.01 474.90,285.01 475.00,285.01 475.10,285.01 475.20,285.01 475.30,285.01 475.40,285.01 475.50,285.01 475.60,285.01 475.70,285.00 475.80,285.00 475.90,285.00 476.00,285.00 476.10,285.00 476.20,285.00 476.30,285.00 476.40,285.00 476.50,285.00 476.60,285.00 476.70,285.00 476.80,285.00 476.90,285.00 477.00,285.00 477.10,285.00 477.20,285.00 477.30,285.00 477.40,285.00 477.50,285.00 477.60,285.00 477.70,285.00 477.80,285.00 477.90,285.00 478.00,285.00 478.10,285.00 478.20,285.00 478.30,285.00 478.40,285.00 478.50,285.00 478.60,285.00 478.70,285.00 478.80,285.00 478.90,285.00 479.00,285.00" stroke="#000" stroke-width="4.4" stroke-dasharray="11.2 3.8" stroke-dashoffset="3.42"/>
<polyline points="87.20,262.52 87.60,255.22 88.00,261.35 88.40,254.55 88.80,262.94 89.20,255.48 89.60,262.12 90.00,254.91 90.40,261.23 90.80,254.31 91.20,261.47 91.60,253.80 92.00,261.57 92.40,253.87 92.80,262.51 93.20,253.88 93.60,262.65 94.00,254.04 94.40,261.59 94.80,254.09 95.20,262.59 95.60,255.23 96.00,262.23 96.40,254.80 96.80,262.25 97.20,255.27 97.60,261.80 98.00,256.17 98.40,261.51 98.80,254.81 99.20,262.14 99.60,254.43 100.00,262.40 100.40,255.16 100.80,262.87 101.20,253.92 101.60,262.10 102.00,254.96 102.40,263.29 102.80,255.90 103.20,263.28 103.60,255.41 104.00,264.11 104.40,256.20 104.80,264.28 105.20,255.35 105.60,262.40 106.00,256.53 106.40,262.05 106.80,256.37 107.20,263.13 107.60,254.71 108.00,262.57 108.40,254.67 108.80,261.43 109.20,254.45 109.60,262.83 110.00,254.72 110.40,263.84 110.80,255.18 111.20,264.09 111.60,256.03 112.00,262.75 112.40,255.53 112.80,262.17 113.20,256.94 113.60,262.92 114.00,257.18 114.40,262.26 114.80,256.45 115.20,263.96 115.60,256.73 116.00,263.07 116.40,255.71 116.80,264.33 117.20,256.97 117.60,262.71 118.00,255.91 118.40,262.78 118.80,256.00 119.20,262.28 119.60,256.00 120.00,263.93 120.40,255.29 120.80,263.79 121.20,256.93 121.60,264.17 122.00,255.63 122.40,262.80 122.80,254.68 123.20,263.96 123.60,256.46 124.00,264.16 124.40,256.83 124.80,262.58 125.20,255.25 125.60,263.24 126.00,256.02 126.40,263.22 126.80,255.46 127.20,263.94 127.60,255.47 128.00,264.15 128.40,255.48 128.80,262.95 129.20,257.02 129.60,264.29 130.00,256.69 130.40,264.37 130.80,255.93 131.20,264.99 131.60,257.43 132.00,265.24 132.40,256.85 132.80,264.26 133.20,256.49 133.60,264.62 134.00,256.17 134.40,264.42 134.80,257.55 135.20,263.85 135.60,257.88 136.00,264.09 136.40,257.97 136.80,265.29 137.20,257.15 137.60,265.76 138.00,256.42 138.40,265.11 138.80,258.05 139.20,264.06 139.60,257.00 140.00,263.36 140.40,257.41 140.80,265.01 141.20,258.12 141.60,264.15 142.00,257.47 142.40,265.52 142.80,256.89 143.20,264.47 143.60,256.79 144.00,264.49 144.40,257.76 144.80,265.13 145.20,258.51 145.60,265.26 146.00,258.74 146.40,264.71 146.80,258.27 147.20,265.22 147.60,258.70 148.00,265.62 148.40,257.60 148.80,265.13 149.20,259.25 149.60,267.05 150.00,259.22 150.40,266.07 150.80,257.58 151.20,265.42 151.60,258.17 152.00,265.30 152.40,258.92 152.80,265.32 153.20,257.32 153.60,264.67 154.00,258.86 154.40,264.67 154.80,258.27 155.20,265.09 155.60,259.63 156.00,266.31 156.40,258.57 156.80,266.77 157.20,257.63 157.60,267.39 158.00,258.46 158.40,267.83 158.80,259.83 159.20,267.38 159.60,259.93 160.00,267.76 160.40,259.68 160.80,266.65 161.20,259.96 161.60,266.79 162.00,259.92 162.40,266.91 162.80,260.63 163.20,267.74 163.60,259.62 164.00,267.15 164.40,258.55 164.80,266.77 165.20,259.26 165.60,268.36 166.00,259.68 166.40,267.38 166.80,259.69 167.20,267.10 167.60,259.26 168.00,267.80 168.40,261.22 168.80,266.97 169.20,260.95 169.60,267.62 170.00,260.15 170.40,267.70 170.80,260.19 171.20,266.95 171.60,261.05 172.00,267.09 172.40,261.57 172.80,268.24 173.20,261.56 173.60,267.54 174.00,261.75 174.40,268.06 174.80,261.40 175.20,267.18 175.60,260.68 176.00,268.50 176.40,261.63 176.80,267.64 177.20,261.25 177.60,267.95 178.00,261.31 178.40,269.28 178.80,262.07 179.20,268.87 179.60,262.85 180.00,268.40 180.40,261.44 180.80,268.35 181.20,262.06 181.60,268.74 182.00,262.31 182.40,267.75 182.80,262.04 183.20,267.87 183.60,261.66 184.00,269.52 184.40,263.02 184.80,269.08 185.20,262.51 185.60,268.55 186.00,261.47 186.40,268.05 186.80,262.60 187.20,269.80 187.60,261.60 188.00,269.02 188.40,262.87 188.80,269.11 189.20,262.29 189.60,270.04 190.00,262.41 190.40,270.34 190.80,262.69 191.20,270.46 191.60,262.02 192.00,270.48 192.40,261.82 192.80,270.62 193.20,263.27 193.60,269.98 194.00,264.20 194.40,269.23 194.80,263.90 195.20,269.09 195.60,263.71 196.00,269.65 196.40,263.53 196.80,270.56 197.20,265.05 197.60,270.65 198.00,263.75 198.40,270.37 198.80,263.00 199.20,270.38 199.60,262.17 200.00,271.55 200.40,262.59 200.80,271.47 201.20,264.23 201.60,271.88 202.00,263.10 202.40,270.69 202.80,264.14 203.20,270.20 203.60,263.74 204.00,271.29 204.40,264.84 204.80,271.72 205.20,263.40 205.60,271.72 206.00,264.39 206.40,270.57 206.80,265.27 207.20,271.63 207.60,265.27 208.00,271.68 208.40,265.80 208.80,272.27 209.20,264.81 209.60,272.26 210.00,266.26 210.40,271.11 210.80,266.37 211.20,272.30 211.60,266.68 212.00,271.64 212.40,266.83 212.80,271.31 213.20,266.04 213.60,271.19 214.00,266.12 214.40,271.80 214.80,265.11 215.20,272.07 215.60,265.55 216.00,273.05 216.40,265.14 216.80,272.17 217.20,265.38 217.60,271.91 218.00,264.91 218.40,273.86 218.80,266.47 219.20,273.71 219.60,265.47 220.00,274.00 220.40,265.01 220.80,273.70 221.20,266.31 221.60,274.52 222.00,266.31 222.40,272.77 222.80,265.58 223.20,274.19 223.60,264.76 224.00,274.62 224.40,265.55 224.80,273.28 225.20,265.51 225.60,273.41 226.00,267.23 226.40,274.90 226.80,265.73 227.20,273.41 227.60,266.64 228.00,274.19 228.40,266.84 228.80,274.17 229.20,265.91 229.60,274.12 230.00,266.29 230.40,274.13 230.80,265.51 231.20,273.26 231.60,266.38 232.00,273.95 232.40,267.07 232.80,274.31 233.20,266.08 233.60,274.14 234.00,265.99 234.40,275.00 234.80,266.80 235.20,275.38 235.60,266.45 236.00,274.39 236.40,268.06 236.80,275.04 237.20,267.32 237.60,275.41 238.00,267.19 238.40,274.70 238.80,267.62 239.20,275.85 239.60,267.63 240.00,274.12 240.40,266.73 240.80,274.81 241.20,267.91 241.60,274.90 242.00,267.35 242.40,274.68 242.80,269.03 243.20,275.44 243.60,268.64 244.00,275.78 244.40,269.41 244.80,274.59 245.20,267.86 245.60,274.97 246.00,269.14 246.40,276.19 246.80,268.74 247.20,275.03 247.60,268.28 248.00,275.37 248.40,269.57 248.80,275.07 249.20,268.65 249.60,276.16 250.00,267.91 250.40,274.61 250.80,269.01 251.20,274.70 251.60,268.53 252.00,275.29 252.40,268.45 252.80,274.96 253.20,268.55 253.60,275.39 254.00,269.33 254.40,275.02 254.80,269.07 255.20,276.59 255.60,268.82 256.00,276.57 256.40,270.35 256.80,275.71 257.20,270.07 257.60,276.25 258.00,268.68 258.40,276.20 258.80,270.11 259.20,276.16 259.60,269.48 260.00,276.53 260.40,268.36 260.80,276.13 261.20,268.93 261.60,276.98 262.00,268.58 262.40,276.62 262.80,268.81 263.20,277.21 263.60,268.83 264.00,276.81 264.40,269.23 264.80,277.32 265.20,270.51 265.60,276.82 266.00,270.19 266.40,277.64 266.80,270.43 267.20,277.61 267.60,270.76 268.00,276.75 268.40,269.98 268.80,277.13 269.20,269.64 269.60,277.59 270.00,268.78 270.40,276.81 270.80,270.42 271.20,278.06 271.60,269.58 272.00,276.75 272.40,270.81 272.80,277.85 273.20,271.28 273.60,277.70 274.00,271.44 274.40,277.01 274.80,270.40 275.20,277.57 275.60,269.56 276.00,277.90 276.40,270.58 276.80,276.54 277.20,271.24 277.60,277.60 278.00,271.42 278.40,277.98 278.80,271.51 279.20,277.11 279.60,269.95 280.00,277.63 280.40,271.06 280.80,278.36 281.20,271.37 281.60,278.17 282.00,270.77 282.40,277.98 282.80,271.56 283.20,276.64 283.60,270.31 284.00,277.37 284.40,270.74 284.80,279.02 285.20,270.77 285.60,278.54 286.00,270.89 286.40,279.30 286.80,270.48 287.20,279.24 287.60,271.76 288.00,279.72 288.40,271.01 288.80,278.35 289.20,269.97 289.60,278.76 290.00,271.81 290.40,277.57 290.80,272.11 291.20,279.43 291.60,272.35 292.00,278.97 292.40,271.14 292.80,278.70 293.20,272.48 293.60,277.69 294.00,271.25 294.40,279.19 294.80,272.25 295.20,277.30 295.60,271.44 296.00,278.77 296.40,271.53 296.80,277.90 297.20,271.59 297.60,278.70 298.00,271.29 298.40,278.91 298.80,270.99 299.20,278.80 299.60,272.83 300.00,279.09 300.40,272.40 300.80,277.39 301.20,271.81 301.60,277.85 302.00,271.51 302.40,277.78 302.80,272.54 303.20,277.68 303.60,272.08 304.00,277.21 304.40,272.81 304.80,278.00 305.20,272.39 305.60,278.93 306.00,272.82 306.40,278.63 306.80,272.63 307.20,279.79 307.60,272.77 308.00,279.72 308.40,271.90 308.80,279.28 309.20,271.25 309.60,277.63 310.00,270.73 310.40,278.32 310.80,270.60 311.20,277.31 311.60,270.01 312.00,278.53 312.40,271.91 312.80,278.29 313.20,271.95 313.60,278.14 314.00,270.78 314.40,278.51 314.80,271.92 315.20,277.81 315.60,271.56 316.00,278.63 316.40,270.15 316.80,277.77 317.20,271.20 317.60,279.32 318.00,269.99 318.40,279.16 318.80,270.08 319.20,278.65 319.60,270.48 320.00,278.44 320.40,269.89 320.80,278.96 321.20,270.07 321.60,278.24 322.00,271.16 322.40,279.19 322.80,272.03 323.20,278.14 323.60,270.52 324.00,277.64 324.40,270.35 324.80,277.31 325.20,270.25 325.60,277.06 326.00,270.19 326.40,277.39 326.80,271.05 327.20,277.87 327.60,271.88 328.00,278.56 328.40,271.10 328.80,278.37 329.20,272.17 329.60,278.09 330.00,271.69 330.40,277.86 330.80,271.17 331.20,276.62 331.60,271.61 332.00,277.30 332.40,271.56 332.80,277.10 333.20,270.24 333.60,278.73 334.00,270.58 334.40,278.57 334.80,270.01 335.20,277.09 335.60,271.54 336.00,278.19 336.40,270.72 336.80,277.82 337.20,271.62 337.60,279.31 338.00,272.63 338.40,277.78 338.80,271.97 339.20,277.75 339.60,270.63 340.00,278.53 340.40,270.48 340.80,278.95 341.20,270.49 341.60,279.36 342.00,269.33 342.40,278.29 342.80,270.01 343.20,278.06 343.60,270.85 344.00,277.51 344.40,270.48 344.80,277.14 345.20,270.57 345.60,276.48 346.00,271.06 346.40,277.74 346.80,269.81 347.20,276.86 347.60,269.46 348.00,277.40 348.40,270.38 348.80,277.82 349.20,268.78 349.60,276.06 350.00,268.96 350.40,276.64 350.80,270.53 351.20,275.19 351.60,269.36 352.00,276.15 352.40,268.66 352.80,274.15 353.20,269.35 353.60,275.80 354.00,269.05 354.40,275.50 354.80,269.00 355.20,275.95 355.60,267.73 356.00,276.28 356.40,267.67 356.80,273.87 357.20,268.45 357.60,273.47 358.00,267.79 358.40,273.91 358.80,266.75 359.20,272.03 359.60,267.74 360.00,272.46 360.40,266.85 360.80,271.01 361.20,266.60 361.60,271.80 362.00,265.20 362.40,271.20 362.80,264.52 363.20,270.92 363.60,263.96 364.00,271.65 364.40,264.71 364.80,269.86 365.20,264.32 365.60,270.23 366.00,262.54 366.40,268.59 366.80,263.32 367.20,267.92 367.60,261.18 368.00,266.68 368.40,261.97 368.80,265.09 369.20,260.88 369.60,265.67 370.00,258.38 370.40,264.32 370.80,257.94 371.20,263.36 371.60,256.03 372.00,262.60 372.40,254.61 372.80,259.35 373.20,254.73 373.60,258.55 374.00,252.60 374.40,257.13 374.80,249.86 375.20,255.57 375.60,247.81 376.00,254.94 376.40,246.75 376.80,254.06 377.20,246.65 377.60,254.20 378.00,247.88 378.40,255.69 378.80,249.62 379.20,257.61 379.60,252.28 380.00,261.40 380.40,256.83 380.80,265.46 381.20,262.82 381.60,270.90 382.00,267.87 382.40,278.32 382.80,277.40 383.20,288.30 383.60,286.59 384.00,298.85 384.40,297.23 384.80,308.37 385.20,307.57 385.60,316.19 386.00,308.79 386.40,315.23 386.80,307.65 387.20,313.64 387.60,306.17 388.00,312.44 388.40,306.25 388.80,311.53 389.20,304.30 389.60,310.55 390.00,302.88 390.40,308.55 390.80,303.36 391.20,308.68 391.60,302.48 392.00,307.16 392.40,300.74 392.80,306.47 393.20,301.28 393.60,307.23 394.00,299.70 394.40,305.59 394.80,299.67 395.20,305.55 395.60,298.76 396.00,304.90 396.40,298.55 396.80,304.07 397.20,298.49 397.60,303.87 398.00,297.49 398.40,304.94 398.80,298.73 399.20,302.97 399.60,298.25 400.00,302.77 400.40,297.95 400.80,303.17 401.20,296.95 401.60,303.45 402.00,296.68 402.40,303.81 402.80,296.18 403.20,303.45 403.60,295.01 404.00,303.88 404.40,295.51 404.80,302.99 405.20,296.92 405.60,302.61 406.00,296.99 406.40,302.25 406.80,295.72 407.20,302.51 407.60,296.18 408.00,301.17 408.40,294.13 408.80,302.75 409.20,295.58 409.60,300.68 410.00,294.77 410.40,300.40 410.80,294.58 411.20,299.76 411.60,293.52 412.00,300.18 412.40,294.02 412.80,300.15 413.20,293.73 413.60,299.89 414.00,293.31 414.40,298.65 414.80,292.35 415.20,298.14 415.60,292.96 416.00,298.47 416.40,292.14 416.80,299.65 417.20,293.94 417.60,297.83 418.00,293.69 418.40,297.70 418.80,292.50 419.20,297.57 419.60,293.97 420.00,298.09 420.40,292.56 420.80,297.99 421.20,291.68 421.60,298.12 422.00,292.38 422.40,298.58 422.80,291.65 423.20,299.86 423.60,291.65 424.00,298.23 424.40,291.68 424.80,299.27 425.20,291.70 425.60,297.90 426.00,292.33 426.40,297.00 426.80,292.72 427.20,296.93 427.60,292.62 428.00,298.08 428.40,291.10 428.80,297.18 429.20,291.59 429.60,297.96 430.00,291.97 430.40,297.69 430.80,292.03 431.20,298.59 431.60,292.13 432.00,297.82 432.40,293.00 432.80,298.36 433.20,292.39 433.60,299.23 434.00,293.45 434.40,298.02 434.80,293.18 435.20,297.56 435.60,292.77 436.00,299.24 436.40,292.81 436.80,299.06 437.20,292.46 437.60,298.42 438.00,292.12 438.40,297.08 438.80,292.18 439.20,297.68 439.60,292.05 440.00,296.83 440.40,292.10 440.80,297.49 441.20,292.48 441.60,297.67 442.00,291.07 442.40,298.19 442.80,292.36 443.20,298.06 443.60,292.07 444.00,298.04 444.40,291.73 444.80,298.64 445.20,291.58 445.60,297.47 446.00,292.17 446.40,298.14 446.80,293.20 447.20,298.13 447.60,292.76 448.00,298.18 448.40,292.98 448.80,299.75 449.20,291.90 449.60,298.16 450.00,292.13 450.40,298.25 450.80,291.79 451.20,299.85 451.60,293.50 452.00,298.97 452.40,293.01 452.80,297.64 453.20,291.93 453.60,297.18 454.00,291.78 454.40,298.23 454.80,291.13 455.20,297.74 455.60,291.79 456.00,297.22 456.40,291.15 456.80,299.11 457.20,291.47 457.60,298.35 458.00,292.78 458.40,298.97 458.80,292.49 459.20,298.95 459.60,291.69 460.00,299.85 460.40,294.14 460.80,299.80 461.20,294.53 461.60,299.44 462.00,292.62 462.40,300.25 462.80,292.15 463.20,299.43 463.60,292.23 464.00,299.05 464.40,292.38 464.80,298.88 465.20,291.27 465.60,299.18 466.00,293.24 466.40,299.71 466.80,293.08 467.20,298.87 467.60,293.32 468.00,299.26 468.40,292.87 468.80,299.13 469.20,294.16 469.60,299.74 470.00,292.72 470.40,300.54 470.80,294.04 471.20,300.20 471.60,292.25 472.00,299.85 472.40,293.63 472.80,299.68 473.20,292.76 473.60,299.79 474.00,293.50 474.40,300.29 474.80,294.97 475.20,299.37 475.60,292.96 476.00,298.49 476.40,294.30 476.80,298.59 477.20,293.05 477.60,299.79 478.00,294.00 478.40,298.95 478.80,295.11" stroke="#ff00ff" stroke-width="4.2"/>
</g><g fill="none" stroke-linejoin="round" stroke-linecap="butt" clip-path="url(#cb)">
<polyline points="585.30,325.07 585.40,325.07 585.50,325.07 585.60,325.07 585.70,325.07 585.80,325.07 585.90,325.07 586.00,325.07 586.10,325.07 586.20,325.07 586.30,325.07 586.40,325.07 586.50,325.07 586.60,325.07 586.70,325.07 586.80,325.07 586.90,325.07 587.00,325.07 587.10,325.07 587.20,325.07 587.30,325.07 587.40,325.07 587.50,325.07 587.60,325.07 587.70,325.07 587.80,325.07 587.90,325.07 588.00,325.07 588.10,325.07 588.20,325.07 588.30,325.07 588.40,325.07 588.50,325.07 588.60,325.07 588.70,325.07 588.80,325.07 588.90,325.07 589.00,325.07 589.10,325.07 589.20,325.07 589.30,325.07 589.40,325.07 589.50,325.07 589.60,325.07 589.70,325.07 589.80,325.07 589.90,325.07 590.00,325.07 590.10,325.07 590.20,325.07 590.30,325.07 590.40,325.07 590.50,325.07 590.60,325.07 590.70,325.07 590.80,325.07 590.90,325.07 591.00,325.07 591.10,325.07 591.20,325.07 591.30,325.07 591.40,325.07 591.50,325.07 591.60,325.07 591.70,325.07 591.80,325.07 591.90,325.07 592.00,325.07 592.10,325.07 592.20,325.07 592.30,325.07 592.40,325.07 592.50,325.07 592.60,325.07 592.70,325.06 592.80,325.06 592.90,325.06 593.00,325.06 593.10,325.06 593.20,325.06 593.30,325.06 593.40,325.06 593.50,325.06 593.60,325.06 593.70,325.06 593.80,325.06 593.90,325.06 594.00,325.06 594.10,325.06 594.20,325.06 594.30,325.06 594.40,325.06 594.50,325.06 594.60,325.06 594.70,325.06 594.80,325.06 594.90,325.06 595.00,325.06 595.10,325.06 595.20,325.06 595.30,325.06 595.40,325.06 595.50,325.06 595.60,325.06 595.70,325.06 595.80,325.06 595.90,325.06 596.00,325.06 596.10,325.06 596.20,325.06 596.30,325.06 596.40,325.06 596.50,325.06 596.60,325.06 596.70,325.06 596.80,325.06 596.90,325.06 597.00,325.06 597.10,325.06 597.20,325.06 597.30,325.06 597.40,325.06 597.50,325.06 597.60,325.06 597.70,325.06 597.80,325.06 597.90,325.06 598.00,325.06 598.10,325.06 598.20,325.06 598.30,325.06 598.40,325.06 598.50,325.06 598.60,325.06 598.70,325.06 598.80,325.06 598.90,325.06 599.00,325.06 599.10,325.06 599.20,325.06 599.30,325.06 599.40,325.06 599.50,325.06 599.60,325.06 599.70,325.06 599.80,325.06 599.90,325.06 600.00,325.06 600.10,325.06 600.20,325.06 600.30,325.06 600.40,325.06 600.50,325.06 600.60,325.06 600.70,325.06 600.80,325.06 600.90,325.06 601.00,325.06 601.10,325.06 601.20,325.06 601.30,325.06 601.40,325.06 601.50,325.06 601.60,325.06 601.70,325.06 601.80,325.06 601.90,325.06 602.00,325.06 602.10,325.06 602.20,325.06 602.30,325.06 602.40,325.06 602.50,325.06 602.60,325.06 602.70,325.06 602.80,325.06 602.90,325.06 603.00,325.06 603.10,325.06 603.20,325.06 603.30,325.06 603.40,325.06 603.50,325.06 603.60,325.06 603.70,325.06 603.80,325.06 603.90,325.06 604.00,325.05 604.10,325.05 604.20,325.05 604.30,325.05 604.40,325.05 604.50,325.05 604.60,325.05 604.70,325.05 604.80,325.05 604.90,325.05 605.00,325.05 605.10,325.05 605.20,325.05 605.30,325.05 605.40,325.05 605.50,325.05 605.60,325.05 605.70,325.05 605.80,325.05 605.90,325.05 606.00,325.05 606.10,325.05 606.20,325.05 606.30,325.05 606.40,325.05 606.50,325.05 606.60,325.05 606.70,325.05 606.80,325.05 606.90,325.05 607.00,325.05 607.10,325.05 607.20,325.05 607.30,325.05 607.40,325.05 607.50,325.05 607.60,325.05 607.70,325.05 607.80,325.05 607.90,325.05 608.00,325.05 608.10,325.05 608.20,325.05 608.30,325.05 608.40,325.05 608.50,325.05 608.60,325.05 608.70,325.05 608.80,325.05 608.90,325.05 609.00,325.05 609.10,325.05 609.20,325.05 609.30,325.05 609.40,325.05 609.50,325.05 609.60,325.05 609.70,325.05 609.80,325.05 609.90,325.05 610.00,325.05 610.10,325.05 610.20,325.05 610.30,325.05 610.40,325.05 610.50,325.05 610.60,325.05 610.70,325.05 610.80,325.05 610.90,325.05 611.00,325.05 611.10,325.05 611.20,325.05 611.30,325.05 611.40,325.05 611.50,325.05 611.60,325.05 611.70,325.05 611.80,325.05 611.90,325.05 612.00,325.05 612.10,325.05 612.20,325.05 612.30,325.05 612.40,325.05 612.50,325.05 612.60,325.05 612.70,325.05 612.80,325.05 612.90,325.05 613.00,325.05 613.10,325.05 613.20,325.05 613.30,325.05 613.40,325.05 613.50,325.05 613.60,325.05 613.70,325.05 613.80,325.05 613.90,325.05 614.00,325.05 614.10,325.04 614.20,325.04 614.30,325.04 614.40,325.04 614.50,325.04 614.60,325.04 614.70,325.04 614.80,325.04 614.90,325.04 615.00,325.04 615.10,325.04 615.20,325.04 615.30,325.04 615.40,325.04 615.50,325.04 615.60,325.04 615.70,325.04 615.80,325.04 615.90,325.04 616.00,325.04 616.10,325.04 616.20,325.04 616.30,325.04 616.40,325.04 616.50,325.04 616.60,325.04 616.70,325.04 616.80,325.04 616.90,325.04 617.00,325.04 617.10,325.04 617.20,325.04 617.30,325.04 617.40,325.04 617.50,325.04 617.60,325.04 617.70,325.04 617.80,325.04 617.90,325.04 618.00,325.04 618.10,325.04 618.20,325.04 618.30,325.04 618.40,325.04 618.50,325.04 618.60,325.04 618.70,325.04 618.80,325.04 618.90,325.04 619.00,325.04 619.10,325.04 619.20,325.04 619.30,325.04 619.40,325.04 619.50,325.04 619.60,325.04 619.70,325.04 619.80,325.04 619.90,325.04 620.00,325.04 620.10,325.04 620.20,325.04 620.30,325.04 620.40,325.04 620.50,325.04 620.60,325.04 620.70,325.04 620.80,325.04 620.90,325.04 621.00,325.04 621.10,325.04 621.20,325.04 621.30,325.04 621.40,325.04 621.50,325.04 621.60,325.04 621.70,325.04 621.80,325.04 621.90,325.04 622.00,325.04 622.10,325.04 622.20,325.04 622.30,325.04 622.40,325.04 622.50,325.04 622.60,325.04 622.70,325.04 622.80,325.04 622.90,325.04 623.00,325.04 623.10,325.04 623.20,325.04 623.30,325.03 623.40,325.03 623.50,325.03 623.60,325.03 623.70,325.03 623.80,325.03 623.90,325.03 624.00,325.03 624.10,325.03 624.20,325.03 624.30,325.03 624.40,325.03 624.50,325.03 624.60,325.03 624.70,325.03 624.80,325.03 624.90,325.03 625.00,325.03 625.10,325.03 625.20,325.03 625.30,325.03 625.40,325.03 625.50,325.03 625.60,325.03 625.70,325.03 625.80,325.03 625.90,325.03 626.00,325.03 626.10,325.03 626.20,325.03 626.30,325.03 626.40,325.03 626.50,325.03 626.60,325.03 626.70,325.03 626.80,325.03 626.90,325.03 627.00,325.03 627.10,325.03 627.20,325.03 627.30,325.03 627.40,325.03 627.50,325.03 627.60,325.03 627.70,325.03 627.80,325.03 627.90,325.03 628.00,325.03 628.10,325.03 628.20,325.03 628.30,325.03 628.40,325.03 628.50,325.03 628.60,325.03 628.70,325.03 628.80,325.03 628.90,325.03 629.00,325.03 629.10,325.03 629.20,325.03 629.30,325.03 629.40,325.03 629.50,325.03 629.60,325.03 629.70,325.03 629.80,325.03 629.90,325.03 630.00,325.03 630.10,325.03 630.20,325.03 630.30,325.03 630.40,325.03 630.50,325.03 630.60,325.03 630.70,325.03 630.80,325.03 630.90,325.03 631.00,325.03 631.10,325.03 631.20,325.03 631.30,325.03 631.40,325.03 631.50,325.02 631.60,325.02 631.70,325.02 631.80,325.02 631.90,325.02 632.00,325.02 632.10,325.02 632.20,325.02 632.30,325.02 632.40,325.02 632.50,325.02 632.60,325.02 632.70,325.02 632.80,325.02 632.90,325.02 633.00,325.02 633.10,325.02 633.20,325.02 633.30,325.02 633.40,325.02 633.50,325.02 633.60,325.02 633.70,325.02 633.80,325.02 633.90,325.02 634.00,325.02 634.10,325.02 634.20,325.02 634.30,325.02 634.40,325.02 634.50,325.02 634.60,325.02 634.70,325.02 634.80,325.02 634.90,325.02 635.00,325.02 635.10,325.02 635.20,325.02 635.30,325.02 635.40,325.02 635.50,325.02 635.60,325.02 635.70,325.02 635.80,325.02 635.90,325.02 636.00,325.02 636.10,325.02 636.20,325.02 636.30,325.02 636.40,325.02 636.50,325.02 636.60,325.02 636.70,325.02 636.80,325.02 636.90,325.02 637.00,325.02 637.10,325.02 637.20,325.02 637.30,325.02 637.40,325.02 637.50,325.02 637.60,325.02 637.70,325.02 637.80,325.02 637.90,325.02 638.00,325.02 638.10,325.02 638.20,325.02 638.30,325.02 638.40,325.02 638.50,325.02 638.60,325.02 638.70,325.02 638.80,325.02 638.90,325.02 639.00,325.02 639.10,325.01 639.20,325.01 639.30,325.01 639.40,325.01 639.50,325.01 639.60,325.01 639.70,325.01 639.80,325.01 639.90,325.01 640.00,325.01 640.10,325.01 640.20,325.01 640.30,325.01 640.40,325.01 640.50,325.01 640.60,325.01 640.70,325.01 640.80,325.01 640.90,325.01 641.00,325.01 641.10,325.01 641.20,325.01 641.30,325.01 641.40,325.01 641.50,325.01 641.60,325.01 641.70,325.01 641.80,325.01 641.90,325.01 642.00,325.01 642.10,325.01 642.20,325.01 642.30,325.01 642.40,325.01 642.50,325.01 642.60,325.01 642.70,325.01 642.80,325.01 642.90,325.01 643.00,325.01 643.10,325.01 643.20,325.01 643.30,325.01 643.40,325.01 643.50,325.01 643.60,325.01 643.70,325.01 643.80,325.01 643.90,325.01 644.00,325.01 644.10,325.01 644.20,325.01 644.30,325.01 644.40,325.01 644.50,325.01 644.60,325.01 644.70,325.01 644.80,325.01 644.90,325.01 645.00,325.01 645.10,325.01 645.20,325.01 645.30,325.01 645.40,325.01 645.50,325.01 645.60,325.01 645.70,325.01 645.80,325.01 645.90,325.01 646.00,325.01 646.10,325.00 646.20,325.00 646.30,325.00 646.40,325.00 646.50,325.00 646.60,325.00 646.70,325.00 646.80,325.00 646.90,325.00 647.00,325.00 647.10,325.00 647.20,325.00 647.30,325.00 647.40,325.00 647.50,325.00 647.60,325.00 647.70,325.00 647.80,325.00 647.90,325.00 648.00,325.00 648.10,325.00 648.20,325.00 648.30,325.00 648.40,325.00 648.50,325.00 648.60,325.00 648.70,325.00 648.80,325.00 648.90,325.00 649.00,325.00 649.10,325.00 649.20,325.00 649.30,325.00 649.40,325.00 649.50,325.00 649.60,325.00 649.70,325.00 649.80,325.00 649.90,325.00 650.00,325.00 650.10,325.00 650.20,325.00 650.30,325.00 650.40,325.00 650.50,325.00 650.60,325.00 650.70,325.00 650.80,325.00 650.90,325.00 651.00,325.00 651.10,325.00 651.20,325.00 651.30,325.00 651.40,325.00 651.50,325.00 651.60,325.00 651.70,325.00 651.80,325.00 651.90,325.00 652.00,325.00 652.10,325.00 652.20,325.00 652.30,325.00 652.40,325.00 652.50,324.99 652.60,324.99 652.70,324.99 652.80,324.99 652.90,324.99 653.00,324.99 653.10,324.99 653.20,324.99 653.30,324.99 653.40,324.99 653.50,324.99 653.60,324.99 653.70,324.99 653.80,324.99 653.90,324.99 654.00,324.99 654.10,324.99 654.20,324.99 654.30,324.99 654.40,324.99 654.50,324.99 654.60,324.99 654.70,324.99 654.80,324.99 654.90,324.99 655.00,324.99 655.10,324.99 655.20,324.99 655.30,324.99 655.40,324.99 655.50,324.99 655.60,324.99 655.70,324.99 655.80,324.99 655.90,324.99 656.00,324.99 656.10,324.99 656.20,324.99 656.30,324.99 656.40,324.99 656.50,324.99 656.60,324.99 656.70,324.99 656.80,324.99 656.90,324.99 657.00,324.99 657.10,324.99 657.20,324.99 657.30,324.99 657.40,324.99 657.50,324.99 657.60,324.99 657.70,324.99 657.80,324.99 657.90,324.99 658.00,324.99 658.10,324.99 658.20,324.99 658.30,324.99 658.40,324.98 658.50,324.98 658.60,324.98 658.70,324.98 658.80,324.98 658.90,324.98 659.00,324.98 659.10,324.98 659.20,324.98 659.30,324.98 659.40,324.98 659.50,324.98 659.60,324.98 659.70,324.98 659.80,324.98 659.90,324.98 660.00,324.98 660.10,324.98 660.20,324.98 660.30,324.98 660.40,324.98 660.50,324.98 660.60,324.98 660.70,324.98 660.80,324.98 660.90,324.98 661.00,324.98 661.10,324.98 661.20,324.98 661.30,324.98 661.40,324.98 661.50,324.98 661.60,324.98 661.70,324.98 661.80,324.98 661.90,324.98 662.00,324.98 662.10,324.98 662.20,324.98 662.30,324.98 662.40,324.98 662.50,324.98 662.60,324.98 662.70,324.98 662.80,324.98 662.90,324.98 663.00,324.98 663.10,324.98 663.20,324.98 663.30,324.98 663.40,324.98 663.50,324.98 663.60,324.98 663.70,324.98 663.80,324.98 663.90,324.98 664.00,324.97 664.10,324.97 664.20,324.97 664.30,324.97 664.40,324.97 664.50,324.97 664.60,324.97 664.70,324.97 664.80,324.97 664.90,324.97 665.00,324.97 665.10,324.97 665.20,324.97 665.30,324.97 665.40,324.97 665.50,324.97 665.60,324.97 665.70,324.97 665.80,324.97 665.90,324.97 666.00,324.97 666.10,324.97 666.20,324.97 666.30,324.97 666.40,324.97 666.50,324.97 666.60,324.97 666.70,324.97 666.80,324.97 666.90,324.97 667.00,324.97 667.10,324.97 667.20,324.97 667.30,324.97 667.40,324.97 667.50,324.97 667.60,324.97 667.70,324.97 667.80,324.97 667.90,324.97 668.00,324.97 668.10,324.97 668.20,324.97 668.30,324.97 668.40,324.97 668.50,324.97 668.60,324.97 668.70,324.97 668.80,324.97 668.90,324.97 669.00,324.97 669.10,324.96 669.20,324.96 669.30,324.96 669.40,324.96 669.50,324.96 669.60,324.96 669.70,324.96 669.80,324.96 669.90,324.96 670.00,324.96 670.10,324.96 670.20,324.96 670.30,324.96 670.40,324.96 670.50,324.96 670.60,324.96 670.70,324.96 670.80,324.96 670.90,324.96 671.00,324.96 671.10,324.96 671.20,324.96 671.30,324.96 671.40,324.96 671.50,324.96 671.60,324.96 671.70,324.96 671.80,324.96 671.90,324.96 672.00,324.96 672.10,324.96 672.20,324.96 672.30,324.96 672.40,324.96 672.50,324.96 672.60,324.96 672.70,324.96 672.80,324.96 672.90,324.96 673.00,324.96 673.10,324.96 673.20,324.96 673.30,324.96 673.40,324.96 673.50,324.96 673.60,324.96 673.70,324.96 673.80,324.96 673.90,324.95 674.00,324.95 674.10,324.95 674.20,324.95 674.30,324.95 674.40,324.95 674.50,324.95 674.60,324.95 674.70,324.95 674.80,324.95 674.90,324.95 675.00,324.95 675.10,324.95 675.20,324.95 675.30,324.95 675.40,324.95 675.50,324.95 675.60,324.95 675.70,324.95 675.80,324.95 675.90,324.95 676.00,324.95 676.10,324.95 676.20,324.95 676.30,324.95 676.40,324.95 676.50,324.95 676.60,324.95 676.70,324.95 676.80,324.95 676.90,324.95 677.00,324.95 677.10,324.95 677.20,324.95 677.30,324.95 677.40,324.95 677.50,324.95 677.60,324.95 677.70,324.95 677.80,324.95 677.90,324.95 678.00,324.95 678.10,324.95 678.20,324.95 678.30,324.95 678.40,324.94 678.50,324.94 678.60,324.94 678.70,324.94 678.80,324.94 678.90,324.94 679.00,324.94 679.10,324.94 679.20,324.94 679.30,324.94 679.40,324.94 679.50,324.94 679.60,324.94 679.70,324.94 679.80,324.94 679.90,324.94 680.00,324.94 680.10,324.94 680.20,324.94 680.30,324.94 680.40,324.94 680.50,324.94 680.60,324.94 680.70,324.94 680.80,324.94 680.90,324.94 681.00,324.94 681.10,324.94 681.20,324.94 681.30,324.94 681.40,324.94 681.50,324.94 681.60,324.94 681.70,324.94 681.80,324.94 681.90,324.94 682.00,324.94 682.10,324.94 682.20,324.94 682.30,324.94 682.40,324.94 682.50,324.94 682.60,324.94 682.70,324.93 682.80,324.93 682.90,324.93 683.00,324.93 683.10,324.93 683.20,324.93 683.30,324.93 683.40,324.93 683.50,324.93 683.60,324.93 683.70,324.93 683.80,324.93 683.90,324.93 684.00,324.93 684.10,324.93 684.20,324.93 684.30,324.93 684.40,324.93 684.50,324.93 684.60,324.93 684.70,324.93 684.80,324.93 684.90,324.93 685.00,324.93 685.10,324.93 685.20,324.93 685.30,324.93 685.40,324.93 685.50,324.93 685.60,324.93 685.70,324.93 685.80,324.93 685.90,324.93 686.00,324.93 686.10,324.93 686.20,324.93 686.30,324.93 686.40,324.93 686.50,324.93 686.60,324.93 686.70,324.92 686.80,324.92 686.90,324.92 687.00,324.92 687.10,324.92 687.20,324.92 687.30,324.92 687.40,324.92 687.50,324.92 687.60,324.92 687.70,324.92 687.80,324.92 687.90,324.92 688.00,324.92 688.10,324.92 688.20,324.92 688.30,324.92 688.40,324.92 688.50,324.92 688.60,324.92 688.70,324.92 688.80,324.92 688.90,324.92 689.00,324.92 689.10,324.92 689.20,324.92 689.30,324.92 689.40,324.92 689.50,324.92 689.60,324.92 689.70,324.92 689.80,324.92 689.90,324.92 690.00,324.92 690.10,324.92 690.20,324.92 690.30,324.92 690.40,324.92 690.50,324.91 690.60,324.91 690.70,324.91 690.80,324.91 690.90,324.91 691.00,324.91 691.10,324.91 691.20,324.91 691.30,324.91 691.40,324.91 691.50,324.91 691.60,324.91 691.70,324.91 691.80,324.91 691.90,324.91 692.00,324.91 692.10,324.91 692.20,324.91 692.30,324.91 692.40,324.91 692.50,324.91 692.60,324.91 692.70,324.91 692.80,324.91 692.90,324.91 693.00,324.91 693.10,324.91 693.20,324.91 693.30,324.91 693.40,324.91 693.50,324.91 693.60,324.91 693.70,324.91 693.80,324.91 693.90,324.91 694.00,324.91 694.10,324.90 694.20,324.90 694.30,324.90 694.40,324.90 694.50,324.90 694.60,324.90 694.70,324.90 694.80,324.90 694.90,324.90 695.00,324.90 695.10,324.90 695.20,324.90 695.30,324.90 695.40,324.90 695.50,324.90 695.60,324.90 695.70,324.90 695.80,324.90 695.90,324.90 696.00,324.90 696.10,324.90 696.20,324.90 696.30,324.90 696.40,324.90 696.50,324.90 696.60,324.90 696.70,324.90 696.80,324.90 696.90,324.90 697.00,324.90 697.10,324.90 697.20,324.90 697.30,324.90 697.40,324.90 697.50,324.89 697.60,324.89 697.70,324.89 697.80,324.89 697.90,324.89 698.00,324.89 698.10,324.89 698.20,324.89 698.30,324.89 698.40,324.89 698.50,324.89 698.60,324.89 698.70,324.89 698.80,324.89 698.90,324.89 699.00,324.89 699.10,324.89 699.20,324.89 699.30,324.89 699.40,324.89 699.50,324.89 699.60,324.89 699.70,324.89 699.80,324.89 699.90,324.89 700.00,324.89 700.10,324.89 700.20,324.89 700.30,324.89 700.40,324.89 700.50,324.89 700.60,324.89 700.70,324.88 700.80,324.88 700.90,324.88 701.00,324.88 701.10,324.88 701.20,324.88 701.30,324.88 701.40,324.88 701.50,324.88 701.60,324.88 701.70,324.88 701.80,324.88 701.90,324.88 702.00,324.88 702.10,324.88 702.20,324.88 702.30,324.88 702.40,324.88 702.50,324.88 702.60,324.88 702.70,324.88 702.80,324.88 702.90,324.88 703.00,324.88 703.10,324.88 703.20,324.88 703.30,324.88 703.40,324.88 703.50,324.88 703.60,324.88 703.70,324.88 703.80,324.87 703.90,324.87 704.00,324.87 704.10,324.87 704.20,324.87 704.30,324.87 704.40,324.87 704.50,324.87 704.60,324.87 704.70,324.87 704.80,324.87 704.90,324.87 705.00,324.87 705.10,324.87 705.20,324.87 705.30,324.87 705.40,324.87 705.50,324.87 705.60,324.87 705.70,324.87 705.80,324.87 705.90,324.87 706.00,324.87 706.10,324.87 706.20,324.87 706.30,324.87 706.40,324.87 706.50,324.87 706.60,324.87 706.70,324.87 706.80,324.86 706.90,324.86 707.00,324.86 707.10,324.86 707.20,324.86 707.30,324.86 707.40,324.86 707.50,324.86 707.60,324.86 707.70,324.86 707.80,324.86 707.90,324.86 708.00,324.86 708.10,324.86 708.20,324.86 708.30,324.86 708.40,324.86 708.50,324.86 708.60,324.86 708.70,324.86 708.80,324.86 708.90,324.86 709.00,324.86 709.10,324.86 709.20,324.86 709.30,324.86 709.40,324.86 709.50,324.86 709.60,324.85 709.70,324.85 709.80,324.85 709.90,324.85 710.00,324.85 710.10,324.85 710.20,324.85 710.30,324.85 710.40,324.85 710.50,324.85 710.60,324.85 710.70,324.85 710.80,324.85 710.90,324.85 711.00,324.85 711.10,324.85 711.20,324.85 711.30,324.85 711.40,324.85 711.50,324.85 711.60,324.85 711.70,324.85 711.80,324.85 711.90,324.85 712.00,324.85 712.10,324.85 712.20,324.84 712.30,324.84 712.40,324.84 712.50,324.84 712.60,324.84 712.70,324.84 712.80,324.84 712.90,324.84 713.00,324.84 713.10,324.84 713.20,324.84 713.30,324.84 713.40,324.84 713.50,324.84 713.60,324.84 713.70,324.84 713.80,324.84 713.90,324.84 714.00,324.84 714.10,324.84 714.20,324.84 714.30,324.84 714.40,324.84 714.50,324.84 714.60,324.84 714.70,324.84 714.80,324.83 714.90,324.83 715.00,324.83 715.10,324.83 715.20,324.83 715.30,324.83 715.40,324.83 715.50,324.83 715.60,324.83 715.70,324.83 715.80,324.83 715.90,324.83 716.00,324.83 716.10,324.83 716.20,324.83 716.30,324.83 716.40,324.83 716.50,324.83 716.60,324.83 716.70,324.83 716.80,324.83 716.90,324.83 717.00,324.83 717.10,324.83 717.20,324.83 717.30,324.82 717.40,324.82 717.50,324.82 717.60,324.82 717.70,324.82 717.80,324.82 717.90,324.82 718.00,324.82 718.10,324.82 718.20,324.82 718.30,324.82 718.40,324.82 718.50,324.82 718.60,324.82 718.70,324.82 718.80,324.82 718.90,324.82 719.00,324.82 719.10,324.82 719.20,324.82 719.30,324.82 719.40,324.82 719.50,324.82 719.60,324.82 719.70,324.81 719.80,324.81 719.90,324.81 720.00,324.81 720.10,324.81 720.20,324.81 720.30,324.81 720.40,324.81 720.50,324.81 720.60,324.81 720.70,324.81 720.80,324.81 720.90,324.81 721.00,324.81 721.10,324.81 721.20,324.81 721.30,324.81 721.40,324.81 721.50,324.81 721.60,324.81 721.70,324.81 721.80,324.81 721.90,324.80 722.00,324.80 722.10,324.80 722.20,324.80 722.30,324.80 722.40,324.80 722.50,324.80 722.60,324.80 722.70,324.80 722.80,324.80 722.90,324.80 723.00,324.80 723.10,324.80 723.20,324.80 723.30,324.80 723.40,324.80 723.50,324.80 723.60,324.80 723.70,324.80 723.80,324.80 723.90,324.80 724.00,324.80 724.10,324.79 724.20,324.79 724.30,324.79 724.40,324.79 724.50,324.79 724.60,324.79 724.70,324.79 724.80,324.79 724.90,324.79 725.00,324.79 725.10,324.79 725.20,324.79 725.30,324.79 725.40,324.79 725.50,324.79 725.60,324.79 725.70,324.79 725.80,324.79 725.90,324.79 726.00,324.79 726.10,324.79 726.20,324.78 726.30,324.78 726.40,324.78 726.50,324.78 726.60,324.78 726.70,324.78 726.80,324.78 726.90,324.78 727.00,324.78 727.10,324.78 727.20,324.78 727.30,324.78 727.40,324.78 727.50,324.78 727.60,324.78 727.70,324.78 727.80,324.78 727.90,324.78 728.00,324.78 728.10,324.78 728.20,324.77 728.30,324.77 728.40,324.77 728.50,324.77 728.60,324.77 728.70,324.77 728.80,324.77 728.90,324.77 729.00,324.77 729.10,324.77 729.20,324.77 729.30,324.77 729.40,324.77 729.50,324.77 729.60,324.77 729.70,324.77 729.80,324.77 729.90,324.77 730.00,324.77 730.10,324.77 730.20,324.76 730.30,324.76 730.40,324.76 730.50,324.76 730.60,324.76 730.70,324.76 730.80,324.76 730.90,324.76 731.00,324.76 731.10,324.76 731.20,324.76 731.30,324.76 731.40,324.76 731.50,324.76 731.60,324.76 731.70,324.76 731.80,324.76 731.90,324.76 732.00,324.76 732.10,324.75 732.20,324.75 732.30,324.75 732.40,324.75 732.50,324.75 732.60,324.75 732.70,324.75 732.80,324.75 732.90,324.75 733.00,324.75 733.10,324.75 733.20,324.75 733.30,324.75 733.40,324.75 733.50,324.75 733.60,324.75 733.70,324.75 733.80,324.75 733.90,324.74 734.00,324.74 734.10,324.74 734.20,324.74 734.30,324.74 734.40,324.74 734.50,324.74 734.60,324.74 734.70,324.74 734.80,324.74 734.90,324.74 735.00,324.74 735.10,324.74 735.20,324.74 735.30,324.74 735.40,324.74 735.50,324.74 735.60,324.74 735.70,324.73 735.80,324.73 735.90,324.73 736.00,324.73 736.10,324.73 736.20,324.73 736.30,324.73 736.40,324.73 736.50,324.73 736.60,324.73 736.70,324.73 736.80,324.73 736.90,324.73 737.00,324.73 737.10,324.73 737.20,324.73 737.30,324.73 737.40,324.72 737.50,324.72 737.60,324.72 737.70,324.72 737.80,324.72 737.90,324.72 738.00,324.72 738.10,324.72 738.20,324.72 738.30,324.72 738.40,324.72 738.50,324.72 738.60,324.72 738.70,324.72 738.80,324.72 738.90,324.72 739.00,324.72 739.10,324.71 739.20,324.71 739.30,324.71 739.40,324.71 739.50,324.71 739.60,324.71 739.70,324.71 739.80,324.71 739.90,324.71 740.00,324.71 740.10,324.71 740.20,324.71 740.30,324.71 740.40,324.71 740.50,324.71 740.60,324.71 740.70,324.70 740.80,324.70 740.90,324.70 741.00,324.70 741.10,324.70 741.20,324.70 741.30,324.70 741.40,324.70 741.50,324.70 741.60,324.70 741.70,324.70 741.80,324.70 741.90,324.70 742.00,324.70 742.10,324.70 742.20,324.69 742.30,324.69 742.40,324.69 742.50,324.69 742.60,324.69 742.70,324.69 742.80,324.69 742.90,324.69 743.00,324.69 743.10,324.69 743.20,324.69 743.30,324.69 743.40,324.69 743.50,324.69 743.60,324.69 743.70,324.68 743.80,324.68 743.90,324.68 744.00,324.68 744.10,324.68 744.20,324.68 744.30,324.68 744.40,324.68 744.50,324.68 744.60,324.68 744.70,324.68 744.80,324.68 744.90,324.68 745.00,324.68 745.10,324.68 745.20,324.67 745.30,324.67 745.40,324.67 745.50,324.67 745.60,324.67 745.70,324.67 745.80,324.67 745.90,324.67 746.00,324.67 746.10,324.67 746.20,324.67 746.30,324.67 746.40,324.67 746.50,324.67 746.60,324.66 746.70,324.66 746.80,324.66 746.90,324.66 747.00,324.66 747.10,324.66 747.20,324.66 747.30,324.66 747.40,324.66 747.50,324.66 747.60,324.66 747.70,324.66 747.80,324.66 747.90,324.66 748.00,324.65 748.10,324.65 748.20,324.65 748.30,324.65 748.40,324.65 748.50,324.65 748.60,324.65 748.70,324.65 748.80,324.65 748.90,324.65 749.00,324.65 749.10,324.65 749.20,324.65 749.30,324.64 749.40,324.64 749.50,324.64 749.60,324.64 749.70,324.64 749.80,324.64 749.90,324.64 750.00,324.64 750.10,324.64 750.20,324.64 750.30,324.64 750.40,324.64 750.50,324.64 750.60,324.64 750.70,324.63 750.80,324.63 750.90,324.63 751.00,324.63 751.10,324.63 751.20,324.63 751.30,324.63 751.40,324.63 751.50,324.63 751.60,324.63 751.70,324.63 751.80,324.63 751.90,324.62 752.00,324.62 752.10,324.62 752.20,324.62 752.30,324.62 752.40,324.62 752.50,324.62 752.60,324.62 752.70,324.62 752.80,324.62 752.90,324.62 753.00,324.62 753.10,324.62 753.20,324.61 753.30,324.61 753.40,324.61 753.50,324.61 753.60,324.61 753.70,324.61 753.80,324.61 753.90,324.61 754.00,324.61 754.10,324.61 754.20,324.61 754.30,324.61 754.40,324.60 754.50,324.60 754.60,324.60 754.70,324.60 754.80,324.60 754.90,324.60 755.00,324.60 755.10,324.60 755.20,324.60 755.30,324.60 755.40,324.60 755.50,324.60 755.60,324.59 755.70,324.59 755.80,324.59 755.90,324.59 756.00,324.59 756.10,324.59 756.20,324.59 756.30,324.59 756.40,324.59 756.50,324.59 756.60,324.59 756.70,324.58 756.80,324.58 756.90,324.58 757.00,324.58 757.10,324.58 757.20,324.58 757.30,324.58 757.40,324.58 757.50,324.58 757.60,324.58 757.70,324.58 757.80,324.57 757.90,324.57 758.00,324.57 758.10,324.57 758.20,324.57 758.30,324.57 758.40,324.57 758.50,324.57 758.60,324.57 758.70,324.57 758.80,324.57 758.90,324.56 759.00,324.56 759.10,324.56 759.20,324.56 759.30,324.56 759.40,324.56 759.50,324.56 759.60,324.56 759.70,324.56 759.80,324.56 759.90,324.56 760.00,324.55 760.10,324.55 760.20,324.55 760.30,324.55 760.40,324.55 760.50,324.55 760.60,324.55 760.70,324.55 760.80,324.55 760.90,324.55 761.00,324.54 761.10,324.54 761.20,324.54 761.30,324.54 761.40,324.54 761.50,324.54 761.60,324.54 761.70,324.54 761.80,324.54 761.90,324.54 762.00,324.54 762.10,324.53 762.20,324.53 762.30,324.53 762.40,324.53 762.50,324.53 762.60,324.53 762.70,324.53 762.80,324.53 762.90,324.53 763.00,324.53 763.10,324.52 763.20,324.52 763.30,324.52 763.40,324.52 763.50,324.52 763.60,324.52 763.70,324.52 763.80,324.52 763.90,324.52 764.00,324.51 764.10,324.51 764.20,324.51 764.30,324.51 764.40,324.51 764.50,324.51 764.60,324.51 764.70,324.51 764.80,324.51 764.90,324.51 765.00,324.50 765.10,324.50 765.20,324.50 765.30,324.50 765.40,324.50 765.50,324.50 765.60,324.50 765.70,324.50 765.80,324.50 765.90,324.49 766.00,324.49 766.10,324.49 766.20,324.49 766.30,324.49 766.40,324.49 766.50,324.49 766.60,324.49 766.70,324.49 766.80,324.48 766.90,324.48 767.00,324.48 767.10,324.48 767.20,324.48 767.30,324.48 767.40,324.48 767.50,324.48 767.60,324.48 767.70,324.47 767.80,324.47 767.90,324.47 768.00,324.47 768.10,324.47 768.20,324.47 768.30,324.47 768.40,324.47 768.50,324.47 768.60,324.46 768.70,324.46 768.80,324.46 768.90,324.46 769.00,324.46 769.10,324.46 769.20,324.46 769.30,324.46 769.40,324.46 769.50,324.45 769.60,324.45 769.70,324.45 769.80,324.45 769.90,324.45 770.00,324.45 770.10,324.45 770.20,324.45 770.30,324.44 770.40,324.44 770.50,324.44 770.60,324.44 770.70,324.44 770.80,324.44 770.90,324.44 771.00,324.44 771.10,324.43 771.20,324.43 771.30,324.43 771.40,324.43 771.50,324.43 771.60,324.43 771.70,324.43 771.80,324.43 771.90,324.42 772.00,324.42 772.10,324.42 772.20,324.42 772.30,324.42 772.40,324.42 772.50,324.42 772.60,324.42 772.70,324.41 772.80,324.41 772.90,324.41 773.00,324.41 773.10,324.41 773.20,324.41 773.30,324.41 773.40,324.41 773.50,324.40 773.60,324.40 773.70,324.40 773.80,324.40 773.90,324.40 774.00,324.40 774.10,324.40 774.20,324.40 774.30,324.39 774.40,324.39 774.50,324.39 774.60,324.39 774.70,324.39 774.80,324.39 774.90,324.39 775.00,324.38 775.10,324.38 775.20,324.38 775.30,324.38 775.40,324.38 775.50,324.38 775.60,324.38 775.70,324.38 775.80,324.37 775.90,324.37 776.00,324.37 776.10,324.37 776.20,324.37 776.30,324.37 776.40,324.37 776.50,324.36 776.60,324.36 776.70,324.36 776.80,324.36 776.90,324.36 777.00,324.36 777.10,324.36 777.20,324.35 777.30,324.35 777.40,324.35 777.50,324.35 777.60,324.35 777.70,324.35 777.80,324.35 777.90,324.34 778.00,324.34 778.10,324.34 778.20,324.34 778.30,324.34 778.40,324.34 778.50,324.34 778.60,324.33 778.70,324.33 778.80,324.33 778.90,324.33 779.00,324.33 779.10,324.33 779.20,324.32 779.30,324.32 779.40,324.32 779.50,324.32 779.60,324.32 779.70,324.32 779.80,324.32 779.90,324.31 780.00,324.31 780.10,324.31 780.20,324.31 780.30,324.31 780.40,324.31 780.50,324.31 780.60,324.30 780.70,324.30 780.80,324.30 780.90,324.30 781.00,324.30 781.10,324.30 781.20,324.29 781.30,324.29 781.40,324.29 781.50,324.29 781.60,324.29 781.70,324.29 781.80,324.28 781.90,324.28 782.00,324.28 782.10,324.28 782.20,324.28 782.30,324.28 782.40,324.27 782.50,324.27 782.60,324.27 782.70,324.27 782.80,324.27 782.90,324.27 783.00,324.26 783.10,324.26 783.20,324.26 783.30,324.26 783.40,324.26 783.50,324.26 783.60,324.25 783.70,324.25 783.80,324.25 783.90,324.25 784.00,324.25 784.10,324.25 784.20,324.24 784.30,324.24 784.40,324.24 784.50,324.24 784.60,324.24 784.70,324.24 784.80,324.23 784.90,324.23 785.00,324.23 785.10,324.23 785.20,324.23 785.30,324.23 785.40,324.22 785.50,324.22 785.60,324.22 785.70,324.22 785.80,324.22 785.90,324.21 786.00,324.21 786.10,324.21 786.20,324.21 786.30,324.21 786.40,324.21 786.50,324.20 786.60,324.20 786.70,324.20 786.80,324.20 786.90,324.20 787.00,324.19 787.10,324.19 787.20,324.19 787.30,324.19 787.40,324.19 787.50,324.19 787.60,324.18 787.70,324.18 787.80,324.18 787.90,324.18 788.00,324.18 788.10,324.17 788.20,324.17 788.30,324.17 788.40,324.17 788.50,324.17 788.60,324.16 788.70,324.16 788.80,324.16 788.90,324.16 789.00,324.16 789.10,324.15 789.20,324.15 789.30,324.15 789.40,324.15 789.50,324.15 789.60,324.15 789.70,324.14 789.80,324.14 789.90,324.14 790.00,324.14 790.10,324.14 790.20,324.13 790.30,324.13 790.40,324.13 790.50,324.13 790.60,324.12 790.70,324.12 790.80,324.12 790.90,324.12 791.00,324.12 791.10,324.11 791.20,324.11 791.30,324.11 791.40,324.11 791.50,324.11 791.60,324.10 791.70,324.10 791.80,324.10 791.90,324.10 792.00,324.10 792.10,324.09 792.20,324.09 792.30,324.09 792.40,324.09 792.50,324.09 792.60,324.08 792.70,324.08 792.80,324.08 792.90,324.08 793.00,324.07 793.10,324.07 793.20,324.07 793.30,324.07 793.40,324.07 793.50,324.06 793.60,324.06 793.70,324.06 793.80,324.06 793.90,324.05 794.00,324.05 794.10,324.05 794.20,324.05 794.30,324.05 794.40,324.04 794.50,324.04 794.60,324.04 794.70,324.04 794.80,324.03 794.90,324.03 795.00,324.03 795.10,324.03 795.20,324.02 795.30,324.02 795.40,324.02 795.50,324.02 795.60,324.02 795.70,324.01 795.80,324.01 795.90,324.01 796.00,324.01 796.10,324.00 796.20,324.00 796.30,324.00 796.40,324.00 796.50,323.99 796.60,323.99 796.70,323.99 796.80,323.99 796.90,323.98 797.00,323.98 797.10,323.98 797.20,323.98 797.30,323.97 797.40,323.97 797.50,323.97 797.60,323.97 797.70,323.96 797.80,323.96 797.90,323.96 798.00,323.96 798.10,323.95 798.20,323.95 798.30,323.95 798.40,323.95 798.50,323.94 798.60,323.94 798.70,323.94 798.80,323.94 798.90,323.93 799.00,323.93 799.10,323.93 799.20,323.93 799.30,323.92 799.40,323.92 799.50,323.92 799.60,323.91 799.70,323.91 799.80,323.91 799.90,323.91 800.00,323.90 800.10,323.90 800.20,323.90 800.30,323.90 800.40,323.89 800.50,323.89 800.60,323.89 800.70,323.88 800.80,323.88 800.90,323.88 801.00,323.88 801.10,323.87 801.20,323.87 801.30,323.87 801.40,323.86 801.50,323.86 801.60,323.86 801.70,323.86 801.80,323.85 801.90,323.85 802.00,323.85 802.10,323.84 802.20,323.84 802.30,323.84 802.40,323.84 802.50,323.83 802.60,323.83 802.70,323.83 802.80,323.82 802.90,323.82 803.00,323.82 803.10,323.82 803.20,323.81 803.30,323.81 803.40,323.81 803.50,323.80 803.60,323.80 803.70,323.80 803.80,323.79 803.90,323.79 804.00,323.79 804.10,323.79 804.20,323.78 804.30,323.78 804.40,323.78 804.50,323.77 804.60,323.77 804.70,323.77 804.80,323.76 804.90,323.76 805.00,323.76 805.10,323.75 805.20,323.75 805.30,323.75 805.40,323.74 805.50,323.74 805.60,323.74 805.70,323.73 805.80,323.73 805.90,323.73 806.00,323.72 806.10,323.72 806.20,323.72 806.30,323.71 806.40,323.71 806.50,323.71 806.60,323.70 806.70,323.70 806.80,323.70 806.90,323.69 807.00,323.69 807.10,323.69 807.20,323.68 807.30,323.68 807.40,323.68 807.50,323.67 807.60,323.67 807.70,323.67 807.80,323.66 807.90,323.66 808.00,323.66 808.10,323.65 808.20,323.65 808.30,323.65 808.40,323.64 808.50,323.64 808.60,323.64 808.70,323.63 808.80,323.63 808.90,323.62 809.00,323.62 809.10,323.62 809.20,323.61 809.30,323.61 809.40,323.61 809.50,323.60 809.60,323.60 809.70,323.60 809.80,323.59 809.90,323.59 810.00,323.58 810.10,323.58 810.20,323.58 810.30,323.57 810.40,323.57 810.50,323.57 810.60,323.56 810.70,323.56 810.80,323.55 810.90,323.55 811.00,323.55 811.10,323.54 811.20,323.54 811.30,323.53 811.40,323.53 811.50,323.53 811.60,323.52 811.70,323.52 811.80,323.51 811.90,323.51 812.00,323.51 812.10,323.50 812.20,323.50 812.30,323.49 812.40,323.49 812.50,323.49 812.60,323.48 812.70,323.48 812.80,323.47 812.90,323.47 813.00,323.47 813.10,323.46 813.20,323.46 813.30,323.45 813.40,323.45 813.50,323.44 813.60,323.44 813.70,323.44 813.80,323.43 813.90,323.43 814.00,323.42 814.10,323.42 814.20,323.41 814.30,323.41 814.40,323.41 814.50,323.40 814.60,323.40 814.70,323.39 814.80,323.39 814.90,323.38 815.00,323.38 815.10,323.37 815.20,323.37 815.30,323.37 815.40,323.36 815.50,323.36 815.60,323.35 815.70,323.35 815.80,323.34 815.90,323.34 816.00,323.33 816.10,323.33 816.20,323.32 816.30,323.32 816.40,323.31 816.50,323.31 816.60,323.30 816.70,323.30 816.80,323.29 816.90,323.29 817.00,323.29 817.10,323.28 817.20,323.28 817.30,323.27 817.40,323.27 817.50,323.26 817.60,323.26 817.70,323.25 817.80,323.25 817.90,323.24 818.00,323.24 818.10,323.23 818.20,323.23 818.30,323.22 818.40,323.22 818.50,323.21 818.60,323.21 818.70,323.20 818.80,323.20 818.90,323.19 819.00,323.18 819.10,323.18 819.20,323.17 819.30,323.17 819.40,323.16 819.50,323.16 819.60,323.15 819.70,323.15 819.80,323.14 819.90,323.14 820.00,323.13 820.10,323.13 820.20,323.12 820.30,323.11 820.40,323.11 820.50,323.10 820.60,323.10 820.70,323.09 820.80,323.09 820.90,323.08 821.00,323.08 821.10,323.07 821.20,323.06 821.30,323.06 821.40,323.05 821.50,323.05 821.60,323.04 821.70,323.04 821.80,323.03 821.90,323.02 822.00,323.02 822.10,323.01 822.20,323.01 822.30,323.00 822.40,322.99 822.50,322.99 822.60,322.98 822.70,322.98 822.80,322.97 822.90,322.96 823.00,322.96 823.10,322.95 823.20,322.95 823.30,322.94 823.40,322.93 823.50,322.93 823.60,322.92 823.70,322.91 823.80,322.91 823.90,322.90 824.00,322.90 824.10,322.89 824.20,322.88 824.30,322.88 824.40,322.87 824.50,322.86 824.60,322.86 824.70,322.85 824.80,322.84 824.90,322.84 825.00,322.83 825.10,322.82 825.20,322.82 825.30,322.81 825.40,322.80 825.50,322.80 825.60,322.79 825.70,322.78 825.80,322.78 825.90,322.77 826.00,322.76 826.10,322.76 826.20,322.75 826.30,322.74 826.40,322.73 826.50,322.73 826.60,322.72 826.70,322.71 826.80,322.71 826.90,322.70 827.00,322.69 827.10,322.68 827.20,322.68 827.30,322.67 827.40,322.66 827.50,322.66 827.60,322.65 827.70,322.64 827.80,322.63 827.90,322.63 828.00,322.62 828.10,322.61 828.20,322.60 828.30,322.59 828.40,322.59 828.50,322.58 828.60,322.57 828.70,322.56 828.80,322.56 828.90,322.55 829.00,322.54 829.10,322.53 829.20,322.52 829.30,322.52 829.40,322.51 829.50,322.50 829.60,322.49 829.70,322.48 829.80,322.48 829.90,322.47 830.00,322.46 830.10,322.45 830.20,322.44 830.30,322.43 830.40,322.43 830.50,322.42 830.60,322.41 830.70,322.40 830.80,322.39 830.90,322.38 831.00,322.38 831.10,322.37 831.20,322.36 831.30,322.35 831.40,322.34 831.50,322.33 831.60,322.32 831.70,322.31 831.80,322.30 831.90,322.30 832.00,322.29 832.10,322.28 832.20,322.27 832.30,322.26 832.40,322.25 832.50,322.24 832.60,322.23 832.70,322.22 832.80,322.21 832.90,322.20 833.00,322.19 833.10,322.18 833.20,322.18 833.30,322.17 833.40,322.16 833.50,322.15 833.60,322.14 833.70,322.13 833.80,322.12 833.90,322.11 834.00,322.10 834.10,322.09 834.20,322.08 834.30,322.07 834.40,322.06 834.50,322.05 834.60,322.04 834.70,322.03 834.80,322.02 834.90,322.01 835.00,322.00 835.10,321.98 835.20,321.97 835.30,321.96 835.40,321.95 835.50,321.94 835.60,321.93 835.70,321.92 835.80,321.91 835.90,321.90 836.00,321.89 836.10,321.88 836.20,321.87 836.30,321.86 836.40,321.84 836.50,321.83 836.60,321.82 836.70,321.81 836.80,321.80 836.90,321.79 837.00,321.78 837.10,321.76 837.20,321.75 837.30,321.74 837.40,321.73 837.50,321.72 837.60,321.71 837.70,321.69 837.80,321.68 837.90,321.67 838.00,321.66 838.10,321.65 838.20,321.63 838.30,321.62 838.40,321.61 838.50,321.60 838.60,321.58 838.70,321.57 838.80,321.56 838.90,321.55 839.00,321.53 839.10,321.52 839.20,321.51 839.30,321.50 839.40,321.48 839.50,321.47 839.60,321.46 839.70,321.44 839.80,321.43 839.90,321.42 840.00,321.40 840.10,321.39 840.20,321.38 840.30,321.36 840.40,321.35 840.50,321.34 840.60,321.32 840.70,321.31 840.80,321.29 840.90,321.28 841.00,321.27 841.10,321.25 841.20,321.24 841.30,321.22 841.40,321.21 841.50,321.19 841.60,321.18 841.70,321.16 841.80,321.15 841.90,321.13 842.00,321.12 842.10,321.11 842.20,321.09 842.30,321.07 842.40,321.06 842.50,321.04 842.60,321.03 842.70,321.01 842.80,321.00 842.90,320.98 843.00,320.97 843.10,320.95 843.20,320.93 843.30,320.92 843.40,320.90 843.50,320.89 843.60,320.87 843.70,320.85 843.80,320.84 843.90,320.82 844.00,320.80 844.10,320.79 844.20,320.77 844.30,320.75 844.40,320.74 844.50,320.72 844.60,320.70 844.70,320.68 844.80,320.67 844.90,320.65 845.00,320.63 845.10,320.61 845.20,320.60 845.30,320.58 845.40,320.56 845.50,320.54 845.60,320.52 845.70,320.51 845.80,320.49 845.90,320.47 846.00,320.45 846.10,320.43 846.20,320.41 846.30,320.39 846.40,320.37 846.50,320.35 846.60,320.34 846.70,320.32 846.80,320.30 846.90,320.28 847.00,320.26 847.10,320.24 847.20,320.22 847.30,320.20 847.40,320.18 847.50,320.16 847.60,320.13 847.70,320.11 847.80,320.09 847.90,320.07 848.00,320.05 848.10,320.03 848.20,320.01 848.30,319.99 848.40,319.97 848.50,319.94 848.60,319.92 848.70,319.90 848.80,319.88 848.90,319.85 849.00,319.83 849.10,319.81 849.20,319.79 849.30,319.76 849.40,319.74 849.50,319.72 849.60,319.69 849.70,319.67 849.80,319.65 849.90,319.62 850.00,319.60 850.10,319.58 850.20,319.55 850.30,319.53 850.40,319.50 850.50,319.48 850.60,319.45 850.70,319.43 850.80,319.40 850.90,319.38 851.00,319.35 851.10,319.33 851.20,319.30 851.30,319.27 851.40,319.25 851.50,319.22 851.60,319.19 851.70,319.17 851.80,319.14 851.90,319.11 852.00,319.09 852.10,319.06 852.20,319.03 852.30,319.00 852.40,318.98 852.50,318.95 852.60,318.92 852.70,318.89 852.80,318.86 852.90,318.83 853.00,318.80 853.10,318.77 853.20,318.74 853.30,318.71 853.40,318.68 853.50,318.65 853.60,318.62 853.70,318.59 853.80,318.56 853.90,318.53 854.00,318.50 854.10,318.47 854.20,318.44 854.30,318.40 854.40,318.37 854.50,318.34 854.60,318.31 854.70,318.27 854.80,318.24 854.90,318.21 855.00,318.17 855.10,318.14 855.20,318.10 855.30,318.07 855.40,318.03 855.50,318.00 855.60,317.96 855.70,317.93 855.80,317.89 855.90,317.86 856.00,317.82 856.10,317.78 856.20,317.75 856.30,317.71 856.40,317.67 856.50,317.63 856.60,317.60 856.70,317.56 856.80,317.52 856.90,317.48 857.00,317.44 857.10,317.40 857.20,317.36 857.30,317.32 857.40,317.28 857.50,317.24 857.60,317.20 857.70,317.16 857.80,317.12 857.90,317.08 858.00,317.03 858.10,316.99 858.20,316.95 858.30,316.90 858.40,316.86 858.50,316.82 858.60,316.77 858.70,316.73 858.80,316.68 858.90,316.64 859.00,316.59 859.10,316.54 859.20,316.50 859.30,316.45 859.40,316.40 859.50,316.35 859.60,316.31 859.70,316.26 859.80,316.21 859.90,316.16 860.00,316.11 860.10,316.06 860.20,316.01 860.30,315.96 860.40,315.90 860.50,315.85 860.60,315.80 860.70,315.75 860.80,315.69 860.90,315.64 861.00,315.59 861.10,315.53 861.20,315.48 861.30,315.42 861.40,315.36 861.50,315.31 861.60,315.25 861.70,315.19 861.80,315.13 861.90,315.07 862.00,315.01 862.10,314.95 862.20,314.89 862.30,314.83 862.40,314.77 862.50,314.71 862.60,314.65 862.70,314.58 862.80,314.52 862.90,314.45 863.00,314.39 863.10,314.32 863.20,314.26 863.30,314.19 863.40,314.12 863.50,314.05 863.60,313.99 863.70,313.92 863.80,313.85 863.90,313.78 864.00,313.70 864.10,313.63 864.20,313.56 864.30,313.48 864.40,313.41 864.50,313.34 864.60,313.26 864.70,313.18 864.80,313.11 864.90,313.03 865.00,312.95 865.10,312.87 865.20,312.79 865.30,312.71 865.40,312.62 865.50,312.54 865.60,312.46 865.70,312.37 865.80,312.29 865.90,312.20 866.00,312.11 866.10,312.02 866.20,311.94 866.30,311.84 866.40,311.75 866.50,311.66 866.60,311.57 866.70,311.47 866.80,311.38 866.90,311.28 867.00,311.19 867.10,311.09 867.20,310.99 867.30,310.89 867.40,310.79 867.50,310.68 867.60,310.58 867.70,310.47 867.80,310.37 867.90,310.26 868.00,310.15 868.10,310.04 868.20,309.93 868.30,309.82 868.40,309.71 868.50,309.59 868.60,309.47 868.70,309.36 868.80,309.24 868.90,309.12 869.00,309.00 869.10,308.87 869.20,308.75 869.30,308.62 869.40,308.49 869.50,308.36 869.60,308.23 869.70,308.10 869.80,307.97 869.90,307.83 870.00,307.69 870.10,307.56 870.20,307.42 870.30,307.27 870.40,307.13 870.50,306.98 870.60,306.83 870.70,306.68 870.80,306.53 870.90,306.38 871.00,306.22 871.10,306.07 871.20,305.91 871.30,305.75 871.40,305.58 871.50,305.42 871.60,305.25 871.70,305.08 871.80,304.90 871.90,304.73 872.00,304.55 872.10,304.37 872.20,304.19 872.30,304.01 872.40,303.82 872.50,303.63 872.60,303.44 872.70,303.24 872.80,303.04 872.90,302.84 873.00,302.64 873.10,302.43 873.20,302.22 873.30,302.01 873.40,301.80 873.50,301.58 873.60,301.36 873.70,301.13 873.80,300.91 873.90,300.67 874.00,300.44 874.10,300.20 874.20,299.96 874.30,299.71 874.40,299.47 874.50,299.21 874.60,298.96 874.70,298.70 874.80,298.43 874.90,298.16 875.00,297.89 875.10,297.61 875.20,297.33 875.30,297.05 875.40,296.76 875.50,296.46 875.60,296.16 875.70,295.86 875.80,295.55 875.90,295.23 876.00,294.91 876.10,294.59 876.20,294.26 876.30,293.92 876.40,293.58 876.50,293.24 876.60,292.88 876.70,292.53 876.80,292.16 876.90,291.79 877.00,291.41 877.10,291.03 877.20,290.64 877.30,290.24 877.40,289.84 877.50,289.43 877.60,289.01 877.70,288.59 877.80,288.15 877.90,287.71 878.00,287.27 878.10,286.81 878.20,286.35 878.30,285.87 878.40,285.39 878.50,284.90 878.60,284.40 878.70,283.89 878.80,283.37 878.90,282.84 879.00,282.31 879.10,281.76 879.20,281.20 879.30,280.63 879.40,280.05 879.50,279.46 879.60,278.86 879.70,278.24 879.80,277.62 879.90,276.98 880.00,276.33 880.10,275.66 880.20,274.99 880.30,274.30 880.40,273.59 880.50,272.87 880.60,272.14 880.70,271.39 880.80,270.63 880.90,269.85 881.00,269.06 881.10,268.25 881.20,267.42 881.30,266.58 881.40,265.72 881.50,264.84 881.60,263.94 881.70,263.02 881.80,262.08 881.90,261.13 882.00,260.15 882.10,259.16 882.20,258.14 882.30,257.10 882.40,256.04 882.50,254.95 882.60,253.85 882.70,252.71 882.80,251.56 882.90,250.38 883.00,249.17 883.10,247.94 883.20,246.68 883.30,245.40 883.40,244.08 883.50,242.74 883.60,241.37 883.70,239.97 883.80,238.54 883.90,237.08 884.00,235.59 884.10,234.06 884.20,232.51 884.30,230.92 884.40,229.30 884.50,227.64 884.60,225.95 884.70,224.22 884.80,222.45 884.90,220.65 885.00,218.82 885.10,216.94 885.20,215.03 885.30,213.08 885.40,211.10 885.50,209.07 885.60,207.00 885.70,204.90 885.80,202.75 885.90,200.57 886.00,198.35 886.10,196.09 886.20,193.79 886.30,191.45 886.40,189.07 886.50,186.66 886.60,184.21 886.70,181.72 886.80,179.20 886.90,176.64 887.00,174.05 887.10,171.43 887.20,168.78 887.30,166.10 887.40,163.40 887.50,160.67 887.60,157.93 887.70,155.16 887.80,152.38 887.90,149.58 888.00,146.78 888.10,143.97 888.20,141.17 888.30,138.36 888.40,135.56 888.50,132.78 888.60,130.01 888.70,127.27 888.80,124.55 888.90,121.87 889.00,119.23 889.10,116.63 889.20,114.09 889.30,111.61 889.40,109.19 889.50,106.84 889.60,104.57 889.70,102.39 889.80,100.30 889.90,98.30 890.00,96.42 890.10,94.64 890.20,92.98 890.30,91.44 890.40,90.03 890.50,88.76 890.60,87.62 890.70,86.63 890.80,85.78 890.90,85.08 891.00,84.54 891.10,84.15 891.20,83.91 891.30,83.83 891.40,83.92 891.50,84.19 891.60,84.63 891.70,85.25 891.80,86.03 891.90,86.99 892.00,88.11 892.10,89.38 892.20,90.82 892.30,92.40 892.40,94.12 892.50,95.97 892.60,97.95 892.70,100.05 892.80,102.27 892.90,104.59 893.00,107.00 893.10,109.50 893.20,112.09 893.30,114.74 893.40,117.46 893.50,120.24 893.60,123.07 893.70,125.94 893.80,128.84 893.90,131.77 894.00,134.73 894.10,137.70 894.20,140.68 894.30,143.66 894.40,146.64 894.50,149.62 894.60,152.59 894.70,155.55 894.80,158.48 894.90,161.40 895.00,164.29 895.10,167.15 895.20,169.99 895.30,172.79 895.40,175.56 895.50,178.29 895.60,180.98 895.70,183.63 895.80,186.25 895.90,188.82 896.00,191.35 896.10,193.83 896.20,196.27 896.30,198.67 896.40,201.03 896.50,203.34 896.60,205.60 896.70,207.82 896.80,210.00 896.90,212.14 897.00,214.23 897.10,216.27 897.20,218.28 897.30,220.24 897.40,222.16 897.50,224.04 897.60,225.87 897.70,227.67 897.80,229.43 897.90,231.15 898.00,232.84 898.10,234.48 898.20,236.09 898.30,237.66 898.40,239.20 898.50,240.70 898.60,242.17 898.70,243.61 898.80,245.01 898.90,246.39 899.00,247.73 899.10,249.04 899.20,250.32 899.30,251.58 899.40,252.80 899.50,254.00 899.60,255.17 899.70,256.32 899.80,257.44 899.90,258.54 900.00,259.61 900.10,260.65 900.20,261.68 900.30,262.68 900.40,263.66 900.50,264.62 900.60,265.56 900.70,266.48 900.80,267.37 900.90,268.25 901.00,269.11 901.10,269.95 901.20,270.78 901.30,271.58 901.40,272.37 901.50,273.14 901.60,273.90 901.70,274.64 901.80,275.36 901.90,276.07 902.00,276.77 902.10,277.45 902.20,278.12 902.30,278.77 902.40,279.41 902.50,280.04 902.60,280.65 902.70,281.26 902.80,281.85 902.90,282.42 903.00,282.99 903.10,283.55 903.20,284.09 903.30,284.63 903.40,285.15 903.50,285.67 903.60,286.17 903.70,286.67 903.80,287.16 903.90,287.63 904.00,288.10 904.10,288.56 904.20,289.01 904.30,289.45 904.40,289.89 904.50,290.31 904.60,290.73 904.70,291.14 904.80,291.54 904.90,291.94 905.00,292.33 905.10,292.71 905.20,293.09 905.30,293.46 905.40,293.82 905.50,294.18 905.60,294.53 905.70,294.87 905.80,295.21 905.90,295.54 906.00,295.87 906.10,296.19 906.20,296.51 906.30,296.82 906.40,297.12 906.50,297.42 906.60,297.72 906.70,298.01 906.80,298.30 906.90,298.58 907.00,298.85 907.10,299.13 907.20,299.39 907.30,299.66 907.40,299.92 907.50,300.17 907.60,300.43 907.70,300.67 907.80,300.92 907.90,301.16 908.00,301.39 908.10,301.63 908.20,301.86 908.30,302.08 908.40,302.31 908.50,302.52 908.60,302.74 908.70,302.95 908.80,303.16 908.90,303.37 909.00,303.57 909.10,303.77 909.20,303.97 909.30,304.17 909.40,304.36 909.50,304.55 909.60,304.73 909.70,304.92 909.80,305.10 909.90,305.28 910.00,305.46 910.10,305.63 910.20,305.80 910.30,305.97 910.40,306.14 910.50,306.30 910.60,306.47 910.70,306.63 910.80,306.78 910.90,306.94 911.00,307.09 911.10,307.25 911.20,307.40 911.30,307.54 911.40,307.69 911.50,307.84 911.60,307.98 911.70,308.12 911.80,308.26 911.90,308.39 912.00,308.53 912.10,308.66 912.20,308.80 912.30,308.93 912.40,309.05 912.50,309.18 912.60,309.31 912.70,309.43 912.80,309.55 912.90,309.67 913.00,309.79 913.10,309.91 913.20,310.03 913.30,310.14 913.40,310.26 913.50,310.37 913.60,310.48 913.70,310.59 913.80,310.70 913.90,310.81 914.00,310.91 914.10,311.02 914.20,311.12 914.30,311.23 914.40,311.33 914.50,311.43 914.60,311.53 914.70,311.62 914.80,311.72 914.90,311.82 915.00,311.91 915.10,312.01 915.20,312.10 915.30,312.19 915.40,312.28 915.50,312.37 915.60,312.46 915.70,312.55 915.80,312.63 915.90,312.72 916.00,312.80 916.10,312.89 916.20,312.97 916.30,313.05 916.40,313.14 916.50,313.22 916.60,313.30 916.70,313.37 916.80,313.45 916.90,313.53 917.00,313.61 917.10,313.68 917.20,313.76 917.30,313.83 917.40,313.90 917.50,313.98 917.60,314.05 917.70,314.12 917.80,314.19 917.90,314.26 918.00,314.33 918.10,314.40 918.20,314.47 918.30,314.53 918.40,314.60 918.50,314.67 918.60,314.73 918.70,314.80 918.80,314.86 918.90,314.92 919.00,314.99 919.10,315.05 919.20,315.11 919.30,315.17 919.40,315.23 919.50,315.29 919.60,315.35 919.70,315.41 919.80,315.47 919.90,315.53 920.00,315.58 920.10,315.64 920.20,315.70 920.30,315.75 920.40,315.81 920.50,315.86 920.60,315.92 920.70,315.97 920.80,316.02 920.90,316.08 921.00,316.13 921.10,316.18 921.20,316.23 921.30,316.28 921.40,316.33 921.50,316.38 921.60,316.43 921.70,316.48 921.80,316.53 921.90,316.58 922.00,316.63 922.10,316.67 922.20,316.72 922.30,316.77 922.40,316.81 922.50,316.86 922.60,316.90 922.70,316.95 922.80,316.99 922.90,317.04 923.00,317.08 923.10,317.13 923.20,317.17 923.30,317.21 923.40,317.26 923.50,317.30 923.60,317.34 923.70,317.38 923.80,317.42 923.90,317.46 924.00,317.50 924.10,317.54 924.20,317.58 924.30,317.62 924.40,317.66 924.50,317.70 924.60,317.74 924.70,317.78 924.80,317.82 924.90,317.85 925.00,317.89 925.10,317.93 925.20,317.97 925.30,318.00 925.40,318.04 925.50,318.08 925.60,318.11 925.70,318.15 925.80,318.18 925.90,318.22 926.00,318.25 926.10,318.29 926.20,318.32 926.30,318.35 926.40,318.39 926.50,318.42 926.60,318.45 926.70,318.49 926.80,318.52 926.90,318.55 927.00,318.58 927.10,318.62 927.20,318.65 927.30,318.68 927.40,318.71 927.50,318.74 927.60,318.77 927.70,318.80 927.80,318.83 927.90,318.86 928.00,318.89 928.10,318.92 928.20,318.95 928.30,318.98 928.40,319.01 928.50,319.04 928.60,319.07 928.70,319.10 928.80,319.13 928.90,319.15 929.00,319.18 929.10,319.21 929.20,319.24 929.30,319.26 929.40,319.29 929.50,319.32 929.60,319.34 929.70,319.37 929.80,319.40 929.90,319.42 930.00,319.45 930.10,319.48 930.20,319.50 930.30,319.53 930.40,319.55 930.50,319.58 930.60,319.60 930.70,319.63 930.80,319.65 930.90,319.68 931.00,319.70 931.10,319.72 931.20,319.75 931.30,319.77 931.40,319.80 931.50,319.82 931.60,319.84 931.70,319.87 931.80,319.89 931.90,319.91 932.00,319.93 932.10,319.96 932.20,319.98 932.30,320.00 932.40,320.02 932.50,320.05 932.60,320.07 932.70,320.09 932.80,320.11 932.90,320.13 933.00,320.15 933.10,320.18 933.20,320.20 933.30,320.22 933.40,320.24 933.50,320.26 933.60,320.28 933.70,320.30 933.80,320.32 933.90,320.34 934.00,320.36 934.10,320.38 934.20,320.40 934.30,320.42 934.40,320.44 934.50,320.46 934.60,320.48 934.70,320.50 934.80,320.52 934.90,320.54 935.00,320.55 935.10,320.57 935.20,320.59 935.30,320.61 935.40,320.63 935.50,320.65 935.60,320.67 935.70,320.68 935.80,320.70 935.90,320.72 936.00,320.74 936.10,320.75 936.20,320.77 936.30,320.79 936.40,320.81 936.50,320.82 936.60,320.84 936.70,320.86 936.80,320.88 936.90,320.89 937.00,320.91 937.10,320.93 937.20,320.94 937.30,320.96 937.40,320.97 937.50,320.99 937.60,321.01 937.70,321.02 937.80,321.04 937.90,321.06 938.00,321.07 938.10,321.09 938.20,321.10 938.30,321.12 938.40,321.13 938.50,321.15 938.60,321.16 938.70,321.18 938.80,321.19 938.90,321.21 939.00,321.22 939.10,321.24 939.20,321.25 939.30,321.27 939.40,321.28 939.50,321.30 939.60,321.31 939.70,321.33 939.80,321.34 939.90,321.35 940.00,321.37 940.10,321.38 940.20,321.40 940.30,321.41 940.40,321.42 940.50,321.44 940.60,321.45 940.70,321.47 940.80,321.48 940.90,321.49 941.00,321.51 941.10,321.52 941.20,321.53 941.30,321.55 941.40,321.56 941.50,321.57 941.60,321.58 941.70,321.60 941.80,321.61 941.90,321.62 942.00,321.64 942.10,321.65 942.20,321.66 942.30,321.67 942.40,321.69 942.50,321.70 942.60,321.71 942.70,321.72 942.80,321.73 942.90,321.75 943.00,321.76 943.10,321.77 943.20,321.78 943.30,321.79 943.40,321.81 943.50,321.82 943.60,321.83 943.70,321.84 943.80,321.85 943.90,321.86 944.00,321.88 944.10,321.89 944.20,321.90 944.30,321.91 944.40,321.92 944.50,321.93 944.60,321.94 944.70,321.95 944.80,321.97 944.90,321.98 945.00,321.99 945.10,322.00 945.20,322.01 945.30,322.02 945.40,322.03 945.50,322.04 945.60,322.05 945.70,322.06 945.80,322.07 945.90,322.08 946.00,322.09 946.10,322.10 946.20,322.11 946.30,322.12 946.40,322.13 946.50,322.14 946.60,322.15 946.70,322.16 946.80,322.17 946.90,322.18 947.00,322.19 947.10,322.20 947.20,322.21 947.30,322.22 947.40,322.23 947.50,322.24 947.60,322.25 947.70,322.26 947.80,322.27 947.90,322.28 948.00,322.29 948.10,322.30 948.20,322.31 948.30,322.32 948.40,322.33 948.50,322.34 948.60,322.34 948.70,322.35 948.80,322.36 948.90,322.37 949.00,322.38 949.10,322.39 949.20,322.40 949.30,322.41 949.40,322.42 949.50,322.42 949.60,322.43 949.70,322.44 949.80,322.45 949.90,322.46 950.00,322.47 950.10,322.48 950.20,322.48 950.30,322.49 950.40,322.50 950.50,322.51 950.60,322.52 950.70,322.53 950.80,322.53 950.90,322.54 951.00,322.55 951.10,322.56 951.20,322.57 951.30,322.58 951.40,322.58 951.50,322.59 951.60,322.60 951.70,322.61 951.80,322.61 951.90,322.62 952.00,322.63 952.10,322.64 952.20,322.65 952.30,322.65 952.40,322.66 952.50,322.67 952.60,322.68 952.70,322.68 952.80,322.69 952.90,322.70 953.00,322.71 953.10,322.71 953.20,322.72 953.30,322.73 953.40,322.74 953.50,322.74 953.60,322.75 953.70,322.76 953.80,322.76 953.90,322.77 954.00,322.78 954.10,322.79 954.20,322.79 954.30,322.80 954.40,322.81 954.50,322.81 954.60,322.82 954.70,322.83 954.80,322.83 954.90,322.84 955.00,322.85 955.10,322.86 955.20,322.86 955.30,322.87 955.40,322.88 955.50,322.88 955.60,322.89 955.70,322.90 955.80,322.90 955.90,322.91 956.00,322.92 956.10,322.92 956.20,322.93 956.30,322.93 956.40,322.94 956.50,322.95 956.60,322.95 956.70,322.96 956.80,322.97 956.90,322.97 957.00,322.98 957.10,322.99 957.20,322.99 957.30,323.00 957.40,323.00 957.50,323.01 957.60,323.02 957.70,323.02 957.80,323.03 957.90,323.03 958.00,323.04 958.10,323.05 958.20,323.05 958.30,323.06 958.40,323.06 958.50,323.07 958.60,323.08 958.70,323.08 958.80,323.09 958.90,323.09 959.00,323.10 959.10,323.10 959.20,323.11 959.30,323.12 959.40,323.12 959.50,323.13 959.60,323.13 959.70,323.14 959.80,323.14 959.90,323.15 960.00,323.16 960.10,323.16 960.20,323.17 960.30,323.17 960.40,323.18 960.50,323.18 960.60,323.19 960.70,323.19 960.80,323.20 960.90,323.20 961.00,323.21 961.10,323.21 961.20,323.22 961.30,323.23 961.40,323.23 961.50,323.24 961.60,323.24 961.70,323.25 961.80,323.25 961.90,323.26 962.00,323.26 962.10,323.27 962.20,323.27 962.30,323.28 962.40,323.28 962.50,323.29 962.60,323.29 962.70,323.30 962.80,323.30 962.90,323.31 963.00,323.31 963.10,323.32 963.20,323.32 963.30,323.33 963.40,323.33 963.50,323.34 963.60,323.34 963.70,323.35 963.80,323.35 963.90,323.36 964.00,323.36 964.10,323.36 964.20,323.37 964.30,323.37 964.40,323.38 964.50,323.38 964.60,323.39 964.70,323.39 964.80,323.40 964.90,323.40 965.00,323.41 965.10,323.41 965.20,323.42 965.30,323.42 965.40,323.42 965.50,323.43 965.60,323.43 965.70,323.44 965.80,323.44 965.90,323.45 966.00,323.45 966.10,323.46 966.20,323.46 966.30,323.46 966.40,323.47 966.50,323.47 966.60,323.48 966.70,323.48 966.80,323.49 966.90,323.49 967.00,323.49 967.10,323.50 967.20,323.50 967.30,323.51 967.40,323.51 967.50,323.51 967.60,323.52 967.70,323.52 967.80,323.53 967.90,323.53 968.00,323.54 968.10,323.54 968.20,323.54 968.30,323.55 968.40,323.55 968.50,323.56 968.60,323.56 968.70,323.56 968.80,323.57 968.90,323.57 969.00,323.58 969.10,323.58 969.20,323.58 969.30,323.59 969.40,323.59 969.50,323.59 969.60,323.60 969.70,323.60 969.80,323.61 969.90,323.61 970.00,323.61 970.10,323.62 970.20,323.62 970.30,323.63 970.40,323.63 970.50,323.63 970.60,323.64 970.70,323.64 970.80,323.64 970.90,323.65 971.00,323.65 971.10,323.65 971.20,323.66 971.30,323.66 971.40,323.67 971.50,323.67 971.60,323.67 971.70,323.68 971.80,323.68 971.90,323.68 972.00,323.69 972.10,323.69 972.20,323.69 972.30,323.70 972.40,323.70 972.50,323.70 972.60,323.71 972.70,323.71 972.80,323.72 972.90,323.72 973.00,323.72 973.10,323.73 973.20,323.73 973.30,323.73 973.40,323.74 973.50,323.74 973.60,323.74 973.70,323.75 973.80,323.75 973.90,323.75 974.00,323.76 974.10,323.76 974.20,323.76 974.30,323.77 974.40,323.77 974.50,323.77 974.60,323.78 974.70,323.78 974.80,323.78 974.90,323.78 975.00,323.79 975.10,323.79 975.20,323.79 975.30,323.80 975.40,323.80 975.50,323.80 975.60,323.81 975.70,323.81 975.80,323.81 975.90,323.82 976.00,323.82 976.10,323.82 976.20,323.83 976.30,323.83 976.40,323.83 976.50,323.83 976.60,323.84 976.70,323.84 976.80,323.84 976.90,323.85 977.00,323.85 977.10,323.85 977.20,323.86 977.30,323.86 977.40,323.86 977.50,323.86 977.60,323.87 977.70,323.87 977.80,323.87 977.90,323.88 978.00,323.88 978.10,323.88 978.20,323.88 978.30,323.89 978.40,323.89 978.50,323.89 978.60,323.90 978.70,323.90 978.80,323.90 978.90,323.90 979.00,323.91 979.10,323.91 979.20,323.91 979.30,323.92 979.40,323.92 979.50,323.92 979.60,323.92 979.70,323.93 979.80,323.93 979.90,323.93 980.00,323.93 980.10,323.94 980.20,323.94 980.30,323.94 980.40,323.95 980.50,323.95 980.60,323.95 980.70,323.95 980.80,323.96 980.90,323.96 981.00,323.96 981.10,323.96 981.20,323.97 981.30,323.97 981.40,323.97 981.50,323.97 981.60,323.98 981.70,323.98 981.80,323.98 981.90,323.98 982.00,323.99 982.10,323.99 982.20,323.99 982.30,323.99 982.40,324.00 982.50,324.00 982.60,324.00 982.70,324.00 982.80,324.01 982.90,324.01 983.00,324.01 983.10,324.01 983.20,324.02 983.30,324.02 983.40,324.02 983.50,324.02 983.60,324.03 983.70,324.03 983.80,324.03 983.90,324.03 984.00,324.04 984.10,324.04 984.20,324.04 984.30,324.04 984.40,324.05 984.50,324.05 984.60,324.05 984.70,324.05 984.80,324.06 984.90,324.06 985.00,324.06 985.10,324.06 985.20,324.06 985.30,324.07 985.40,324.07 985.50,324.07 985.60,324.07 985.70,324.08 985.80,324.08 985.90,324.08 986.00,324.08 986.10,324.08 986.20,324.09 986.30,324.09 986.40,324.09 986.50,324.09 986.60,324.10 986.70,324.10 986.80,324.10 986.90,324.10 987.00,324.10 987.10,324.11 987.20,324.11 987.30,324.11 987.40,324.11 987.50,324.12 987.60,324.12 987.70,324.12 987.80,324.12 987.90,324.12 988.00,324.13 988.10,324.13 988.20,324.13 988.30,324.13 988.40,324.13 988.50,324.14 988.60,324.14 988.70,324.14 988.80,324.14 988.90,324.14 989.00,324.15 989.10,324.15 989.20,324.15 989.30,324.15 989.40,324.16 989.50,324.16 989.60,324.16 989.70,324.16 989.80,324.16 989.90,324.17 990.00,324.17 990.10,324.17 990.20,324.17 990.30,324.17 990.40,324.18 990.50,324.18 990.60,324.18 990.70,324.18 990.80,324.18 990.90,324.18 991.00,324.19 991.10,324.19 991.20,324.19 991.30,324.19 991.40,324.19 991.50,324.20 991.60,324.20 991.70,324.20 991.80,324.20 991.90,324.20 992.00,324.21 992.10,324.21 992.20,324.21 992.30,324.21 992.40,324.21 992.50,324.22 992.60,324.22" stroke="#0000ff" stroke-width="4.4" stroke-dasharray="11.2 3.8" stroke-dashoffset="1.40"/>
<polyline points="585.30,319.04 585.70,310.26 586.10,319.72 586.50,310.86 586.90,319.88 587.30,309.84 587.70,320.11 588.10,310.87 588.50,318.66 588.90,310.59 589.30,319.31 589.70,310.91 590.10,318.70 590.50,309.48 590.90,318.51 591.30,309.72 591.70,319.42 592.10,310.37 592.50,318.70 592.90,310.88 593.30,319.46 593.70,311.09 594.10,318.07 594.50,310.34 594.90,318.24 595.30,311.25 595.70,318.50 596.10,310.34 596.50,317.98 596.90,310.35 597.30,318.86 597.70,310.71 598.10,318.28 598.50,310.76 598.90,318.72 599.30,311.28 599.70,318.52 600.10,310.73 600.50,318.48 600.90,310.92 601.30,317.70 601.70,311.28 602.10,318.18 602.50,310.55 602.90,317.99 603.30,311.79 603.70,318.53 604.10,310.45 604.50,318.76 604.90,311.99 605.30,319.08 605.70,310.40 606.10,319.09 606.50,311.31 606.90,318.79 607.30,310.55 607.70,318.43 608.10,309.94 608.50,318.44 608.90,310.19 609.30,318.77 609.70,310.14 610.10,319.66 610.50,310.76 610.90,319.49 611.30,310.30 611.70,318.83 612.10,310.49 612.50,320.40 612.90,311.02 613.30,319.53 613.70,310.56 614.10,319.37 614.50,311.91 614.90,319.02 615.30,312.97 615.70,317.99 616.10,311.59 616.50,317.85 616.90,310.22 617.30,319.00 617.70,311.02 618.10,318.74 618.50,309.97 618.90,319.09 619.30,311.11 619.70,319.47 620.10,310.27 620.50,320.72 620.90,310.84 621.30,320.79 621.70,310.22 622.10,319.82 622.50,310.70 622.90,320.75 623.30,311.62 623.70,320.34 624.10,312.03 624.50,320.01 624.90,312.02 625.30,320.36 625.70,312.36 626.10,320.67 626.50,311.81 626.90,319.69 627.30,311.83 627.70,320.50 628.10,312.56 628.50,320.58 628.90,311.40 629.30,319.63 629.70,310.58 630.10,320.67 630.50,311.42 630.90,320.56 631.30,311.17 631.70,319.53 632.10,311.79 632.50,319.28 632.90,313.14 633.30,319.60 633.70,312.08 634.10,320.78 634.50,312.82 634.90,319.97 635.30,311.87 635.70,320.80 636.10,311.55 636.50,320.43 636.90,311.49 637.30,319.36 637.70,311.48 638.10,319.82 638.50,311.23 638.90,319.84 639.30,311.91 639.70,319.85 640.10,313.54 640.50,319.75 640.90,312.06 641.30,319.71 641.70,312.94 642.10,319.94 642.50,311.96 642.90,320.93 643.30,311.65 643.70,320.65 644.10,312.70 644.50,319.45 644.90,312.60 645.30,318.96 645.70,312.80 646.10,319.53 646.50,311.67 646.90,320.52 647.30,311.08 647.70,319.73 648.10,311.79 648.50,319.63 648.90,312.14 649.30,319.60 649.70,311.84 650.10,319.48 650.50,311.66 650.90,319.73 651.30,311.53 651.70,319.39 652.10,312.93 652.50,320.83 652.90,312.85 653.30,320.04 653.70,312.02 654.10,320.79 654.50,312.95 654.90,321.04 655.30,314.03 655.70,320.99 656.10,312.93 656.50,321.16 656.90,313.47 657.30,321.92 657.70,312.77 658.10,321.25 658.50,312.67 658.90,321.31 659.30,313.28 659.70,320.01 660.10,312.73 660.50,320.39 660.90,312.91 661.30,320.25 661.70,312.40 662.10,321.22 662.50,312.39 662.90,320.94 663.30,311.36 663.70,320.82 664.10,312.34 664.50,320.87 664.90,312.20 665.30,321.01 665.70,312.89 666.10,321.10 666.50,312.65 666.90,322.26 667.30,311.90 667.70,321.27 668.10,312.76 668.50,321.47 668.90,313.11 669.30,321.77 669.70,313.87 670.10,321.52 670.50,314.88 670.90,321.89 671.30,314.80 671.70,321.17 672.10,313.66 672.50,321.68 672.90,313.79 673.30,322.26 673.70,313.99 674.10,321.58 674.50,312.84 674.90,321.37 675.30,312.41 675.70,322.90 676.10,313.14 676.50,322.69 676.90,313.06 677.30,322.67 677.70,313.15 678.10,322.08 678.50,314.18 678.90,322.78 679.30,313.53 679.70,322.09 680.10,313.74 680.50,322.40 680.90,314.31 681.30,323.26 681.70,313.93 682.10,322.32 682.50,312.84 682.90,323.27 683.30,313.29 683.70,322.97 684.10,314.34 684.50,322.28 684.90,314.12 685.30,321.71 685.70,314.86 686.10,322.96 686.50,314.49 686.90,322.56 687.30,315.27 687.70,322.99 688.10,314.39 688.50,322.09 688.90,314.21 689.30,322.48 689.70,313.55 690.10,323.32 690.50,313.65 690.90,322.17 691.30,314.50 691.70,322.70 692.10,314.02 692.50,321.84 692.90,314.22 693.30,321.75 693.70,315.04 694.10,322.37 694.50,313.94 694.90,322.62 695.30,313.74 695.70,322.09 696.10,313.47 696.50,322.39 696.90,313.70 697.30,322.55 697.70,314.24 698.10,323.45 698.50,314.42 698.90,321.76 699.30,314.36 699.70,321.86 700.10,314.22 700.50,322.48 700.90,314.77 701.30,322.04 701.70,313.66 702.10,323.77 702.50,313.65 702.90,323.47 703.30,313.62 703.70,322.91 704.10,314.37 704.50,322.97 704.90,314.13 705.30,323.20 705.70,314.88 706.10,324.56 706.50,314.58 706.90,324.53 707.30,315.24 707.70,324.66 708.10,315.48 708.50,324.18 708.90,315.67 709.30,323.23 709.70,316.41 710.10,322.52 710.50,315.80 710.90,322.80 711.30,314.95 711.70,323.85 712.10,315.36 712.50,322.67 712.90,315.06 713.30,323.57 713.70,315.13 714.10,323.60 714.50,315.30 714.90,324.57 715.30,316.01 715.70,324.57 716.10,316.50 716.50,323.53 716.90,316.72 717.30,323.12 717.70,317.43 718.10,322.79 718.50,316.63 718.90,324.12 719.30,316.92 719.70,323.53 720.10,316.67 720.50,325.23 720.90,315.77 721.30,324.25 721.70,317.05 722.10,323.28 722.50,316.48 722.90,323.61 723.30,316.64 723.70,324.25 724.10,315.68 724.50,323.53 724.90,316.33 725.30,322.95 725.70,315.72 726.10,322.94 726.50,315.82 726.90,323.42 727.30,316.48 727.70,324.02 728.10,316.84 728.50,322.70 728.90,316.89 729.30,324.19 729.70,316.38 730.10,323.09 730.50,316.78 730.90,323.98 731.30,315.60 731.70,323.19 732.10,315.86 732.50,324.56 732.90,315.60 733.30,323.59 733.70,316.23 734.10,323.23 734.50,316.57 734.90,324.24 735.30,316.69 735.70,323.00 736.10,316.63 736.50,323.71 736.90,315.68 737.30,325.07 737.70,316.47 738.10,325.17 738.50,315.71 738.90,324.86 739.30,315.96 739.70,325.00 740.10,315.78 740.50,325.22 740.90,315.90 741.30,324.75 741.70,314.98 742.10,323.27 742.50,315.80 742.90,323.00 743.30,314.83 743.70,324.06 744.10,316.28 744.50,322.61 744.90,315.49 745.30,323.09 745.70,315.38 746.10,323.45 746.50,316.80 746.90,323.47 747.30,317.29 747.70,322.57 748.10,316.36 748.50,323.56 748.90,316.59 749.30,325.11 749.70,316.40 750.10,325.35 750.50,317.09 750.90,324.60 751.30,315.38 751.70,325.09 752.10,316.68 752.50,323.64 752.90,315.88 753.30,324.03 753.70,316.75 754.10,324.18 754.50,316.89 754.90,325.15 755.30,317.70 755.70,325.31 756.10,316.09 756.50,324.42 756.90,316.63 757.30,324.64 757.70,315.20 758.10,324.67 758.50,316.22 758.90,323.61 759.30,316.15 759.70,323.92 760.10,317.51 760.50,324.56 760.90,317.52 761.30,324.35 761.70,316.79 762.10,323.26 762.50,316.42 762.90,324.37 763.30,317.15 763.70,324.63 764.10,316.13 764.50,324.24 764.90,316.42 765.30,325.32 765.70,317.41 766.10,323.93 766.50,317.33 766.90,324.32 767.30,316.96 767.70,323.11 768.10,316.14 768.50,323.44 768.90,316.32 769.30,324.60 769.70,316.87 770.10,325.97 770.50,316.80 770.90,324.81 771.30,316.17 771.70,324.64 772.10,315.61 772.50,325.35 772.90,315.14 773.30,324.06 773.70,314.97 774.10,324.02 774.50,315.32 774.90,323.63 775.30,316.06 775.70,324.60 776.10,316.07 776.50,324.75 776.90,316.30 777.30,324.96 777.70,317.14 778.10,324.17 778.50,316.39 778.90,325.45 779.30,317.30 779.70,325.63 780.10,316.15 780.50,326.04 780.90,316.27 781.30,325.43 781.70,316.60 782.10,325.54 782.50,316.23 782.90,324.76 783.30,316.38 783.70,325.26 784.10,316.83 784.50,325.12 784.90,317.32 785.30,325.19 785.70,316.54 786.10,324.67 786.50,316.07 786.90,324.01 787.30,315.85 787.70,324.70 788.10,316.07 788.50,324.14 788.90,316.40 789.30,324.25 789.70,318.29 790.10,325.25 790.50,317.53 790.90,324.70 791.30,317.53 791.70,325.95 792.10,316.92 792.50,325.67 792.90,318.04 793.30,325.20 793.70,317.04 794.10,325.62 794.50,317.22 794.90,324.99 795.30,316.75 795.70,324.92 796.10,316.83 796.50,325.13 796.90,316.40 797.30,326.08 797.70,316.80 798.10,325.08 798.50,318.21 798.90,325.45 799.30,316.71 799.70,326.07 800.10,317.02 800.50,325.51 800.90,316.67 801.30,325.93 801.70,317.51 802.10,324.74 802.50,316.69 802.90,325.45 803.30,317.13 803.70,325.01 804.10,317.65 804.50,325.16 804.90,318.10 805.30,325.12 805.70,317.30 806.10,324.66 806.50,318.35 806.90,324.62 807.30,317.45 807.70,325.84 808.10,317.78 808.50,324.48 808.90,317.35 809.30,324.87 809.70,316.19 810.10,324.12 810.50,315.61 810.90,324.89 811.30,317.05 811.70,324.65 812.10,317.93 812.50,325.48 812.90,317.58 813.30,324.32 813.70,317.61 814.10,324.99 814.50,316.52 814.90,323.72 815.30,317.24 815.70,323.91 816.10,316.26 816.50,323.85 816.90,316.97 817.30,324.06 817.70,316.43 818.10,323.78 818.50,316.44 818.90,324.80 819.30,315.62 819.70,324.86 820.10,316.77 820.50,324.63 820.90,315.68 821.30,325.60 821.70,316.42 822.10,324.06 822.50,315.49 822.90,324.09 823.30,316.02 823.70,323.79 824.10,316.55 824.50,325.57 824.90,317.60 825.30,325.53 825.70,317.05 826.10,325.84 826.50,316.59 826.90,325.88 827.30,316.15 827.70,325.21 828.10,315.88 828.50,324.80 828.90,316.46 829.30,324.64 829.70,314.68 830.10,323.72 830.50,314.79 830.90,324.30 831.30,315.80 831.70,323.45 832.10,315.99 832.50,323.32 832.90,316.84 833.30,323.41 833.70,316.10 834.10,323.93 834.50,316.08 834.90,324.57 835.30,316.23 835.70,324.37 836.10,316.15 836.50,323.93 836.90,317.01 837.30,323.89 837.70,316.47 838.10,323.21 838.50,315.58 838.90,323.07 839.30,315.46 839.70,323.36 840.10,315.51 840.50,322.77 840.90,316.01 841.30,322.78 841.70,315.22 842.10,323.74 842.50,316.85 842.90,324.68 843.30,316.70 843.70,322.85 844.10,316.19 844.50,323.88 844.90,316.24 845.30,323.14 845.70,315.85 846.10,322.58 846.50,315.99 846.90,322.02 847.30,314.86 847.70,322.25 848.10,313.67 848.50,320.77 848.90,314.42 849.30,320.68 849.70,314.69 850.10,321.07 850.50,315.34 850.90,321.93 851.30,314.03 851.70,321.36 852.10,313.74 852.50,321.56 852.90,313.53 853.30,321.60 853.70,314.12 854.10,321.72 854.50,314.09 854.90,321.54 855.30,314.80 855.70,322.27 856.10,314.79 856.50,321.59 856.90,314.15 857.30,322.20 857.70,312.23 858.10,321.71 858.50,313.89 858.90,320.42 859.30,314.19 859.70,319.16 860.10,313.36 860.50,319.00 860.90,313.25 861.30,318.50 861.70,313.11 862.10,318.70 862.50,312.54 862.90,317.72 863.30,311.34 863.70,317.44 864.10,311.21 864.50,317.48 864.90,311.43 865.30,317.89 865.70,310.85 866.10,317.72 866.50,311.50 866.90,316.51 867.30,310.37 867.70,315.57 868.10,310.62 868.50,316.08 868.90,310.07 869.30,315.89 869.70,308.80 870.10,315.08 870.50,307.66 870.90,314.43 871.30,307.79 871.70,314.25 872.10,307.46 872.50,313.09 872.90,306.07 873.30,313.64 873.70,306.67 874.10,312.54 874.50,305.92 874.90,311.19 875.30,305.48 875.70,308.38 876.10,302.80 876.50,305.76 876.90,298.41 877.30,302.78 877.70,295.56 878.10,300.96 878.50,293.12 878.90,297.57 879.30,289.72 879.70,293.30 880.10,286.63 880.50,289.14 880.90,282.65 881.30,284.72 881.70,276.54 882.10,278.47 882.50,271.59 882.90,271.21 883.30,264.29 883.70,263.37 884.00,257.08 884.10,258.03 884.20,254.66 884.30,255.07 884.40,251.71 884.50,251.84 884.60,247.84 884.70,249.07 884.80,243.86 884.90,245.74 885.00,240.09 885.10,242.03 885.20,235.83 885.30,238.09 885.40,231.52 885.50,233.74 885.60,227.65 885.70,229.66 885.80,223.43 885.90,224.46 886.00,219.15 886.10,219.16 886.20,214.92 886.30,214.79 886.40,210.85 886.50,210.17 886.60,206.29 886.70,205.71 886.80,201.62 886.90,201.22 887.00,196.84 887.10,196.05 887.20,191.57 887.30,190.26 887.40,185.86 887.50,184.76 887.60,179.89 887.70,178.30 887.80,173.99 887.90,172.24 888.00,167.45 888.10,166.01 888.20,161.62 888.30,160.17 888.40,155.68 888.50,154.18 888.60,150.08 888.70,149.16 888.80,145.22 888.90,144.46 889.00,140.80 889.10,140.37 889.20,137.45 889.30,137.12 889.40,134.00 889.50,133.83 889.60,131.53 889.70,131.07 889.80,128.86 889.90,128.37 890.00,126.39 890.10,125.80 890.20,124.09 890.30,123.38 890.40,121.91 890.50,121.18 890.60,119.75 890.70,119.09 890.80,117.62 890.90,116.82 891.00,115.37 891.10,114.51 891.20,113.27 891.30,112.43 891.40,111.51 891.50,110.81 891.60,110.26 891.70,109.96 891.80,109.78 891.90,110.05 892.00,110.17 892.10,111.02 892.20,111.34 892.30,112.72 892.40,113.10 892.50,114.98 892.60,115.56 892.70,117.64 892.80,118.30 892.90,120.40 893.00,121.51 893.10,124.64 893.20,126.67 893.30,130.81 893.40,133.01 893.50,137.71 893.60,139.72 893.70,144.40 893.80,146.29 893.90,151.41 894.00,153.97 894.10,158.72 894.20,161.68 894.30,166.47 894.40,169.89 894.50,174.76 894.60,177.77 894.70,183.15 894.80,185.58 894.90,190.71 895.00,192.88 895.10,198.01 895.20,199.48 895.30,204.58 895.40,204.87 895.50,210.16 895.60,211.45 895.70,216.94 895.80,217.21 895.90,223.23 896.00,223.93 896.10,229.24 896.20,230.00 896.30,234.68 896.40,234.76 896.50,240.13 896.60,239.92 896.70,245.81 896.80,244.70 896.90,250.95 897.00,249.72 897.10,255.74 897.20,254.43 897.30,259.62 897.40,258.73 897.50,263.68 897.60,262.85 897.70,267.13 897.80,267.55 897.90,271.50 898.00,271.19 898.10,274.61 898.20,273.39 898.30,278.60 898.40,276.87 898.50,281.20 898.60,278.00 898.70,282.99 898.80,280.65 898.90,284.32 899.30,284.88 899.70,291.43 900.10,290.44 900.50,296.33 900.90,295.16 901.30,299.79 901.70,297.76 902.10,304.37 902.50,300.87 902.90,308.00 903.30,303.61 903.70,308.73 904.10,305.51 904.50,310.60 904.90,308.46 905.30,312.47 905.70,310.11 906.10,313.01 906.50,310.57 906.90,314.91 907.30,310.72 907.70,316.04 908.10,312.25 908.50,316.06 908.90,311.99 909.30,317.49 909.70,312.99 910.10,318.11 910.50,314.24 910.90,318.72 911.30,315.00 911.70,320.69 912.10,314.99 912.50,320.75 912.90,316.20 913.30,321.65 913.70,316.04 914.10,322.22 914.50,317.02 914.90,322.83 915.30,318.02 915.70,322.94 916.10,318.55 916.50,321.83 916.90,319.24 917.30,322.58 917.70,318.75 918.10,321.62 918.50,318.37 918.90,321.93 919.30,318.69 919.70,322.21 920.10,319.06 920.50,321.61 920.90,318.85 921.30,322.35 921.70,318.99 922.10,323.01 922.50,319.11 922.90,323.37 923.30,318.16 923.70,322.95 924.10,318.55 924.50,322.92 924.90,318.28 925.30,323.70 925.70,319.32 926.10,323.40 926.50,319.99 926.90,323.62 927.30,319.68 927.70,322.80 928.10,320.21 928.50,324.03 928.90,319.51 929.30,323.51 929.70,319.04 930.10,324.14 930.50,319.28 930.90,324.25 931.30,319.86 931.70,323.76 932.10,319.95 932.50,323.90 932.90,320.97 933.30,324.77 933.70,320.19 934.10,324.53 934.50,319.84 934.90,323.87 935.30,320.03 935.70,324.80 936.10,320.38 936.50,324.15 936.90,319.81 937.30,324.83 937.70,319.85 938.10,323.87 938.50,320.09 938.90,324.48 939.30,320.25 939.70,324.36 940.10,320.40 940.50,324.82 940.90,319.82 941.30,325.17 941.70,320.69 942.10,325.27 942.50,319.91 942.90,324.60 943.30,320.23 943.70,324.39 944.10,319.90 944.50,325.64 944.90,319.87 945.30,325.34 945.70,320.07 946.10,325.48 946.50,320.58 946.90,325.69 947.30,320.54 947.70,326.11 948.10,320.40 948.50,324.99 948.90,321.14 949.30,325.47 949.70,321.43 950.10,325.95 950.50,320.77 950.90,325.65 951.30,320.74 951.70,325.09 952.10,320.35 952.50,326.02 952.90,320.37 953.30,325.53 953.70,320.51 954.10,324.98 954.50,319.68 954.90,324.51 955.30,319.62 955.70,323.55 956.10,319.72 956.50,324.55 956.90,320.36 957.30,323.94 957.70,319.96 958.10,324.62 958.50,319.84 958.90,325.42 959.30,319.99 959.70,325.33 960.10,320.39 960.50,325.95 960.90,320.11 961.30,324.66 961.70,320.11 962.10,324.60 962.50,320.18 962.90,324.56 963.30,320.13 963.70,323.89 964.10,320.15 964.50,325.13 964.90,321.10 965.30,324.97 965.70,320.92 966.10,324.93 966.50,320.70 966.90,323.87 967.30,320.89 967.70,324.10 968.10,321.84 968.50,324.02 968.90,321.59 969.30,324.30 969.70,320.54 970.10,323.96 970.50,320.00 970.90,323.80 971.30,319.65 971.70,324.25 972.10,320.84 972.50,325.05 972.90,320.76 973.30,324.55 973.70,320.88 974.10,324.18 974.50,321.46 974.90,323.73 975.30,322.11 975.70,323.67 976.10,322.07 976.50,323.94 976.90,320.81 977.30,324.88 977.70,320.23 978.10,324.95 978.50,320.41 978.90,324.27 979.30,321.53 979.70,324.22 980.10,321.53 980.50,324.26 980.90,321.53 981.30,324.18 981.70,321.13 982.10,325.42 982.50,321.75 982.90,326.09 983.30,321.86 983.70,325.41 984.10,320.74 984.50,325.52 984.90,320.11 985.30,324.44 985.70,319.79 986.10,325.06 986.50,320.44 986.90,324.78 987.30,321.04 987.70,324.34 988.10,321.15 988.50,324.31 988.90,321.56 989.30,325.34 989.70,321.55 990.10,325.75 990.50,321.39 990.90,325.88 991.30,321.09 991.70,325.65 992.10,321.05 992.50,324.92" stroke="#ff0000" stroke-width="4.4"/>
</g>
<g fill="none" stroke-width="4.4">
<path d="M115,142H155" stroke="#000" stroke-dasharray="11.4 2.8"/>
<path d="M115,181.6H155" stroke="#000" stroke-width="5"/>
<path d="M599,160.3H638" stroke="#0000ff" stroke-dasharray="10.5 3.8"/>
<path d="M599,188.6H638" stroke="#ff0000" stroke-width="4.4"/>
</g>
<g opacity="0.999">
<text transform="translate(83.40,26.00) scale(0.916,1)" text-anchor="end" font-size="30.5">100</text>
<text transform="translate(83.40,89.20) scale(0.916,1)" text-anchor="end" font-size="30.5">80</text>
<text transform="translate(83.40,152.40) scale(0.916,1)" text-anchor="end" font-size="30.5">60</text>
<text transform="translate(83.40,215.60) scale(0.916,1)" text-anchor="end" font-size="30.5">40</text>
<text transform="translate(83.40,278.80) scale(0.916,1)" text-anchor="end" font-size="30.5">20</text>
<text transform="translate(83.40,342.00) scale(0.916,1)" text-anchor="end" font-size="30.5">0</text>
<text transform="translate(581.40,26.50) scale(0.916,1)" text-anchor="end" font-size="30.5">50</text>
<text transform="translate(581.40,89.60) scale(0.916,1)" text-anchor="end" font-size="30.5">40</text>
<text transform="translate(581.40,152.70) scale(0.916,1)" text-anchor="end" font-size="30.5">30</text>
<text transform="translate(581.40,215.80) scale(0.916,1)" text-anchor="end" font-size="30.5">20</text>
<text transform="translate(581.40,278.90) scale(0.916,1)" text-anchor="end" font-size="30.5">10</text>
<text transform="translate(581.40,342.00) scale(0.916,1)" text-anchor="end" font-size="30.5">0</text>
<text transform="translate(87.70,361.70) scale(0.916,1)" text-anchor="middle" font-size="30.5">1470</text>
<text transform="translate(585.80,361.70) scale(0.916,1)" text-anchor="middle" font-size="30.5">1470</text>
<text transform="translate(166.06,361.70) scale(0.916,1)" text-anchor="middle" font-size="30.5">1490</text>
<text transform="translate(667.26,361.70) scale(0.916,1)" text-anchor="middle" font-size="30.5">1490</text>
<text transform="translate(244.42,361.70) scale(0.916,1)" text-anchor="middle" font-size="30.5">1510</text>
<text transform="translate(748.72,361.70) scale(0.916,1)" text-anchor="middle" font-size="30.5">1510</text>
<text transform="translate(322.78,361.70) scale(0.916,1)" text-anchor="middle" font-size="30.5">1530</text>
<text transform="translate(830.18,361.70) scale(0.916,1)" text-anchor="middle" font-size="30.5">1530</text>
<text transform="translate(401.14,361.70) scale(0.916,1)" text-anchor="middle" font-size="30.5">1550</text>
<text transform="translate(911.64,361.70) scale(0.916,1)" text-anchor="middle" font-size="30.5">1550</text>
<text transform="translate(479.50,361.70) scale(0.916,1)" text-anchor="middle" font-size="30.5">1570</text>
<text transform="translate(993.10,361.70) scale(0.916,1)" text-anchor="middle" font-size="30.5">1570</text>
<text transform="translate(282.00,391.00) scale(0.916,1)" text-anchor="middle" font-size="30.5">Wavelength (nm)</text>
<text transform="translate(787.20,391.00) scale(0.916,1)" text-anchor="middle" font-size="30.5">Wavelength (nm)</text>
<text transform="translate(251.50,431.00) scale(0.97,1)" text-anchor="middle" font-size="27">(a)</text>
<text transform="translate(792.20,431.00) scale(0.97,1)" text-anchor="middle" font-size="27">(b)</text>
<text transform="translate(25.2,175.2) rotate(-90) scale(1,0.95)" text-anchor="middle" font-size="29">R/T(%)</text>
<text transform="translate(540.5,176) rotate(-90) scale(1,0.95)" text-anchor="middle" font-size="29">A(%)</text>
<text x="127" y="58.4" font-size="23">Transmission</text>
<text x="143.8" y="299.5" font-size="23">Reflection</text>
<text x="162" y="153.2" font-size="23">Simulated</text>
<text x="166" y="187.7" font-size="23">Measured</text>
<text x="640.6" y="168.3" font-size="23">Simulated</text>
<text x="640.6" y="199.3" font-size="23">Measured</text>
</g>
</svg>
</body></html>
